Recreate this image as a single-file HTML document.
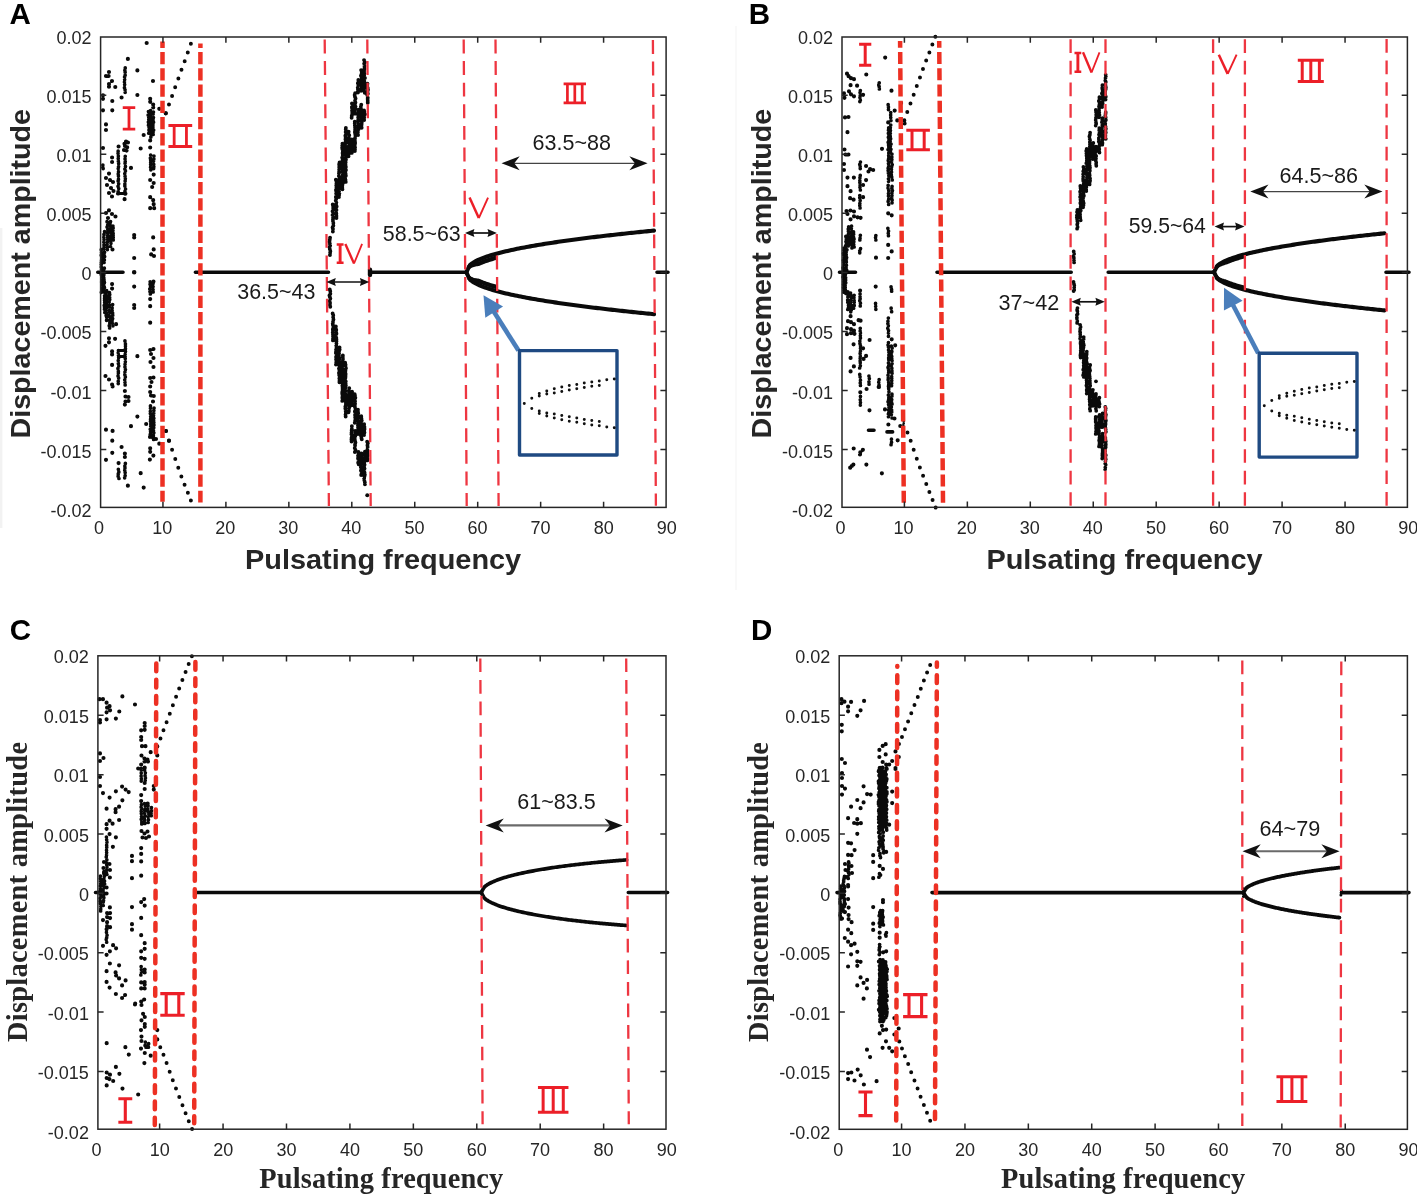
<!DOCTYPE html>
<html><head><meta charset="utf-8"><title>Bifurcation diagrams</title>
<style>html,body{margin:0;padding:0;background:#fff}svg{display:block;will-change:transform;transform:translateZ(0)}</style></head><body>
<svg width="1417" height="1195" viewBox="0 0 1417 1195">
<rect width="1417" height="1195" fill="#fff"/>
<rect x="0" y="228" width="2.4" height="300" fill="#f2f2f2"/><rect x="735.4" y="26" width="1.2" height="564" fill="#f6f6f6"/>
<text x="9.4" y="24" font-family="Liberation Sans, sans-serif" font-weight="bold" font-size="29.5" fill="#000">A</text>
<text x="748.8" y="24" font-family="Liberation Sans, sans-serif" font-weight="bold" font-size="29.5" fill="#000">B</text>
<text x="9.7" y="639.6" font-family="Liberation Sans, sans-serif" font-weight="bold" font-size="29.5" fill="#000">C</text>
<text x="751" y="639.6" font-family="Liberation Sans, sans-serif" font-weight="bold" font-size="29.5" fill="#000">D</text>
<path d="M97.8 272.3H123M195.4 272.3H328.5M371 272.3H466M657 272.3H668" stroke="#0a0a0a" stroke-width="3.6" stroke-linecap="round" fill="none"/>
<path d="M131.9 272.3a2.2800000000000002 2.2800000000000002 0 1 0 4.5600000000000005 0a2.2800000000000002 2.2800000000000002 0 1 0 -4.5600000000000005 0" fill="#0a0a0a"/>
<path d="M370.0 269.8V274.9" fill="none" stroke="#0a0a0a" stroke-width="4.4" stroke-linecap="round"/>
<polyline points="466.40 272.30 468.28 268.22 470.15 264.84 472.03 263.39 473.90 262.18 475.78 261.14 477.66 260.21 479.53 259.36 481.41 258.58 483.28 257.85 485.16 257.16 487.04 256.51 488.91 255.90 490.79 255.31 492.66 254.74 494.54 254.20 496.42 253.68 498.29 253.18 500.17 252.69 502.04 252.22 503.92 251.76 505.80 251.31 507.67 250.88 509.55 250.46 511.42 250.04 513.30 249.64 515.18 249.25 517.05 248.86 518.93 248.48 520.80 248.11 522.68 247.75 524.56 247.39 526.43 247.04 528.31 246.70 530.18 246.36 532.06 246.03 533.94 245.70 535.81 245.38 537.69 245.06 539.56 244.74 541.44 244.44 543.32 244.13 545.19 243.83 547.07 243.54 548.94 243.24 550.82 242.95 552.70 242.67 554.57 242.39 556.45 242.11 558.32 241.83 560.20 241.56 562.08 241.29 563.95 241.03 565.83 240.76 567.70 240.50 569.58 240.25 571.46 239.99 573.33 239.74 575.21 239.49 577.08 239.24 578.96 238.99 580.84 238.75 582.71 238.51 584.59 238.27 586.46 238.03 588.34 237.80 590.22 237.57 592.09 237.34 593.97 237.11 595.84 236.88 597.72 236.66 599.60 236.43 601.47 236.21 603.35 235.99 605.22 235.77 607.10 235.56 608.98 235.34 610.85 235.13 612.73 234.92 614.60 234.71 616.48 234.50 618.36 234.29 620.23 234.09 622.11 233.88 623.98 233.68 625.86 233.48 627.74 233.28 629.61 233.08 631.49 232.88 633.36 232.68 635.24 232.49 637.12 232.30 638.99 232.10 640.87 231.91 642.74 231.72 644.62 231.53 646.50 231.34 648.37 231.16 650.25 230.97 652.12 230.78 654.00 230.60" fill="none" stroke="#0a0a0a" stroke-width="4.1" stroke-linecap="round" stroke-linejoin="round"/>
<polyline points="466.40 272.30 468.28 276.40 470.15 279.79 472.03 281.26 473.90 282.47 475.78 283.51 477.66 284.45 479.53 285.30 481.41 286.09 483.28 286.82 485.16 287.51 487.04 288.16 488.91 288.78 490.79 289.37 492.66 289.94 494.54 290.48 496.42 291.01 498.29 291.51 500.17 292.00 502.04 292.48 503.92 292.94 505.80 293.39 507.67 293.82 509.55 294.25 511.42 294.66 513.30 295.07 515.18 295.46 517.05 295.85 518.93 296.23 520.80 296.60 522.68 296.97 524.56 297.33 526.43 297.68 528.31 298.03 530.18 298.37 532.06 298.70 533.94 299.03 535.81 299.35 537.69 299.67 539.56 299.99 541.44 300.30 543.32 300.60 545.19 300.91 547.07 301.20 548.94 301.50 550.82 301.79 552.70 302.07 554.57 302.36 556.45 302.64 558.32 302.91 560.20 303.19 562.08 303.46 563.95 303.72 565.83 303.99 567.70 304.25 569.58 304.51 571.46 304.77 573.33 305.02 575.21 305.27 577.08 305.52 578.96 305.77 580.84 306.01 582.71 306.25 584.59 306.49 586.46 306.73 588.34 306.97 590.22 307.20 592.09 307.43 593.97 307.66 595.84 307.89 597.72 308.11 599.60 308.34 601.47 308.56 603.35 308.78 605.22 309.00 607.10 309.22 608.98 309.43 610.85 309.65 612.73 309.86 614.60 310.07 616.48 310.28 618.36 310.49 620.23 310.70 622.11 310.90 623.98 311.11 625.86 311.31 627.74 311.51 629.61 311.71 631.49 311.91 633.36 312.11 635.24 312.30 637.12 312.50 638.99 312.69 640.87 312.88 642.74 313.07 644.62 313.26 646.50 313.45 648.37 313.64 650.25 313.83 652.12 314.02 654.00 314.20" fill="none" stroke="#0a0a0a" stroke-width="4.1" stroke-linecap="round" stroke-linejoin="round"/>
<polyline points="468.50 267.22 469.46 266.50 470.42 265.95 471.38 265.51 472.34 265.15 473.30 264.85 474.26 264.59 475.22 264.38 476.18 264.19 477.14 264.03 478.10 263.90 479.06 263.57 480.02 263.15 480.98 262.75 481.94 262.36 482.90 261.99 483.86 261.63 484.82 261.28 485.78 260.94 486.74 260.61 487.70 260.29 488.66 259.98 489.62 259.67 490.58 259.37 491.54 259.08 492.50 258.79 493.46 258.51 494.42 258.24 495.38 257.97 496.34 257.70 497.30 257.44" fill="none" stroke="#0a0a0a" stroke-width="4.4" stroke-linecap="butt" stroke-linejoin="round"/>
<polyline points="468.50 277.40 469.46 278.13 470.42 278.68 471.38 279.13 472.34 279.49 473.30 279.80 474.26 280.05 475.22 280.27 476.18 280.46 477.14 280.62 478.10 280.76 479.06 281.10 480.02 281.51 480.98 281.92 481.94 282.30 482.90 282.68 483.86 283.04 484.82 283.39 485.78 283.73 486.74 284.06 487.70 284.39 488.66 284.70 489.62 285.01 490.58 285.31 491.54 285.60 492.50 285.89 493.46 286.17 494.42 286.45 495.38 286.72 496.34 286.99 497.30 287.25" fill="none" stroke="#0a0a0a" stroke-width="4.4" stroke-linecap="butt" stroke-linejoin="round"/>
<path d="M328.1 237.7a1.95 1.95 0 1 0 3.9 0a1.95 1.95 0 1 0 -3.9 0M327.8 239.8a1.95 1.95 0 1 0 3.9 0a1.95 1.95 0 1 0 -3.9 0M327.5 241.7a1.95 1.95 0 1 0 3.9 0a1.95 1.95 0 1 0 -3.9 0M327.9 243.7a1.95 1.95 0 1 0 3.9 0a1.95 1.95 0 1 0 -3.9 0M328.2 245.4a1.95 1.95 0 1 0 3.9 0a1.95 1.95 0 1 0 -3.9 0M327.6 247.5a1.95 1.95 0 1 0 3.9 0a1.95 1.95 0 1 0 -3.9 0M327.9 249.3a1.95 1.95 0 1 0 3.9 0a1.95 1.95 0 1 0 -3.9 0M328.4 251.2a1.95 1.95 0 1 0 3.9 0a1.95 1.95 0 1 0 -3.9 0M328.2 252.7a1.95 1.95 0 1 0 3.9 0a1.95 1.95 0 1 0 -3.9 0M328.0 255.0a1.95 1.95 0 1 0 3.9 0a1.95 1.95 0 1 0 -3.9 0M327.8 289.5a1.95 1.95 0 1 0 3.9 0a1.95 1.95 0 1 0 -3.9 0M328.3 291.2a1.95 1.95 0 1 0 3.9 0a1.95 1.95 0 1 0 -3.9 0M328.4 293.8a1.95 1.95 0 1 0 3.9 0a1.95 1.95 0 1 0 -3.9 0M327.5 295.4a1.95 1.95 0 1 0 3.9 0a1.95 1.95 0 1 0 -3.9 0M327.9 296.9a1.95 1.95 0 1 0 3.9 0a1.95 1.95 0 1 0 -3.9 0M328.4 298.6a1.95 1.95 0 1 0 3.9 0a1.95 1.95 0 1 0 -3.9 0M327.8 300.9a1.95 1.95 0 1 0 3.9 0a1.95 1.95 0 1 0 -3.9 0M328.1 303.0a1.95 1.95 0 1 0 3.9 0a1.95 1.95 0 1 0 -3.9 0M328.0 304.9a1.95 1.95 0 1 0 3.9 0a1.95 1.95 0 1 0 -3.9 0M328.3 306.8a1.95 1.95 0 1 0 3.9 0a1.95 1.95 0 1 0 -3.9 0M330.8 204.4a1.95 1.95 0 1 0 3.9 0a1.95 1.95 0 1 0 -3.9 0M331.1 205.8a1.95 1.95 0 1 0 3.9 0a1.95 1.95 0 1 0 -3.9 0M331.2 208.0a1.95 1.95 0 1 0 3.9 0a1.95 1.95 0 1 0 -3.9 0M331.5 209.3a1.95 1.95 0 1 0 3.9 0a1.95 1.95 0 1 0 -3.9 0M330.6 211.3a1.95 1.95 0 1 0 3.9 0a1.95 1.95 0 1 0 -3.9 0M331.4 213.6a1.95 1.95 0 1 0 3.9 0a1.95 1.95 0 1 0 -3.9 0M330.6 215.1a1.95 1.95 0 1 0 3.9 0a1.95 1.95 0 1 0 -3.9 0M331.1 217.3a1.95 1.95 0 1 0 3.9 0a1.95 1.95 0 1 0 -3.9 0M331.0 219.2a1.95 1.95 0 1 0 3.9 0a1.95 1.95 0 1 0 -3.9 0M331.0 220.9a1.95 1.95 0 1 0 3.9 0a1.95 1.95 0 1 0 -3.9 0M331.4 223.1a1.95 1.95 0 1 0 3.9 0a1.95 1.95 0 1 0 -3.9 0M331.4 225.5a1.95 1.95 0 1 0 3.9 0a1.95 1.95 0 1 0 -3.9 0M330.6 227.4a1.95 1.95 0 1 0 3.9 0a1.95 1.95 0 1 0 -3.9 0M331.0 229.0a1.95 1.95 0 1 0 3.9 0a1.95 1.95 0 1 0 -3.9 0M330.9 231.5a1.95 1.95 0 1 0 3.9 0a1.95 1.95 0 1 0 -3.9 0M330.7 313.4a1.95 1.95 0 1 0 3.9 0a1.95 1.95 0 1 0 -3.9 0M331.3 315.2a1.95 1.95 0 1 0 3.9 0a1.95 1.95 0 1 0 -3.9 0M331.2 317.3a1.95 1.95 0 1 0 3.9 0a1.95 1.95 0 1 0 -3.9 0M331.5 319.4a1.95 1.95 0 1 0 3.9 0a1.95 1.95 0 1 0 -3.9 0M331.1 321.8a1.95 1.95 0 1 0 3.9 0a1.95 1.95 0 1 0 -3.9 0M330.8 323.6a1.95 1.95 0 1 0 3.9 0a1.95 1.95 0 1 0 -3.9 0M330.9 324.8a1.95 1.95 0 1 0 3.9 0a1.95 1.95 0 1 0 -3.9 0M331.4 327.1a1.95 1.95 0 1 0 3.9 0a1.95 1.95 0 1 0 -3.9 0M330.9 329.3a1.95 1.95 0 1 0 3.9 0a1.95 1.95 0 1 0 -3.9 0M331.0 330.6a1.95 1.95 0 1 0 3.9 0a1.95 1.95 0 1 0 -3.9 0M330.8 332.5a1.95 1.95 0 1 0 3.9 0a1.95 1.95 0 1 0 -3.9 0M331.0 334.7a1.95 1.95 0 1 0 3.9 0a1.95 1.95 0 1 0 -3.9 0M331.1 336.4a1.95 1.95 0 1 0 3.9 0a1.95 1.95 0 1 0 -3.9 0M331.0 338.9a1.95 1.95 0 1 0 3.9 0a1.95 1.95 0 1 0 -3.9 0M331.0 340.4a1.95 1.95 0 1 0 3.9 0a1.95 1.95 0 1 0 -3.9 0M333.9 179.8a1.95 1.95 0 1 0 3.9 0a1.95 1.95 0 1 0 -3.9 0M334.5 181.7a1.95 1.95 0 1 0 3.9 0a1.95 1.95 0 1 0 -3.9 0M334.5 183.4a1.95 1.95 0 1 0 3.9 0a1.95 1.95 0 1 0 -3.9 0M334.3 185.4a1.95 1.95 0 1 0 3.9 0a1.95 1.95 0 1 0 -3.9 0M334.5 187.5a1.95 1.95 0 1 0 3.9 0a1.95 1.95 0 1 0 -3.9 0M334.0 189.9a1.95 1.95 0 1 0 3.9 0a1.95 1.95 0 1 0 -3.9 0M334.3 191.7a1.95 1.95 0 1 0 3.9 0a1.95 1.95 0 1 0 -3.9 0M334.2 193.4a1.95 1.95 0 1 0 3.9 0a1.95 1.95 0 1 0 -3.9 0M334.6 195.6a1.95 1.95 0 1 0 3.9 0a1.95 1.95 0 1 0 -3.9 0M333.9 197.0a1.95 1.95 0 1 0 3.9 0a1.95 1.95 0 1 0 -3.9 0M334.3 198.7a1.95 1.95 0 1 0 3.9 0a1.95 1.95 0 1 0 -3.9 0M333.8 200.6a1.95 1.95 0 1 0 3.9 0a1.95 1.95 0 1 0 -3.9 0M334.4 202.6a1.95 1.95 0 1 0 3.9 0a1.95 1.95 0 1 0 -3.9 0M334.1 204.4a1.95 1.95 0 1 0 3.9 0a1.95 1.95 0 1 0 -3.9 0M334.7 206.4a1.95 1.95 0 1 0 3.9 0a1.95 1.95 0 1 0 -3.9 0M334.0 208.5a1.95 1.95 0 1 0 3.9 0a1.95 1.95 0 1 0 -3.9 0M334.5 209.9a1.95 1.95 0 1 0 3.9 0a1.95 1.95 0 1 0 -3.9 0M334.2 212.8a1.95 1.95 0 1 0 3.9 0a1.95 1.95 0 1 0 -3.9 0M334.4 213.8a1.95 1.95 0 1 0 3.9 0a1.95 1.95 0 1 0 -3.9 0M334.5 215.9a1.95 1.95 0 1 0 3.9 0a1.95 1.95 0 1 0 -3.9 0M334.5 218.0a1.95 1.95 0 1 0 3.9 0a1.95 1.95 0 1 0 -3.9 0M333.9 326.5a1.95 1.95 0 1 0 3.9 0a1.95 1.95 0 1 0 -3.9 0M333.8 328.3a1.95 1.95 0 1 0 3.9 0a1.95 1.95 0 1 0 -3.9 0M334.3 330.0a1.95 1.95 0 1 0 3.9 0a1.95 1.95 0 1 0 -3.9 0M334.3 332.7a1.95 1.95 0 1 0 3.9 0a1.95 1.95 0 1 0 -3.9 0M334.5 333.8a1.95 1.95 0 1 0 3.9 0a1.95 1.95 0 1 0 -3.9 0M333.9 336.1a1.95 1.95 0 1 0 3.9 0a1.95 1.95 0 1 0 -3.9 0M334.4 338.1a1.95 1.95 0 1 0 3.9 0a1.95 1.95 0 1 0 -3.9 0M334.5 339.7a1.95 1.95 0 1 0 3.9 0a1.95 1.95 0 1 0 -3.9 0M334.5 341.5a1.95 1.95 0 1 0 3.9 0a1.95 1.95 0 1 0 -3.9 0M334.5 343.5a1.95 1.95 0 1 0 3.9 0a1.95 1.95 0 1 0 -3.9 0M334.3 345.5a1.95 1.95 0 1 0 3.9 0a1.95 1.95 0 1 0 -3.9 0M334.6 347.4a1.95 1.95 0 1 0 3.9 0a1.95 1.95 0 1 0 -3.9 0M334.1 349.7a1.95 1.95 0 1 0 3.9 0a1.95 1.95 0 1 0 -3.9 0M334.0 351.1a1.95 1.95 0 1 0 3.9 0a1.95 1.95 0 1 0 -3.9 0M333.9 352.9a1.95 1.95 0 1 0 3.9 0a1.95 1.95 0 1 0 -3.9 0M334.7 355.6a1.95 1.95 0 1 0 3.9 0a1.95 1.95 0 1 0 -3.9 0M334.1 356.9a1.95 1.95 0 1 0 3.9 0a1.95 1.95 0 1 0 -3.9 0M334.1 359.3a1.95 1.95 0 1 0 3.9 0a1.95 1.95 0 1 0 -3.9 0M334.4 361.0a1.95 1.95 0 1 0 3.9 0a1.95 1.95 0 1 0 -3.9 0M334.3 362.5a1.95 1.95 0 1 0 3.9 0a1.95 1.95 0 1 0 -3.9 0M334.0 364.6a1.95 1.95 0 1 0 3.9 0a1.95 1.95 0 1 0 -3.9 0M337.6 162.4a1.95 1.95 0 1 0 3.9 0a1.95 1.95 0 1 0 -3.9 0M337.2 164.3a1.95 1.95 0 1 0 3.9 0a1.95 1.95 0 1 0 -3.9 0M337.3 165.9a1.95 1.95 0 1 0 3.9 0a1.95 1.95 0 1 0 -3.9 0M337.3 167.5a1.95 1.95 0 1 0 3.9 0a1.95 1.95 0 1 0 -3.9 0M337.2 169.7a1.95 1.95 0 1 0 3.9 0a1.95 1.95 0 1 0 -3.9 0M337.2 171.4a1.95 1.95 0 1 0 3.9 0a1.95 1.95 0 1 0 -3.9 0M337.0 173.2a1.95 1.95 0 1 0 3.9 0a1.95 1.95 0 1 0 -3.9 0M336.9 176.1a1.95 1.95 0 1 0 3.9 0a1.95 1.95 0 1 0 -3.9 0M337.8 177.6a1.95 1.95 0 1 0 3.9 0a1.95 1.95 0 1 0 -3.9 0M337.0 179.7a1.95 1.95 0 1 0 3.9 0a1.95 1.95 0 1 0 -3.9 0M337.6 181.5a1.95 1.95 0 1 0 3.9 0a1.95 1.95 0 1 0 -3.9 0M337.6 183.2a1.95 1.95 0 1 0 3.9 0a1.95 1.95 0 1 0 -3.9 0M337.7 185.8a1.95 1.95 0 1 0 3.9 0a1.95 1.95 0 1 0 -3.9 0M337.6 187.4a1.95 1.95 0 1 0 3.9 0a1.95 1.95 0 1 0 -3.9 0M337.3 188.9a1.95 1.95 0 1 0 3.9 0a1.95 1.95 0 1 0 -3.9 0M337.1 191.4a1.95 1.95 0 1 0 3.9 0a1.95 1.95 0 1 0 -3.9 0M337.4 193.4a1.95 1.95 0 1 0 3.9 0a1.95 1.95 0 1 0 -3.9 0M337.1 195.3a1.95 1.95 0 1 0 3.9 0a1.95 1.95 0 1 0 -3.9 0M337.0 197.0a1.95 1.95 0 1 0 3.9 0a1.95 1.95 0 1 0 -3.9 0M337.6 347.4a1.95 1.95 0 1 0 3.9 0a1.95 1.95 0 1 0 -3.9 0M337.7 349.5a1.95 1.95 0 1 0 3.9 0a1.95 1.95 0 1 0 -3.9 0M337.2 351.3a1.95 1.95 0 1 0 3.9 0a1.95 1.95 0 1 0 -3.9 0M337.1 353.6a1.95 1.95 0 1 0 3.9 0a1.95 1.95 0 1 0 -3.9 0M336.9 355.6a1.95 1.95 0 1 0 3.9 0a1.95 1.95 0 1 0 -3.9 0M337.3 357.8a1.95 1.95 0 1 0 3.9 0a1.95 1.95 0 1 0 -3.9 0M337.4 358.9a1.95 1.95 0 1 0 3.9 0a1.95 1.95 0 1 0 -3.9 0M337.2 361.2a1.95 1.95 0 1 0 3.9 0a1.95 1.95 0 1 0 -3.9 0M337.6 363.1a1.95 1.95 0 1 0 3.9 0a1.95 1.95 0 1 0 -3.9 0M337.0 364.7a1.95 1.95 0 1 0 3.9 0a1.95 1.95 0 1 0 -3.9 0M337.5 367.1a1.95 1.95 0 1 0 3.9 0a1.95 1.95 0 1 0 -3.9 0M337.0 368.6a1.95 1.95 0 1 0 3.9 0a1.95 1.95 0 1 0 -3.9 0M337.4 370.6a1.95 1.95 0 1 0 3.9 0a1.95 1.95 0 1 0 -3.9 0M337.0 373.0a1.95 1.95 0 1 0 3.9 0a1.95 1.95 0 1 0 -3.9 0M337.2 375.1a1.95 1.95 0 1 0 3.9 0a1.95 1.95 0 1 0 -3.9 0M337.7 377.2a1.95 1.95 0 1 0 3.9 0a1.95 1.95 0 1 0 -3.9 0M337.4 378.4a1.95 1.95 0 1 0 3.9 0a1.95 1.95 0 1 0 -3.9 0M337.5 381.0a1.95 1.95 0 1 0 3.9 0a1.95 1.95 0 1 0 -3.9 0M337.5 382.2a1.95 1.95 0 1 0 3.9 0a1.95 1.95 0 1 0 -3.9 0M340.5 143.6a1.95 1.95 0 1 0 3.9 0a1.95 1.95 0 1 0 -3.9 0M340.3 145.6a1.95 1.95 0 1 0 3.9 0a1.95 1.95 0 1 0 -3.9 0M340.2 147.8a1.95 1.95 0 1 0 3.9 0a1.95 1.95 0 1 0 -3.9 0M340.4 149.1a1.95 1.95 0 1 0 3.9 0a1.95 1.95 0 1 0 -3.9 0M340.9 151.2a1.95 1.95 0 1 0 3.9 0a1.95 1.95 0 1 0 -3.9 0M340.6 153.1a1.95 1.95 0 1 0 3.9 0a1.95 1.95 0 1 0 -3.9 0M340.8 155.0a1.95 1.95 0 1 0 3.9 0a1.95 1.95 0 1 0 -3.9 0M340.2 157.6a1.95 1.95 0 1 0 3.9 0a1.95 1.95 0 1 0 -3.9 0M340.9 158.5a1.95 1.95 0 1 0 3.9 0a1.95 1.95 0 1 0 -3.9 0M340.5 160.4a1.95 1.95 0 1 0 3.9 0a1.95 1.95 0 1 0 -3.9 0M340.3 163.0a1.95 1.95 0 1 0 3.9 0a1.95 1.95 0 1 0 -3.9 0M340.7 164.8a1.95 1.95 0 1 0 3.9 0a1.95 1.95 0 1 0 -3.9 0M340.4 166.1a1.95 1.95 0 1 0 3.9 0a1.95 1.95 0 1 0 -3.9 0M340.1 168.3a1.95 1.95 0 1 0 3.9 0a1.95 1.95 0 1 0 -3.9 0M341.0 170.0a1.95 1.95 0 1 0 3.9 0a1.95 1.95 0 1 0 -3.9 0M340.5 171.9a1.95 1.95 0 1 0 3.9 0a1.95 1.95 0 1 0 -3.9 0M340.8 174.3a1.95 1.95 0 1 0 3.9 0a1.95 1.95 0 1 0 -3.9 0M340.6 176.0a1.95 1.95 0 1 0 3.9 0a1.95 1.95 0 1 0 -3.9 0M340.2 177.5a1.95 1.95 0 1 0 3.9 0a1.95 1.95 0 1 0 -3.9 0M340.1 179.7a1.95 1.95 0 1 0 3.9 0a1.95 1.95 0 1 0 -3.9 0M340.9 181.9a1.95 1.95 0 1 0 3.9 0a1.95 1.95 0 1 0 -3.9 0M340.9 183.3a1.95 1.95 0 1 0 3.9 0a1.95 1.95 0 1 0 -3.9 0M340.4 185.7a1.95 1.95 0 1 0 3.9 0a1.95 1.95 0 1 0 -3.9 0M340.3 187.3a1.95 1.95 0 1 0 3.9 0a1.95 1.95 0 1 0 -3.9 0M340.5 189.3a1.95 1.95 0 1 0 3.9 0a1.95 1.95 0 1 0 -3.9 0M340.9 355.4a1.95 1.95 0 1 0 3.9 0a1.95 1.95 0 1 0 -3.9 0M340.9 357.0a1.95 1.95 0 1 0 3.9 0a1.95 1.95 0 1 0 -3.9 0M341.0 359.1a1.95 1.95 0 1 0 3.9 0a1.95 1.95 0 1 0 -3.9 0M340.8 361.2a1.95 1.95 0 1 0 3.9 0a1.95 1.95 0 1 0 -3.9 0M340.3 363.4a1.95 1.95 0 1 0 3.9 0a1.95 1.95 0 1 0 -3.9 0M340.3 364.8a1.95 1.95 0 1 0 3.9 0a1.95 1.95 0 1 0 -3.9 0M340.2 367.1a1.95 1.95 0 1 0 3.9 0a1.95 1.95 0 1 0 -3.9 0M340.3 368.7a1.95 1.95 0 1 0 3.9 0a1.95 1.95 0 1 0 -3.9 0M340.5 370.1a1.95 1.95 0 1 0 3.9 0a1.95 1.95 0 1 0 -3.9 0M340.5 372.6a1.95 1.95 0 1 0 3.9 0a1.95 1.95 0 1 0 -3.9 0M340.3 374.5a1.95 1.95 0 1 0 3.9 0a1.95 1.95 0 1 0 -3.9 0M340.1 376.6a1.95 1.95 0 1 0 3.9 0a1.95 1.95 0 1 0 -3.9 0M340.7 377.8a1.95 1.95 0 1 0 3.9 0a1.95 1.95 0 1 0 -3.9 0M340.8 380.2a1.95 1.95 0 1 0 3.9 0a1.95 1.95 0 1 0 -3.9 0M340.9 381.4a1.95 1.95 0 1 0 3.9 0a1.95 1.95 0 1 0 -3.9 0M340.5 383.8a1.95 1.95 0 1 0 3.9 0a1.95 1.95 0 1 0 -3.9 0M340.4 385.7a1.95 1.95 0 1 0 3.9 0a1.95 1.95 0 1 0 -3.9 0M340.6 387.9a1.95 1.95 0 1 0 3.9 0a1.95 1.95 0 1 0 -3.9 0M340.7 389.4a1.95 1.95 0 1 0 3.9 0a1.95 1.95 0 1 0 -3.9 0M340.4 391.5a1.95 1.95 0 1 0 3.9 0a1.95 1.95 0 1 0 -3.9 0M340.2 392.9a1.95 1.95 0 1 0 3.9 0a1.95 1.95 0 1 0 -3.9 0M340.4 394.5a1.95 1.95 0 1 0 3.9 0a1.95 1.95 0 1 0 -3.9 0M340.4 397.3a1.95 1.95 0 1 0 3.9 0a1.95 1.95 0 1 0 -3.9 0M340.5 398.3a1.95 1.95 0 1 0 3.9 0a1.95 1.95 0 1 0 -3.9 0M340.3 400.9a1.95 1.95 0 1 0 3.9 0a1.95 1.95 0 1 0 -3.9 0M343.9 127.9a1.95 1.95 0 1 0 3.9 0a1.95 1.95 0 1 0 -3.9 0M343.8 129.6a1.95 1.95 0 1 0 3.9 0a1.95 1.95 0 1 0 -3.9 0M343.7 132.1a1.95 1.95 0 1 0 3.9 0a1.95 1.95 0 1 0 -3.9 0M344.0 134.3a1.95 1.95 0 1 0 3.9 0a1.95 1.95 0 1 0 -3.9 0M343.4 135.8a1.95 1.95 0 1 0 3.9 0a1.95 1.95 0 1 0 -3.9 0M343.7 137.3a1.95 1.95 0 1 0 3.9 0a1.95 1.95 0 1 0 -3.9 0M343.5 139.2a1.95 1.95 0 1 0 3.9 0a1.95 1.95 0 1 0 -3.9 0M343.6 141.6a1.95 1.95 0 1 0 3.9 0a1.95 1.95 0 1 0 -3.9 0M343.4 143.6a1.95 1.95 0 1 0 3.9 0a1.95 1.95 0 1 0 -3.9 0M343.2 145.8a1.95 1.95 0 1 0 3.9 0a1.95 1.95 0 1 0 -3.9 0M343.7 147.0a1.95 1.95 0 1 0 3.9 0a1.95 1.95 0 1 0 -3.9 0M343.7 148.9a1.95 1.95 0 1 0 3.9 0a1.95 1.95 0 1 0 -3.9 0M343.6 151.0a1.95 1.95 0 1 0 3.9 0a1.95 1.95 0 1 0 -3.9 0M343.9 153.4a1.95 1.95 0 1 0 3.9 0a1.95 1.95 0 1 0 -3.9 0M343.4 155.3a1.95 1.95 0 1 0 3.9 0a1.95 1.95 0 1 0 -3.9 0M343.8 157.1a1.95 1.95 0 1 0 3.9 0a1.95 1.95 0 1 0 -3.9 0M344.0 159.2a1.95 1.95 0 1 0 3.9 0a1.95 1.95 0 1 0 -3.9 0M343.8 160.6a1.95 1.95 0 1 0 3.9 0a1.95 1.95 0 1 0 -3.9 0M343.7 162.5a1.95 1.95 0 1 0 3.9 0a1.95 1.95 0 1 0 -3.9 0M343.6 164.9a1.95 1.95 0 1 0 3.9 0a1.95 1.95 0 1 0 -3.9 0M343.9 166.9a1.95 1.95 0 1 0 3.9 0a1.95 1.95 0 1 0 -3.9 0M343.4 168.6a1.95 1.95 0 1 0 3.9 0a1.95 1.95 0 1 0 -3.9 0M344.0 170.1a1.95 1.95 0 1 0 3.9 0a1.95 1.95 0 1 0 -3.9 0M343.4 172.0a1.95 1.95 0 1 0 3.9 0a1.95 1.95 0 1 0 -3.9 0M343.7 173.9a1.95 1.95 0 1 0 3.9 0a1.95 1.95 0 1 0 -3.9 0M343.9 175.8a1.95 1.95 0 1 0 3.9 0a1.95 1.95 0 1 0 -3.9 0M343.2 178.5a1.95 1.95 0 1 0 3.9 0a1.95 1.95 0 1 0 -3.9 0M343.6 180.1a1.95 1.95 0 1 0 3.9 0a1.95 1.95 0 1 0 -3.9 0M343.8 181.9a1.95 1.95 0 1 0 3.9 0a1.95 1.95 0 1 0 -3.9 0M343.2 362.8a1.95 1.95 0 1 0 3.9 0a1.95 1.95 0 1 0 -3.9 0M343.6 364.7a1.95 1.95 0 1 0 3.9 0a1.95 1.95 0 1 0 -3.9 0M343.5 366.0a1.95 1.95 0 1 0 3.9 0a1.95 1.95 0 1 0 -3.9 0M344.0 368.3a1.95 1.95 0 1 0 3.9 0a1.95 1.95 0 1 0 -3.9 0M343.5 370.2a1.95 1.95 0 1 0 3.9 0a1.95 1.95 0 1 0 -3.9 0M343.4 371.7a1.95 1.95 0 1 0 3.9 0a1.95 1.95 0 1 0 -3.9 0M343.7 374.0a1.95 1.95 0 1 0 3.9 0a1.95 1.95 0 1 0 -3.9 0M343.6 376.0a1.95 1.95 0 1 0 3.9 0a1.95 1.95 0 1 0 -3.9 0M343.5 377.7a1.95 1.95 0 1 0 3.9 0a1.95 1.95 0 1 0 -3.9 0M343.3 380.4a1.95 1.95 0 1 0 3.9 0a1.95 1.95 0 1 0 -3.9 0M343.8 381.4a1.95 1.95 0 1 0 3.9 0a1.95 1.95 0 1 0 -3.9 0M343.7 383.7a1.95 1.95 0 1 0 3.9 0a1.95 1.95 0 1 0 -3.9 0M343.9 385.5a1.95 1.95 0 1 0 3.9 0a1.95 1.95 0 1 0 -3.9 0M343.5 387.5a1.95 1.95 0 1 0 3.9 0a1.95 1.95 0 1 0 -3.9 0M343.3 390.0a1.95 1.95 0 1 0 3.9 0a1.95 1.95 0 1 0 -3.9 0M343.2 391.4a1.95 1.95 0 1 0 3.9 0a1.95 1.95 0 1 0 -3.9 0M343.3 393.8a1.95 1.95 0 1 0 3.9 0a1.95 1.95 0 1 0 -3.9 0M343.7 395.2a1.95 1.95 0 1 0 3.9 0a1.95 1.95 0 1 0 -3.9 0M343.8 397.3a1.95 1.95 0 1 0 3.9 0a1.95 1.95 0 1 0 -3.9 0M343.5 399.4a1.95 1.95 0 1 0 3.9 0a1.95 1.95 0 1 0 -3.9 0M343.7 401.6a1.95 1.95 0 1 0 3.9 0a1.95 1.95 0 1 0 -3.9 0M344.0 403.5a1.95 1.95 0 1 0 3.9 0a1.95 1.95 0 1 0 -3.9 0M343.8 405.3a1.95 1.95 0 1 0 3.9 0a1.95 1.95 0 1 0 -3.9 0M343.4 406.7a1.95 1.95 0 1 0 3.9 0a1.95 1.95 0 1 0 -3.9 0M343.4 408.4a1.95 1.95 0 1 0 3.9 0a1.95 1.95 0 1 0 -3.9 0M343.7 411.1a1.95 1.95 0 1 0 3.9 0a1.95 1.95 0 1 0 -3.9 0M343.9 413.0a1.95 1.95 0 1 0 3.9 0a1.95 1.95 0 1 0 -3.9 0M343.6 414.7a1.95 1.95 0 1 0 3.9 0a1.95 1.95 0 1 0 -3.9 0M343.7 416.5a1.95 1.95 0 1 0 3.9 0a1.95 1.95 0 1 0 -3.9 0M346.7 131.8a1.95 1.95 0 1 0 3.9 0a1.95 1.95 0 1 0 -3.9 0M346.4 133.8a1.95 1.95 0 1 0 3.9 0a1.95 1.95 0 1 0 -3.9 0M347.3 135.2a1.95 1.95 0 1 0 3.9 0a1.95 1.95 0 1 0 -3.9 0M346.9 137.9a1.95 1.95 0 1 0 3.9 0a1.95 1.95 0 1 0 -3.9 0M346.5 139.6a1.95 1.95 0 1 0 3.9 0a1.95 1.95 0 1 0 -3.9 0M346.7 141.4a1.95 1.95 0 1 0 3.9 0a1.95 1.95 0 1 0 -3.9 0M346.9 142.8a1.95 1.95 0 1 0 3.9 0a1.95 1.95 0 1 0 -3.9 0M347.0 145.4a1.95 1.95 0 1 0 3.9 0a1.95 1.95 0 1 0 -3.9 0M346.7 146.6a1.95 1.95 0 1 0 3.9 0a1.95 1.95 0 1 0 -3.9 0M347.1 148.5a1.95 1.95 0 1 0 3.9 0a1.95 1.95 0 1 0 -3.9 0M346.9 150.2a1.95 1.95 0 1 0 3.9 0a1.95 1.95 0 1 0 -3.9 0M347.0 152.1a1.95 1.95 0 1 0 3.9 0a1.95 1.95 0 1 0 -3.9 0M346.7 154.1a1.95 1.95 0 1 0 3.9 0a1.95 1.95 0 1 0 -3.9 0M346.6 156.3a1.95 1.95 0 1 0 3.9 0a1.95 1.95 0 1 0 -3.9 0M347.3 388.2a1.95 1.95 0 1 0 3.9 0a1.95 1.95 0 1 0 -3.9 0M346.9 390.7a1.95 1.95 0 1 0 3.9 0a1.95 1.95 0 1 0 -3.9 0M347.0 392.0a1.95 1.95 0 1 0 3.9 0a1.95 1.95 0 1 0 -3.9 0M347.1 393.7a1.95 1.95 0 1 0 3.9 0a1.95 1.95 0 1 0 -3.9 0M347.0 396.4a1.95 1.95 0 1 0 3.9 0a1.95 1.95 0 1 0 -3.9 0M346.8 398.0a1.95 1.95 0 1 0 3.9 0a1.95 1.95 0 1 0 -3.9 0M347.0 400.1a1.95 1.95 0 1 0 3.9 0a1.95 1.95 0 1 0 -3.9 0M346.5 402.0a1.95 1.95 0 1 0 3.9 0a1.95 1.95 0 1 0 -3.9 0M346.6 403.6a1.95 1.95 0 1 0 3.9 0a1.95 1.95 0 1 0 -3.9 0M347.2 405.4a1.95 1.95 0 1 0 3.9 0a1.95 1.95 0 1 0 -3.9 0M347.3 407.2a1.95 1.95 0 1 0 3.9 0a1.95 1.95 0 1 0 -3.9 0M347.0 408.6a1.95 1.95 0 1 0 3.9 0a1.95 1.95 0 1 0 -3.9 0M346.9 411.0a1.95 1.95 0 1 0 3.9 0a1.95 1.95 0 1 0 -3.9 0M346.6 412.3a1.95 1.95 0 1 0 3.9 0a1.95 1.95 0 1 0 -3.9 0M350.0 103.4a1.95 1.95 0 1 0 3.9 0a1.95 1.95 0 1 0 -3.9 0M350.4 104.4a1.95 1.95 0 1 0 3.9 0a1.95 1.95 0 1 0 -3.9 0M349.9 107.1a1.95 1.95 0 1 0 3.9 0a1.95 1.95 0 1 0 -3.9 0M350.1 108.2a1.95 1.95 0 1 0 3.9 0a1.95 1.95 0 1 0 -3.9 0M350.1 110.8a1.95 1.95 0 1 0 3.9 0a1.95 1.95 0 1 0 -3.9 0M350.3 112.8a1.95 1.95 0 1 0 3.9 0a1.95 1.95 0 1 0 -3.9 0M350.2 114.3a1.95 1.95 0 1 0 3.9 0a1.95 1.95 0 1 0 -3.9 0M349.8 116.0a1.95 1.95 0 1 0 3.9 0a1.95 1.95 0 1 0 -3.9 0M349.7 117.8a1.95 1.95 0 1 0 3.9 0a1.95 1.95 0 1 0 -3.9 0M349.9 426.2a1.95 1.95 0 1 0 3.9 0a1.95 1.95 0 1 0 -3.9 0M349.9 428.9a1.95 1.95 0 1 0 3.9 0a1.95 1.95 0 1 0 -3.9 0M349.7 430.2a1.95 1.95 0 1 0 3.9 0a1.95 1.95 0 1 0 -3.9 0M349.6 432.4a1.95 1.95 0 1 0 3.9 0a1.95 1.95 0 1 0 -3.9 0M349.5 434.2a1.95 1.95 0 1 0 3.9 0a1.95 1.95 0 1 0 -3.9 0M350.0 436.0a1.95 1.95 0 1 0 3.9 0a1.95 1.95 0 1 0 -3.9 0M349.6 437.9a1.95 1.95 0 1 0 3.9 0a1.95 1.95 0 1 0 -3.9 0M349.5 439.8a1.95 1.95 0 1 0 3.9 0a1.95 1.95 0 1 0 -3.9 0M349.6 441.6a1.95 1.95 0 1 0 3.9 0a1.95 1.95 0 1 0 -3.9 0M349.8 139.5a1.95 1.95 0 1 0 3.9 0a1.95 1.95 0 1 0 -3.9 0M350.0 141.4a1.95 1.95 0 1 0 3.9 0a1.95 1.95 0 1 0 -3.9 0M349.8 143.1a1.95 1.95 0 1 0 3.9 0a1.95 1.95 0 1 0 -3.9 0M350.0 144.8a1.95 1.95 0 1 0 3.9 0a1.95 1.95 0 1 0 -3.9 0M350.2 147.4a1.95 1.95 0 1 0 3.9 0a1.95 1.95 0 1 0 -3.9 0M350.0 149.0a1.95 1.95 0 1 0 3.9 0a1.95 1.95 0 1 0 -3.9 0M349.6 151.0a1.95 1.95 0 1 0 3.9 0a1.95 1.95 0 1 0 -3.9 0M349.8 152.9a1.95 1.95 0 1 0 3.9 0a1.95 1.95 0 1 0 -3.9 0M350.1 391.7a1.95 1.95 0 1 0 3.9 0a1.95 1.95 0 1 0 -3.9 0M349.7 393.8a1.95 1.95 0 1 0 3.9 0a1.95 1.95 0 1 0 -3.9 0M350.3 395.8a1.95 1.95 0 1 0 3.9 0a1.95 1.95 0 1 0 -3.9 0M349.5 397.4a1.95 1.95 0 1 0 3.9 0a1.95 1.95 0 1 0 -3.9 0M349.6 400.0a1.95 1.95 0 1 0 3.9 0a1.95 1.95 0 1 0 -3.9 0M349.6 401.2a1.95 1.95 0 1 0 3.9 0a1.95 1.95 0 1 0 -3.9 0M350.1 403.6a1.95 1.95 0 1 0 3.9 0a1.95 1.95 0 1 0 -3.9 0M349.7 405.2a1.95 1.95 0 1 0 3.9 0a1.95 1.95 0 1 0 -3.9 0M353.2 93.3a1.95 1.95 0 1 0 3.9 0a1.95 1.95 0 1 0 -3.9 0M352.7 95.0a1.95 1.95 0 1 0 3.9 0a1.95 1.95 0 1 0 -3.9 0M353.0 96.7a1.95 1.95 0 1 0 3.9 0a1.95 1.95 0 1 0 -3.9 0M353.6 98.4a1.95 1.95 0 1 0 3.9 0a1.95 1.95 0 1 0 -3.9 0M353.1 100.7a1.95 1.95 0 1 0 3.9 0a1.95 1.95 0 1 0 -3.9 0M353.5 102.5a1.95 1.95 0 1 0 3.9 0a1.95 1.95 0 1 0 -3.9 0M353.0 104.8a1.95 1.95 0 1 0 3.9 0a1.95 1.95 0 1 0 -3.9 0M353.6 106.6a1.95 1.95 0 1 0 3.9 0a1.95 1.95 0 1 0 -3.9 0M353.3 107.9a1.95 1.95 0 1 0 3.9 0a1.95 1.95 0 1 0 -3.9 0M353.1 109.8a1.95 1.95 0 1 0 3.9 0a1.95 1.95 0 1 0 -3.9 0M353.0 112.0a1.95 1.95 0 1 0 3.9 0a1.95 1.95 0 1 0 -3.9 0M352.9 113.5a1.95 1.95 0 1 0 3.9 0a1.95 1.95 0 1 0 -3.9 0M353.2 430.9a1.95 1.95 0 1 0 3.9 0a1.95 1.95 0 1 0 -3.9 0M353.5 433.0a1.95 1.95 0 1 0 3.9 0a1.95 1.95 0 1 0 -3.9 0M353.1 434.6a1.95 1.95 0 1 0 3.9 0a1.95 1.95 0 1 0 -3.9 0M353.3 436.1a1.95 1.95 0 1 0 3.9 0a1.95 1.95 0 1 0 -3.9 0M352.8 438.1a1.95 1.95 0 1 0 3.9 0a1.95 1.95 0 1 0 -3.9 0M353.0 440.3a1.95 1.95 0 1 0 3.9 0a1.95 1.95 0 1 0 -3.9 0M353.5 442.5a1.95 1.95 0 1 0 3.9 0a1.95 1.95 0 1 0 -3.9 0M353.1 444.4a1.95 1.95 0 1 0 3.9 0a1.95 1.95 0 1 0 -3.9 0M353.1 445.6a1.95 1.95 0 1 0 3.9 0a1.95 1.95 0 1 0 -3.9 0M352.8 448.1a1.95 1.95 0 1 0 3.9 0a1.95 1.95 0 1 0 -3.9 0M353.5 450.0a1.95 1.95 0 1 0 3.9 0a1.95 1.95 0 1 0 -3.9 0M352.9 452.1a1.95 1.95 0 1 0 3.9 0a1.95 1.95 0 1 0 -3.9 0M352.8 121.7a1.95 1.95 0 1 0 3.9 0a1.95 1.95 0 1 0 -3.9 0M352.8 123.6a1.95 1.95 0 1 0 3.9 0a1.95 1.95 0 1 0 -3.9 0M352.9 125.4a1.95 1.95 0 1 0 3.9 0a1.95 1.95 0 1 0 -3.9 0M353.1 127.7a1.95 1.95 0 1 0 3.9 0a1.95 1.95 0 1 0 -3.9 0M353.1 129.9a1.95 1.95 0 1 0 3.9 0a1.95 1.95 0 1 0 -3.9 0M352.9 132.1a1.95 1.95 0 1 0 3.9 0a1.95 1.95 0 1 0 -3.9 0M353.2 133.7a1.95 1.95 0 1 0 3.9 0a1.95 1.95 0 1 0 -3.9 0M353.5 135.5a1.95 1.95 0 1 0 3.9 0a1.95 1.95 0 1 0 -3.9 0M353.1 137.9a1.95 1.95 0 1 0 3.9 0a1.95 1.95 0 1 0 -3.9 0M352.9 139.9a1.95 1.95 0 1 0 3.9 0a1.95 1.95 0 1 0 -3.9 0M353.0 141.3a1.95 1.95 0 1 0 3.9 0a1.95 1.95 0 1 0 -3.9 0M353.2 142.9a1.95 1.95 0 1 0 3.9 0a1.95 1.95 0 1 0 -3.9 0M352.9 144.7a1.95 1.95 0 1 0 3.9 0a1.95 1.95 0 1 0 -3.9 0M353.1 147.4a1.95 1.95 0 1 0 3.9 0a1.95 1.95 0 1 0 -3.9 0M353.0 149.4a1.95 1.95 0 1 0 3.9 0a1.95 1.95 0 1 0 -3.9 0M352.9 151.0a1.95 1.95 0 1 0 3.9 0a1.95 1.95 0 1 0 -3.9 0M352.7 394.1a1.95 1.95 0 1 0 3.9 0a1.95 1.95 0 1 0 -3.9 0M353.0 395.3a1.95 1.95 0 1 0 3.9 0a1.95 1.95 0 1 0 -3.9 0M353.4 397.7a1.95 1.95 0 1 0 3.9 0a1.95 1.95 0 1 0 -3.9 0M352.8 399.2a1.95 1.95 0 1 0 3.9 0a1.95 1.95 0 1 0 -3.9 0M353.1 401.2a1.95 1.95 0 1 0 3.9 0a1.95 1.95 0 1 0 -3.9 0M353.1 403.7a1.95 1.95 0 1 0 3.9 0a1.95 1.95 0 1 0 -3.9 0M352.9 405.0a1.95 1.95 0 1 0 3.9 0a1.95 1.95 0 1 0 -3.9 0M353.0 407.1a1.95 1.95 0 1 0 3.9 0a1.95 1.95 0 1 0 -3.9 0M353.5 409.1a1.95 1.95 0 1 0 3.9 0a1.95 1.95 0 1 0 -3.9 0M352.9 411.4a1.95 1.95 0 1 0 3.9 0a1.95 1.95 0 1 0 -3.9 0M353.5 413.4a1.95 1.95 0 1 0 3.9 0a1.95 1.95 0 1 0 -3.9 0M353.1 414.9a1.95 1.95 0 1 0 3.9 0a1.95 1.95 0 1 0 -3.9 0M353.2 417.3a1.95 1.95 0 1 0 3.9 0a1.95 1.95 0 1 0 -3.9 0M353.5 418.4a1.95 1.95 0 1 0 3.9 0a1.95 1.95 0 1 0 -3.9 0M353.2 420.5a1.95 1.95 0 1 0 3.9 0a1.95 1.95 0 1 0 -3.9 0M352.8 422.8a1.95 1.95 0 1 0 3.9 0a1.95 1.95 0 1 0 -3.9 0M356.4 79.9a1.95 1.95 0 1 0 3.9 0a1.95 1.95 0 1 0 -3.9 0M356.6 81.8a1.95 1.95 0 1 0 3.9 0a1.95 1.95 0 1 0 -3.9 0M355.9 83.3a1.95 1.95 0 1 0 3.9 0a1.95 1.95 0 1 0 -3.9 0M356.4 85.2a1.95 1.95 0 1 0 3.9 0a1.95 1.95 0 1 0 -3.9 0M355.8 87.7a1.95 1.95 0 1 0 3.9 0a1.95 1.95 0 1 0 -3.9 0M356.0 89.5a1.95 1.95 0 1 0 3.9 0a1.95 1.95 0 1 0 -3.9 0M356.0 91.3a1.95 1.95 0 1 0 3.9 0a1.95 1.95 0 1 0 -3.9 0M356.0 92.6a1.95 1.95 0 1 0 3.9 0a1.95 1.95 0 1 0 -3.9 0M356.5 451.9a1.95 1.95 0 1 0 3.9 0a1.95 1.95 0 1 0 -3.9 0M356.6 453.3a1.95 1.95 0 1 0 3.9 0a1.95 1.95 0 1 0 -3.9 0M356.1 455.7a1.95 1.95 0 1 0 3.9 0a1.95 1.95 0 1 0 -3.9 0M356.2 457.5a1.95 1.95 0 1 0 3.9 0a1.95 1.95 0 1 0 -3.9 0M356.1 458.6a1.95 1.95 0 1 0 3.9 0a1.95 1.95 0 1 0 -3.9 0M356.6 461.0a1.95 1.95 0 1 0 3.9 0a1.95 1.95 0 1 0 -3.9 0M356.2 462.8a1.95 1.95 0 1 0 3.9 0a1.95 1.95 0 1 0 -3.9 0M356.7 464.2a1.95 1.95 0 1 0 3.9 0a1.95 1.95 0 1 0 -3.9 0M356.6 109.8a1.95 1.95 0 1 0 3.9 0a1.95 1.95 0 1 0 -3.9 0M356.7 112.1a1.95 1.95 0 1 0 3.9 0a1.95 1.95 0 1 0 -3.9 0M355.9 114.1a1.95 1.95 0 1 0 3.9 0a1.95 1.95 0 1 0 -3.9 0M356.4 115.4a1.95 1.95 0 1 0 3.9 0a1.95 1.95 0 1 0 -3.9 0M356.2 117.4a1.95 1.95 0 1 0 3.9 0a1.95 1.95 0 1 0 -3.9 0M356.3 119.7a1.95 1.95 0 1 0 3.9 0a1.95 1.95 0 1 0 -3.9 0M356.0 121.3a1.95 1.95 0 1 0 3.9 0a1.95 1.95 0 1 0 -3.9 0M356.6 123.9a1.95 1.95 0 1 0 3.9 0a1.95 1.95 0 1 0 -3.9 0M356.6 125.1a1.95 1.95 0 1 0 3.9 0a1.95 1.95 0 1 0 -3.9 0M356.3 127.2a1.95 1.95 0 1 0 3.9 0a1.95 1.95 0 1 0 -3.9 0M356.7 129.0a1.95 1.95 0 1 0 3.9 0a1.95 1.95 0 1 0 -3.9 0M355.9 131.1a1.95 1.95 0 1 0 3.9 0a1.95 1.95 0 1 0 -3.9 0M355.9 132.6a1.95 1.95 0 1 0 3.9 0a1.95 1.95 0 1 0 -3.9 0M356.1 135.1a1.95 1.95 0 1 0 3.9 0a1.95 1.95 0 1 0 -3.9 0M356.0 409.6a1.95 1.95 0 1 0 3.9 0a1.95 1.95 0 1 0 -3.9 0M356.0 411.1a1.95 1.95 0 1 0 3.9 0a1.95 1.95 0 1 0 -3.9 0M356.3 413.2a1.95 1.95 0 1 0 3.9 0a1.95 1.95 0 1 0 -3.9 0M356.0 415.4a1.95 1.95 0 1 0 3.9 0a1.95 1.95 0 1 0 -3.9 0M356.7 417.3a1.95 1.95 0 1 0 3.9 0a1.95 1.95 0 1 0 -3.9 0M355.8 419.4a1.95 1.95 0 1 0 3.9 0a1.95 1.95 0 1 0 -3.9 0M356.3 421.0a1.95 1.95 0 1 0 3.9 0a1.95 1.95 0 1 0 -3.9 0M356.3 423.3a1.95 1.95 0 1 0 3.9 0a1.95 1.95 0 1 0 -3.9 0M356.0 425.3a1.95 1.95 0 1 0 3.9 0a1.95 1.95 0 1 0 -3.9 0M356.1 427.3a1.95 1.95 0 1 0 3.9 0a1.95 1.95 0 1 0 -3.9 0M356.2 429.1a1.95 1.95 0 1 0 3.9 0a1.95 1.95 0 1 0 -3.9 0M356.7 430.7a1.95 1.95 0 1 0 3.9 0a1.95 1.95 0 1 0 -3.9 0M355.9 433.0a1.95 1.95 0 1 0 3.9 0a1.95 1.95 0 1 0 -3.9 0M356.0 434.1a1.95 1.95 0 1 0 3.9 0a1.95 1.95 0 1 0 -3.9 0M359.2 70.1a1.95 1.95 0 1 0 3.9 0a1.95 1.95 0 1 0 -3.9 0M359.8 72.0a1.95 1.95 0 1 0 3.9 0a1.95 1.95 0 1 0 -3.9 0M359.6 74.1a1.95 1.95 0 1 0 3.9 0a1.95 1.95 0 1 0 -3.9 0M359.0 75.7a1.95 1.95 0 1 0 3.9 0a1.95 1.95 0 1 0 -3.9 0M359.6 77.3a1.95 1.95 0 1 0 3.9 0a1.95 1.95 0 1 0 -3.9 0M359.5 79.7a1.95 1.95 0 1 0 3.9 0a1.95 1.95 0 1 0 -3.9 0M359.5 81.9a1.95 1.95 0 1 0 3.9 0a1.95 1.95 0 1 0 -3.9 0M358.9 83.5a1.95 1.95 0 1 0 3.9 0a1.95 1.95 0 1 0 -3.9 0M359.4 85.0a1.95 1.95 0 1 0 3.9 0a1.95 1.95 0 1 0 -3.9 0M359.8 86.8a1.95 1.95 0 1 0 3.9 0a1.95 1.95 0 1 0 -3.9 0M359.0 89.2a1.95 1.95 0 1 0 3.9 0a1.95 1.95 0 1 0 -3.9 0M359.1 90.8a1.95 1.95 0 1 0 3.9 0a1.95 1.95 0 1 0 -3.9 0M359.6 453.4a1.95 1.95 0 1 0 3.9 0a1.95 1.95 0 1 0 -3.9 0M359.5 455.6a1.95 1.95 0 1 0 3.9 0a1.95 1.95 0 1 0 -3.9 0M359.6 456.9a1.95 1.95 0 1 0 3.9 0a1.95 1.95 0 1 0 -3.9 0M359.1 459.7a1.95 1.95 0 1 0 3.9 0a1.95 1.95 0 1 0 -3.9 0M359.8 460.9a1.95 1.95 0 1 0 3.9 0a1.95 1.95 0 1 0 -3.9 0M359.6 463.1a1.95 1.95 0 1 0 3.9 0a1.95 1.95 0 1 0 -3.9 0M359.1 465.0a1.95 1.95 0 1 0 3.9 0a1.95 1.95 0 1 0 -3.9 0M358.9 467.2a1.95 1.95 0 1 0 3.9 0a1.95 1.95 0 1 0 -3.9 0M359.7 469.0a1.95 1.95 0 1 0 3.9 0a1.95 1.95 0 1 0 -3.9 0M359.0 470.4a1.95 1.95 0 1 0 3.9 0a1.95 1.95 0 1 0 -3.9 0M359.7 473.0a1.95 1.95 0 1 0 3.9 0a1.95 1.95 0 1 0 -3.9 0M359.2 475.0a1.95 1.95 0 1 0 3.9 0a1.95 1.95 0 1 0 -3.9 0M359.3 104.7a1.95 1.95 0 1 0 3.9 0a1.95 1.95 0 1 0 -3.9 0M358.9 106.7a1.95 1.95 0 1 0 3.9 0a1.95 1.95 0 1 0 -3.9 0M359.0 108.7a1.95 1.95 0 1 0 3.9 0a1.95 1.95 0 1 0 -3.9 0M359.6 110.4a1.95 1.95 0 1 0 3.9 0a1.95 1.95 0 1 0 -3.9 0M359.3 112.9a1.95 1.95 0 1 0 3.9 0a1.95 1.95 0 1 0 -3.9 0M359.8 114.5a1.95 1.95 0 1 0 3.9 0a1.95 1.95 0 1 0 -3.9 0M359.4 116.2a1.95 1.95 0 1 0 3.9 0a1.95 1.95 0 1 0 -3.9 0M359.7 118.0a1.95 1.95 0 1 0 3.9 0a1.95 1.95 0 1 0 -3.9 0M359.3 120.5a1.95 1.95 0 1 0 3.9 0a1.95 1.95 0 1 0 -3.9 0M359.8 122.6a1.95 1.95 0 1 0 3.9 0a1.95 1.95 0 1 0 -3.9 0M359.7 123.9a1.95 1.95 0 1 0 3.9 0a1.95 1.95 0 1 0 -3.9 0M359.5 125.7a1.95 1.95 0 1 0 3.9 0a1.95 1.95 0 1 0 -3.9 0M359.7 127.8a1.95 1.95 0 1 0 3.9 0a1.95 1.95 0 1 0 -3.9 0M359.3 416.2a1.95 1.95 0 1 0 3.9 0a1.95 1.95 0 1 0 -3.9 0M359.5 418.4a1.95 1.95 0 1 0 3.9 0a1.95 1.95 0 1 0 -3.9 0M359.8 420.5a1.95 1.95 0 1 0 3.9 0a1.95 1.95 0 1 0 -3.9 0M359.0 422.8a1.95 1.95 0 1 0 3.9 0a1.95 1.95 0 1 0 -3.9 0M359.3 424.6a1.95 1.95 0 1 0 3.9 0a1.95 1.95 0 1 0 -3.9 0M359.5 426.6a1.95 1.95 0 1 0 3.9 0a1.95 1.95 0 1 0 -3.9 0M359.5 427.7a1.95 1.95 0 1 0 3.9 0a1.95 1.95 0 1 0 -3.9 0M359.2 430.0a1.95 1.95 0 1 0 3.9 0a1.95 1.95 0 1 0 -3.9 0M359.2 431.9a1.95 1.95 0 1 0 3.9 0a1.95 1.95 0 1 0 -3.9 0M359.6 433.8a1.95 1.95 0 1 0 3.9 0a1.95 1.95 0 1 0 -3.9 0M359.1 436.0a1.95 1.95 0 1 0 3.9 0a1.95 1.95 0 1 0 -3.9 0M359.5 438.1a1.95 1.95 0 1 0 3.9 0a1.95 1.95 0 1 0 -3.9 0M359.8 439.2a1.95 1.95 0 1 0 3.9 0a1.95 1.95 0 1 0 -3.9 0M362.1 60.1a1.95 1.95 0 1 0 3.9 0a1.95 1.95 0 1 0 -3.9 0M362.9 62.3a1.95 1.95 0 1 0 3.9 0a1.95 1.95 0 1 0 -3.9 0M362.2 63.6a1.95 1.95 0 1 0 3.9 0a1.95 1.95 0 1 0 -3.9 0M362.5 65.9a1.95 1.95 0 1 0 3.9 0a1.95 1.95 0 1 0 -3.9 0M362.5 68.1a1.95 1.95 0 1 0 3.9 0a1.95 1.95 0 1 0 -3.9 0M362.4 69.6a1.95 1.95 0 1 0 3.9 0a1.95 1.95 0 1 0 -3.9 0M362.1 71.4a1.95 1.95 0 1 0 3.9 0a1.95 1.95 0 1 0 -3.9 0M362.4 73.5a1.95 1.95 0 1 0 3.9 0a1.95 1.95 0 1 0 -3.9 0M362.2 75.5a1.95 1.95 0 1 0 3.9 0a1.95 1.95 0 1 0 -3.9 0M363.0 77.9a1.95 1.95 0 1 0 3.9 0a1.95 1.95 0 1 0 -3.9 0M362.1 79.7a1.95 1.95 0 1 0 3.9 0a1.95 1.95 0 1 0 -3.9 0M362.4 81.2a1.95 1.95 0 1 0 3.9 0a1.95 1.95 0 1 0 -3.9 0M362.2 83.3a1.95 1.95 0 1 0 3.9 0a1.95 1.95 0 1 0 -3.9 0M362.4 85.2a1.95 1.95 0 1 0 3.9 0a1.95 1.95 0 1 0 -3.9 0M362.5 87.0a1.95 1.95 0 1 0 3.9 0a1.95 1.95 0 1 0 -3.9 0M362.2 88.7a1.95 1.95 0 1 0 3.9 0a1.95 1.95 0 1 0 -3.9 0M362.2 91.1a1.95 1.95 0 1 0 3.9 0a1.95 1.95 0 1 0 -3.9 0M362.8 92.8a1.95 1.95 0 1 0 3.9 0a1.95 1.95 0 1 0 -3.9 0M363.0 451.7a1.95 1.95 0 1 0 3.9 0a1.95 1.95 0 1 0 -3.9 0M362.3 454.0a1.95 1.95 0 1 0 3.9 0a1.95 1.95 0 1 0 -3.9 0M363.0 455.1a1.95 1.95 0 1 0 3.9 0a1.95 1.95 0 1 0 -3.9 0M362.9 457.7a1.95 1.95 0 1 0 3.9 0a1.95 1.95 0 1 0 -3.9 0M362.2 459.3a1.95 1.95 0 1 0 3.9 0a1.95 1.95 0 1 0 -3.9 0M362.3 460.9a1.95 1.95 0 1 0 3.9 0a1.95 1.95 0 1 0 -3.9 0M362.2 462.8a1.95 1.95 0 1 0 3.9 0a1.95 1.95 0 1 0 -3.9 0M362.6 464.8a1.95 1.95 0 1 0 3.9 0a1.95 1.95 0 1 0 -3.9 0M362.3 467.3a1.95 1.95 0 1 0 3.9 0a1.95 1.95 0 1 0 -3.9 0M362.6 468.6a1.95 1.95 0 1 0 3.9 0a1.95 1.95 0 1 0 -3.9 0M362.3 471.0a1.95 1.95 0 1 0 3.9 0a1.95 1.95 0 1 0 -3.9 0M362.6 472.8a1.95 1.95 0 1 0 3.9 0a1.95 1.95 0 1 0 -3.9 0M362.9 474.8a1.95 1.95 0 1 0 3.9 0a1.95 1.95 0 1 0 -3.9 0M362.5 476.5a1.95 1.95 0 1 0 3.9 0a1.95 1.95 0 1 0 -3.9 0M362.2 478.4a1.95 1.95 0 1 0 3.9 0a1.95 1.95 0 1 0 -3.9 0M362.4 480.3a1.95 1.95 0 1 0 3.9 0a1.95 1.95 0 1 0 -3.9 0M362.9 482.5a1.95 1.95 0 1 0 3.9 0a1.95 1.95 0 1 0 -3.9 0M363.0 484.2a1.95 1.95 0 1 0 3.9 0a1.95 1.95 0 1 0 -3.9 0M362.1 110.4a1.95 1.95 0 1 0 3.9 0a1.95 1.95 0 1 0 -3.9 0M362.4 111.7a1.95 1.95 0 1 0 3.9 0a1.95 1.95 0 1 0 -3.9 0M363.0 114.3a1.95 1.95 0 1 0 3.9 0a1.95 1.95 0 1 0 -3.9 0M362.2 115.8a1.95 1.95 0 1 0 3.9 0a1.95 1.95 0 1 0 -3.9 0M362.2 117.8a1.95 1.95 0 1 0 3.9 0a1.95 1.95 0 1 0 -3.9 0M362.2 120.0a1.95 1.95 0 1 0 3.9 0a1.95 1.95 0 1 0 -3.9 0M362.2 424.3a1.95 1.95 0 1 0 3.9 0a1.95 1.95 0 1 0 -3.9 0M362.5 426.9a1.95 1.95 0 1 0 3.9 0a1.95 1.95 0 1 0 -3.9 0M362.6 429.1a1.95 1.95 0 1 0 3.9 0a1.95 1.95 0 1 0 -3.9 0M362.2 430.5a1.95 1.95 0 1 0 3.9 0a1.95 1.95 0 1 0 -3.9 0M362.5 432.5a1.95 1.95 0 1 0 3.9 0a1.95 1.95 0 1 0 -3.9 0M362.1 435.0a1.95 1.95 0 1 0 3.9 0a1.95 1.95 0 1 0 -3.9 0M365.5 83.7a1.95 1.95 0 1 0 3.9 0a1.95 1.95 0 1 0 -3.9 0M365.3 85.9a1.95 1.95 0 1 0 3.9 0a1.95 1.95 0 1 0 -3.9 0M365.8 88.1a1.95 1.95 0 1 0 3.9 0a1.95 1.95 0 1 0 -3.9 0M366.0 89.8a1.95 1.95 0 1 0 3.9 0a1.95 1.95 0 1 0 -3.9 0M365.6 91.7a1.95 1.95 0 1 0 3.9 0a1.95 1.95 0 1 0 -3.9 0M365.9 93.7a1.95 1.95 0 1 0 3.9 0a1.95 1.95 0 1 0 -3.9 0M365.3 94.9a1.95 1.95 0 1 0 3.9 0a1.95 1.95 0 1 0 -3.9 0M365.8 97.7a1.95 1.95 0 1 0 3.9 0a1.95 1.95 0 1 0 -3.9 0M365.7 98.9a1.95 1.95 0 1 0 3.9 0a1.95 1.95 0 1 0 -3.9 0M365.8 100.9a1.95 1.95 0 1 0 3.9 0a1.95 1.95 0 1 0 -3.9 0M365.8 102.7a1.95 1.95 0 1 0 3.9 0a1.95 1.95 0 1 0 -3.9 0M365.2 441.7a1.95 1.95 0 1 0 3.9 0a1.95 1.95 0 1 0 -3.9 0M365.9 443.3a1.95 1.95 0 1 0 3.9 0a1.95 1.95 0 1 0 -3.9 0M365.5 445.3a1.95 1.95 0 1 0 3.9 0a1.95 1.95 0 1 0 -3.9 0M365.7 447.1a1.95 1.95 0 1 0 3.9 0a1.95 1.95 0 1 0 -3.9 0M365.4 449.7a1.95 1.95 0 1 0 3.9 0a1.95 1.95 0 1 0 -3.9 0M365.3 451.0a1.95 1.95 0 1 0 3.9 0a1.95 1.95 0 1 0 -3.9 0M365.4 453.2a1.95 1.95 0 1 0 3.9 0a1.95 1.95 0 1 0 -3.9 0M365.6 455.3a1.95 1.95 0 1 0 3.9 0a1.95 1.95 0 1 0 -3.9 0M365.4 456.4a1.95 1.95 0 1 0 3.9 0a1.95 1.95 0 1 0 -3.9 0M365.5 459.1a1.95 1.95 0 1 0 3.9 0a1.95 1.95 0 1 0 -3.9 0M365.3 460.4a1.95 1.95 0 1 0 3.9 0a1.95 1.95 0 1 0 -3.9 0" fill="#0a0a0a"/>
<path d="M365.3 495.3a1.98 1.98 0 1 0 3.96 0a1.98 1.98 0 1 0 -3.96 0" fill="#0a0a0a"/>
<path d="M144.6 43.0a2.08 2.08 0 1 0 4.16 0a2.08 2.08 0 1 0 -4.16 0M125.8 58.9a2.08 2.08 0 1 0 4.16 0a2.08 2.08 0 1 0 -4.16 0M135.3 70.4a2.08 2.08 0 1 0 4.16 0a2.08 2.08 0 1 0 -4.16 0M106.9 72.0a2.08 2.08 0 1 0 4.16 0a2.08 2.08 0 1 0 -4.16 0M103.9 76.0a2.08 2.08 0 1 0 4.16 0a2.08 2.08 0 1 0 -4.16 0M106.5 76.0a2.08 2.08 0 1 0 4.16 0a2.08 2.08 0 1 0 -4.16 0M109.9 81.0a2.08 2.08 0 1 0 4.16 0a2.08 2.08 0 1 0 -4.16 0M106.9 84.0a2.08 2.08 0 1 0 4.16 0a2.08 2.08 0 1 0 -4.16 0M106.9 86.7a2.08 2.08 0 1 0 4.16 0a2.08 2.08 0 1 0 -4.16 0M113.2 87.0a2.08 2.08 0 1 0 4.16 0a2.08 2.08 0 1 0 -4.16 0M150.9 81.0a2.08 2.08 0 1 0 4.16 0a2.08 2.08 0 1 0 -4.16 0M135.3 95.0a2.08 2.08 0 1 0 4.16 0a2.08 2.08 0 1 0 -4.16 0M119.5 97.5a2.08 2.08 0 1 0 4.16 0a2.08 2.08 0 1 0 -4.16 0M100.9 95.3a2.08 2.08 0 1 0 4.16 0a2.08 2.08 0 1 0 -4.16 0M100.9 98.8a2.08 2.08 0 1 0 4.16 0a2.08 2.08 0 1 0 -4.16 0M110.2 101.0a2.08 2.08 0 1 0 4.16 0a2.08 2.08 0 1 0 -4.16 0M100.9 110.3a2.08 2.08 0 1 0 4.16 0a2.08 2.08 0 1 0 -4.16 0M110.2 110.3a2.08 2.08 0 1 0 4.16 0a2.08 2.08 0 1 0 -4.16 0M103.9 124.4a2.08 2.08 0 1 0 4.16 0a2.08 2.08 0 1 0 -4.16 0M103.9 130.0a2.08 2.08 0 1 0 4.16 0a2.08 2.08 0 1 0 -4.16 0M148.1 98.8a2.08 2.08 0 1 0 4.16 0a2.08 2.08 0 1 0 -4.16 0M148.1 101.8a2.08 2.08 0 1 0 4.16 0a2.08 2.08 0 1 0 -4.16 0M151.1 104.5a2.08 2.08 0 1 0 4.16 0a2.08 2.08 0 1 0 -4.16 0M151.1 107.5a2.08 2.08 0 1 0 4.16 0a2.08 2.08 0 1 0 -4.16 0M157.2 108.8a2.08 2.08 0 1 0 4.16 0a2.08 2.08 0 1 0 -4.16 0M163.7 113.3a2.08 2.08 0 1 0 4.16 0a2.08 2.08 0 1 0 -4.16 0M141.6 135.0a2.08 2.08 0 1 0 4.16 0a2.08 2.08 0 1 0 -4.16 0M148.1 140.4a2.08 2.08 0 1 0 4.16 0a2.08 2.08 0 1 0 -4.16 0M123.9 141.5a2.08 2.08 0 1 0 4.16 0a2.08 2.08 0 1 0 -4.16 0M125.9 142.5a2.08 2.08 0 1 0 4.16 0a2.08 2.08 0 1 0 -4.16 0M116.5 146.5a2.08 2.08 0 1 0 4.16 0a2.08 2.08 0 1 0 -4.16 0M138.6 148.5a2.08 2.08 0 1 0 4.16 0a2.08 2.08 0 1 0 -4.16 0M148.1 147.5a2.08 2.08 0 1 0 4.16 0a2.08 2.08 0 1 0 -4.16 0M122.9 146.0a2.08 2.08 0 1 0 4.16 0a2.08 2.08 0 1 0 -4.16 0M100.9 148.0a2.08 2.08 0 1 0 4.16 0a2.08 2.08 0 1 0 -4.16 0M122.4 143.8a2.08 2.08 0 1 0 4.16 0a2.08 2.08 0 1 0 -4.16 0M125.1 147.3a2.08 2.08 0 1 0 4.16 0a2.08 2.08 0 1 0 -4.16 0M121.9 150.0a2.08 2.08 0 1 0 4.16 0a2.08 2.08 0 1 0 -4.16 0M124.5 150.6a2.08 2.08 0 1 0 4.16 0a2.08 2.08 0 1 0 -4.16 0M128.9 167.9a2.08 2.08 0 1 0 4.16 0a2.08 2.08 0 1 0 -4.16 0M110.0 157.5a2.08 2.08 0 1 0 4.16 0a2.08 2.08 0 1 0 -4.16 0M110.0 162.0a2.08 2.08 0 1 0 4.16 0a2.08 2.08 0 1 0 -4.16 0M106.9 173.6a2.08 2.08 0 1 0 4.16 0a2.08 2.08 0 1 0 -4.16 0M103.9 178.0a2.08 2.08 0 1 0 4.16 0a2.08 2.08 0 1 0 -4.16 0M107.9 180.0a2.08 2.08 0 1 0 4.16 0a2.08 2.08 0 1 0 -4.16 0M110.9 182.0a2.08 2.08 0 1 0 4.16 0a2.08 2.08 0 1 0 -4.16 0M104.9 185.0a2.08 2.08 0 1 0 4.16 0a2.08 2.08 0 1 0 -4.16 0M108.9 188.0a2.08 2.08 0 1 0 4.16 0a2.08 2.08 0 1 0 -4.16 0M111.4 191.0a2.08 2.08 0 1 0 4.16 0a2.08 2.08 0 1 0 -4.16 0M106.9 193.0a2.08 2.08 0 1 0 4.16 0a2.08 2.08 0 1 0 -4.16 0M109.9 196.5a2.08 2.08 0 1 0 4.16 0a2.08 2.08 0 1 0 -4.16 0M151.6 174.6a2.08 2.08 0 1 0 4.16 0a2.08 2.08 0 1 0 -4.16 0M148.1 180.0a2.08 2.08 0 1 0 4.16 0a2.08 2.08 0 1 0 -4.16 0M151.6 183.0a2.08 2.08 0 1 0 4.16 0a2.08 2.08 0 1 0 -4.16 0M150.1 187.0a2.08 2.08 0 1 0 4.16 0a2.08 2.08 0 1 0 -4.16 0M148.1 197.2a2.08 2.08 0 1 0 4.16 0a2.08 2.08 0 1 0 -4.16 0M151.1 200.2a2.08 2.08 0 1 0 4.16 0a2.08 2.08 0 1 0 -4.16 0M151.6 204.2a2.08 2.08 0 1 0 4.16 0a2.08 2.08 0 1 0 -4.16 0M148.1 208.2a2.08 2.08 0 1 0 4.16 0a2.08 2.08 0 1 0 -4.16 0M152.1 208.2a2.08 2.08 0 1 0 4.16 0a2.08 2.08 0 1 0 -4.16 0M122.5 199.2a2.08 2.08 0 1 0 4.16 0a2.08 2.08 0 1 0 -4.16 0M106.9 210.3a2.08 2.08 0 1 0 4.16 0a2.08 2.08 0 1 0 -4.16 0M103.9 213.0a2.08 2.08 0 1 0 4.16 0a2.08 2.08 0 1 0 -4.16 0M109.9 214.0a2.08 2.08 0 1 0 4.16 0a2.08 2.08 0 1 0 -4.16 0M113.4 216.5a2.08 2.08 0 1 0 4.16 0a2.08 2.08 0 1 0 -4.16 0M105.9 218.0a2.08 2.08 0 1 0 4.16 0a2.08 2.08 0 1 0 -4.16 0M132.1 237.4a2.08 2.08 0 1 0 4.16 0a2.08 2.08 0 1 0 -4.16 0M132.1 235.0a2.08 2.08 0 1 0 4.16 0a2.08 2.08 0 1 0 -4.16 0M151.1 237.4a2.08 2.08 0 1 0 4.16 0a2.08 2.08 0 1 0 -4.16 0M132.1 258.0a2.08 2.08 0 1 0 4.16 0a2.08 2.08 0 1 0 -4.16 0M151.6 249.4a2.08 2.08 0 1 0 4.16 0a2.08 2.08 0 1 0 -4.16 0M149.1 254.4a2.08 2.08 0 1 0 4.16 0a2.08 2.08 0 1 0 -4.16 0M151.9 256.0a2.08 2.08 0 1 0 4.16 0a2.08 2.08 0 1 0 -4.16 0M110.4 249.5a2.08 2.08 0 1 0 4.16 0a2.08 2.08 0 1 0 -4.16 0M132.1 286.6a2.08 2.08 0 1 0 4.16 0a2.08 2.08 0 1 0 -4.16 0M132.1 305.0a2.08 2.08 0 1 0 4.16 0a2.08 2.08 0 1 0 -4.16 0M132.1 308.0a2.08 2.08 0 1 0 4.16 0a2.08 2.08 0 1 0 -4.16 0M110.0 284.1a2.08 2.08 0 1 0 4.16 0a2.08 2.08 0 1 0 -4.16 0M110.0 288.6a2.08 2.08 0 1 0 4.16 0a2.08 2.08 0 1 0 -4.16 0M114.0 324.2a2.08 2.08 0 1 0 4.16 0a2.08 2.08 0 1 0 -4.16 0M148.1 299.1a2.08 2.08 0 1 0 4.16 0a2.08 2.08 0 1 0 -4.16 0M148.1 306.2a2.08 2.08 0 1 0 4.16 0a2.08 2.08 0 1 0 -4.16 0M148.1 322.7a2.08 2.08 0 1 0 4.16 0a2.08 2.08 0 1 0 -4.16 0M151.4 281.5a2.08 2.08 0 1 0 4.16 0a2.08 2.08 0 1 0 -4.16 0M106.9 338.3a2.08 2.08 0 1 0 4.16 0a2.08 2.08 0 1 0 -4.16 0M113.0 338.8a2.08 2.08 0 1 0 4.16 0a2.08 2.08 0 1 0 -4.16 0M103.4 345.8a2.08 2.08 0 1 0 4.16 0a2.08 2.08 0 1 0 -4.16 0M106.9 342.3a2.08 2.08 0 1 0 4.16 0a2.08 2.08 0 1 0 -4.16 0M110.0 351.4a2.08 2.08 0 1 0 4.16 0a2.08 2.08 0 1 0 -4.16 0M110.0 354.4a2.08 2.08 0 1 0 4.16 0a2.08 2.08 0 1 0 -4.16 0M110.0 364.9a2.08 2.08 0 1 0 4.16 0a2.08 2.08 0 1 0 -4.16 0M135.3 356.2a2.08 2.08 0 1 0 4.16 0a2.08 2.08 0 1 0 -4.16 0M103.4 376.0a2.08 2.08 0 1 0 4.16 0a2.08 2.08 0 1 0 -4.16 0M106.9 379.5a2.08 2.08 0 1 0 4.16 0a2.08 2.08 0 1 0 -4.16 0M110.0 384.5a2.08 2.08 0 1 0 4.16 0a2.08 2.08 0 1 0 -4.16 0M148.1 350.0a2.08 2.08 0 1 0 4.16 0a2.08 2.08 0 1 0 -4.16 0M151.4 349.0a2.08 2.08 0 1 0 4.16 0a2.08 2.08 0 1 0 -4.16 0M148.9 354.0a2.08 2.08 0 1 0 4.16 0a2.08 2.08 0 1 0 -4.16 0M151.4 358.0a2.08 2.08 0 1 0 4.16 0a2.08 2.08 0 1 0 -4.16 0M148.4 362.0a2.08 2.08 0 1 0 4.16 0a2.08 2.08 0 1 0 -4.16 0M151.4 367.0a2.08 2.08 0 1 0 4.16 0a2.08 2.08 0 1 0 -4.16 0M148.1 378.0a2.08 2.08 0 1 0 4.16 0a2.08 2.08 0 1 0 -4.16 0M151.4 377.5a2.08 2.08 0 1 0 4.16 0a2.08 2.08 0 1 0 -4.16 0M149.4 382.0a2.08 2.08 0 1 0 4.16 0a2.08 2.08 0 1 0 -4.16 0M148.1 386.5a2.08 2.08 0 1 0 4.16 0a2.08 2.08 0 1 0 -4.16 0M110.5 386.5a2.08 2.08 0 1 0 4.16 0a2.08 2.08 0 1 0 -4.16 0M122.8 391.0a2.08 2.08 0 1 0 4.16 0a2.08 2.08 0 1 0 -4.16 0M123.4 396.5a2.08 2.08 0 1 0 4.16 0a2.08 2.08 0 1 0 -4.16 0M126.4 397.0a2.08 2.08 0 1 0 4.16 0a2.08 2.08 0 1 0 -4.16 0M123.4 401.5a2.08 2.08 0 1 0 4.16 0a2.08 2.08 0 1 0 -4.16 0M126.4 401.0a2.08 2.08 0 1 0 4.16 0a2.08 2.08 0 1 0 -4.16 0M122.8 404.6a2.08 2.08 0 1 0 4.16 0a2.08 2.08 0 1 0 -4.16 0M148.1 392.0a2.08 2.08 0 1 0 4.16 0a2.08 2.08 0 1 0 -4.16 0M148.9 395.5a2.08 2.08 0 1 0 4.16 0a2.08 2.08 0 1 0 -4.16 0M151.7 396.0a2.08 2.08 0 1 0 4.16 0a2.08 2.08 0 1 0 -4.16 0M150.9 401.5a2.08 2.08 0 1 0 4.16 0a2.08 2.08 0 1 0 -4.16 0M135.3 416.6a2.08 2.08 0 1 0 4.16 0a2.08 2.08 0 1 0 -4.16 0M128.9 426.2a2.08 2.08 0 1 0 4.16 0a2.08 2.08 0 1 0 -4.16 0M144.1 424.0a2.08 2.08 0 1 0 4.16 0a2.08 2.08 0 1 0 -4.16 0M103.9 429.7a2.08 2.08 0 1 0 4.16 0a2.08 2.08 0 1 0 -4.16 0M110.5 430.9a2.08 2.08 0 1 0 4.16 0a2.08 2.08 0 1 0 -4.16 0M110.2 440.7a2.08 2.08 0 1 0 4.16 0a2.08 2.08 0 1 0 -4.16 0M119.5 447.0a2.08 2.08 0 1 0 4.16 0a2.08 2.08 0 1 0 -4.16 0M163.9 431.0a2.08 2.08 0 1 0 4.16 0a2.08 2.08 0 1 0 -4.16 0M157.2 443.7a2.08 2.08 0 1 0 4.16 0a2.08 2.08 0 1 0 -4.16 0M166.9 440.7a2.08 2.08 0 1 0 4.16 0a2.08 2.08 0 1 0 -4.16 0M110.2 452.8a2.08 2.08 0 1 0 4.16 0a2.08 2.08 0 1 0 -4.16 0M103.9 459.8a2.08 2.08 0 1 0 4.16 0a2.08 2.08 0 1 0 -4.16 0M122.8 453.5a2.08 2.08 0 1 0 4.16 0a2.08 2.08 0 1 0 -4.16 0M122.8 457.0a2.08 2.08 0 1 0 4.16 0a2.08 2.08 0 1 0 -4.16 0M116.5 463.1a2.08 2.08 0 1 0 4.16 0a2.08 2.08 0 1 0 -4.16 0M148.1 448.3a2.08 2.08 0 1 0 4.16 0a2.08 2.08 0 1 0 -4.16 0M148.1 451.8a2.08 2.08 0 1 0 4.16 0a2.08 2.08 0 1 0 -4.16 0M151.3 455.6a2.08 2.08 0 1 0 4.16 0a2.08 2.08 0 1 0 -4.16 0M147.8 459.6a2.08 2.08 0 1 0 4.16 0a2.08 2.08 0 1 0 -4.16 0M138.6 473.2a2.08 2.08 0 1 0 4.16 0a2.08 2.08 0 1 0 -4.16 0M125.8 485.7a2.08 2.08 0 1 0 4.16 0a2.08 2.08 0 1 0 -4.16 0M141.6 487.6a2.08 2.08 0 1 0 4.16 0a2.08 2.08 0 1 0 -4.16 0M153.9 439.0a2.08 2.08 0 1 0 4.16 0a2.08 2.08 0 1 0 -4.16 0M150.9 437.5a2.08 2.08 0 1 0 4.16 0a2.08 2.08 0 1 0 -4.16 0M147.9 437.0a2.08 2.08 0 1 0 4.16 0a2.08 2.08 0 1 0 -4.16 0" fill="#0a0a0a"/>
<path d="M163.8 113.3a1.98 1.98 0 1 0 3.96 0a1.98 1.98 0 1 0 -3.96 0M167.0 104.6a1.98 1.98 0 1 0 3.96 0a1.98 1.98 0 1 0 -3.96 0M170.1 95.9a1.98 1.98 0 1 0 3.96 0a1.98 1.98 0 1 0 -3.96 0M173.2 87.2a1.98 1.98 0 1 0 3.96 0a1.98 1.98 0 1 0 -3.96 0M176.4 78.5a1.98 1.98 0 1 0 3.96 0a1.98 1.98 0 1 0 -3.96 0M179.5 69.8a1.98 1.98 0 1 0 3.96 0a1.98 1.98 0 1 0 -3.96 0M182.7 61.2a1.98 1.98 0 1 0 3.96 0a1.98 1.98 0 1 0 -3.96 0M185.8 52.5a1.98 1.98 0 1 0 3.96 0a1.98 1.98 0 1 0 -3.96 0M188.9 43.8a1.98 1.98 0 1 0 3.96 0a1.98 1.98 0 1 0 -3.96 0M164.0 431.0a1.98 1.98 0 1 0 3.96 0a1.98 1.98 0 1 0 -3.96 0M167.0 440.7a1.98 1.98 0 1 0 3.96 0a1.98 1.98 0 1 0 -3.96 0M170.1 449.8a1.98 1.98 0 1 0 3.96 0a1.98 1.98 0 1 0 -3.96 0M173.3 459.0a1.98 1.98 0 1 0 3.96 0a1.98 1.98 0 1 0 -3.96 0M176.3 467.8a1.98 1.98 0 1 0 3.96 0a1.98 1.98 0 1 0 -3.96 0M179.4 476.4a1.98 1.98 0 1 0 3.96 0a1.98 1.98 0 1 0 -3.96 0M182.6 484.7a1.98 1.98 0 1 0 3.96 0a1.98 1.98 0 1 0 -3.96 0M185.9 492.7a1.98 1.98 0 1 0 3.96 0a1.98 1.98 0 1 0 -3.96 0M188.9 500.5a1.98 1.98 0 1 0 3.96 0a1.98 1.98 0 1 0 -3.96 0" fill="#0a0a0a"/>
<path d="M123.4 67.9a1.85 1.85 0 1 0 3.7 0a1.85 1.85 0 1 0 -3.7 0M123.0 70.3a1.85 1.85 0 1 0 3.7 0a1.85 1.85 0 1 0 -3.7 0M123.3 72.2a1.85 1.85 0 1 0 3.7 0a1.85 1.85 0 1 0 -3.7 0M123.3 75.2a1.85 1.85 0 1 0 3.7 0a1.85 1.85 0 1 0 -3.7 0M122.7 77.1a1.85 1.85 0 1 0 3.7 0a1.85 1.85 0 1 0 -3.7 0M122.8 79.5a1.85 1.85 0 1 0 3.7 0a1.85 1.85 0 1 0 -3.7 0M122.6 82.0a1.85 1.85 0 1 0 3.7 0a1.85 1.85 0 1 0 -3.7 0M122.8 84.6a1.85 1.85 0 1 0 3.7 0a1.85 1.85 0 1 0 -3.7 0M122.6 87.7a1.85 1.85 0 1 0 3.7 0a1.85 1.85 0 1 0 -3.7 0M123.2 89.8a1.85 1.85 0 1 0 3.7 0a1.85 1.85 0 1 0 -3.7 0M123.3 92.3a1.85 1.85 0 1 0 3.7 0a1.85 1.85 0 1 0 -3.7 0M148.7 110.7a1.85 1.85 0 1 0 3.7 0a1.85 1.85 0 1 0 -3.7 0M148.4 112.9a1.85 1.85 0 1 0 3.7 0a1.85 1.85 0 1 0 -3.7 0M148.9 114.9a1.85 1.85 0 1 0 3.7 0a1.85 1.85 0 1 0 -3.7 0M149.1 118.0a1.85 1.85 0 1 0 3.7 0a1.85 1.85 0 1 0 -3.7 0M149.0 120.3a1.85 1.85 0 1 0 3.7 0a1.85 1.85 0 1 0 -3.7 0M148.7 122.9a1.85 1.85 0 1 0 3.7 0a1.85 1.85 0 1 0 -3.7 0M148.9 125.0a1.85 1.85 0 1 0 3.7 0a1.85 1.85 0 1 0 -3.7 0M148.8 127.7a1.85 1.85 0 1 0 3.7 0a1.85 1.85 0 1 0 -3.7 0M148.6 130.2a1.85 1.85 0 1 0 3.7 0a1.85 1.85 0 1 0 -3.7 0M148.4 132.1a1.85 1.85 0 1 0 3.7 0a1.85 1.85 0 1 0 -3.7 0M149.0 134.3a1.85 1.85 0 1 0 3.7 0a1.85 1.85 0 1 0 -3.7 0M149.0 137.1a1.85 1.85 0 1 0 3.7 0a1.85 1.85 0 1 0 -3.7 0M151.6 112.1a1.85 1.85 0 1 0 3.7 0a1.85 1.85 0 1 0 -3.7 0M151.3 114.1a1.85 1.85 0 1 0 3.7 0a1.85 1.85 0 1 0 -3.7 0M151.6 117.6a1.85 1.85 0 1 0 3.7 0a1.85 1.85 0 1 0 -3.7 0M151.2 119.7a1.85 1.85 0 1 0 3.7 0a1.85 1.85 0 1 0 -3.7 0M151.7 122.2a1.85 1.85 0 1 0 3.7 0a1.85 1.85 0 1 0 -3.7 0M151.1 124.9a1.85 1.85 0 1 0 3.7 0a1.85 1.85 0 1 0 -3.7 0M151.1 127.0a1.85 1.85 0 1 0 3.7 0a1.85 1.85 0 1 0 -3.7 0M151.8 130.1a1.85 1.85 0 1 0 3.7 0a1.85 1.85 0 1 0 -3.7 0M151.2 132.5a1.85 1.85 0 1 0 3.7 0a1.85 1.85 0 1 0 -3.7 0M151.3 134.5a1.85 1.85 0 1 0 3.7 0a1.85 1.85 0 1 0 -3.7 0M149.3 117.9a1.85 1.85 0 1 0 3.7 0a1.85 1.85 0 1 0 -3.7 0M150.0 121.0a1.85 1.85 0 1 0 3.7 0a1.85 1.85 0 1 0 -3.7 0M149.6 123.0a1.85 1.85 0 1 0 3.7 0a1.85 1.85 0 1 0 -3.7 0M149.3 125.8a1.85 1.85 0 1 0 3.7 0a1.85 1.85 0 1 0 -3.7 0M149.8 128.2a1.85 1.85 0 1 0 3.7 0a1.85 1.85 0 1 0 -3.7 0M149.3 131.6a1.85 1.85 0 1 0 3.7 0a1.85 1.85 0 1 0 -3.7 0M150.1 133.8a1.85 1.85 0 1 0 3.7 0a1.85 1.85 0 1 0 -3.7 0M146.6 111.6a1.85 1.85 0 1 0 3.7 0a1.85 1.85 0 1 0 -3.7 0M146.3 115.0a1.85 1.85 0 1 0 3.7 0a1.85 1.85 0 1 0 -3.7 0M146.9 117.3a1.85 1.85 0 1 0 3.7 0a1.85 1.85 0 1 0 -3.7 0M146.9 119.6a1.85 1.85 0 1 0 3.7 0a1.85 1.85 0 1 0 -3.7 0M146.5 122.1a1.85 1.85 0 1 0 3.7 0a1.85 1.85 0 1 0 -3.7 0M146.6 125.2a1.85 1.85 0 1 0 3.7 0a1.85 1.85 0 1 0 -3.7 0M147.2 127.3a1.85 1.85 0 1 0 3.7 0a1.85 1.85 0 1 0 -3.7 0M147.1 130.1a1.85 1.85 0 1 0 3.7 0a1.85 1.85 0 1 0 -3.7 0M146.9 133.2a1.85 1.85 0 1 0 3.7 0a1.85 1.85 0 1 0 -3.7 0M116.3 151.2a1.85 1.85 0 1 0 3.7 0a1.85 1.85 0 1 0 -3.7 0M116.2 153.3a1.85 1.85 0 1 0 3.7 0a1.85 1.85 0 1 0 -3.7 0M116.5 156.0a1.85 1.85 0 1 0 3.7 0a1.85 1.85 0 1 0 -3.7 0M116.4 158.4a1.85 1.85 0 1 0 3.7 0a1.85 1.85 0 1 0 -3.7 0M116.5 161.2a1.85 1.85 0 1 0 3.7 0a1.85 1.85 0 1 0 -3.7 0M116.8 163.4a1.85 1.85 0 1 0 3.7 0a1.85 1.85 0 1 0 -3.7 0M116.7 166.6a1.85 1.85 0 1 0 3.7 0a1.85 1.85 0 1 0 -3.7 0M116.4 168.6a1.85 1.85 0 1 0 3.7 0a1.85 1.85 0 1 0 -3.7 0M116.7 171.7a1.85 1.85 0 1 0 3.7 0a1.85 1.85 0 1 0 -3.7 0M116.4 173.9a1.85 1.85 0 1 0 3.7 0a1.85 1.85 0 1 0 -3.7 0M116.6 175.9a1.85 1.85 0 1 0 3.7 0a1.85 1.85 0 1 0 -3.7 0M116.6 179.2a1.85 1.85 0 1 0 3.7 0a1.85 1.85 0 1 0 -3.7 0M116.3 180.9a1.85 1.85 0 1 0 3.7 0a1.85 1.85 0 1 0 -3.7 0M116.8 183.8a1.85 1.85 0 1 0 3.7 0a1.85 1.85 0 1 0 -3.7 0M116.2 186.3a1.85 1.85 0 1 0 3.7 0a1.85 1.85 0 1 0 -3.7 0M116.9 188.6a1.85 1.85 0 1 0 3.7 0a1.85 1.85 0 1 0 -3.7 0M116.3 191.5a1.85 1.85 0 1 0 3.7 0a1.85 1.85 0 1 0 -3.7 0M116.3 193.7a1.85 1.85 0 1 0 3.7 0a1.85 1.85 0 1 0 -3.7 0M123.4 156.3a1.85 1.85 0 1 0 3.7 0a1.85 1.85 0 1 0 -3.7 0M123.2 158.9a1.85 1.85 0 1 0 3.7 0a1.85 1.85 0 1 0 -3.7 0M123.4 161.5a1.85 1.85 0 1 0 3.7 0a1.85 1.85 0 1 0 -3.7 0M123.2 163.2a1.85 1.85 0 1 0 3.7 0a1.85 1.85 0 1 0 -3.7 0M123.6 166.4a1.85 1.85 0 1 0 3.7 0a1.85 1.85 0 1 0 -3.7 0M123.0 169.0a1.85 1.85 0 1 0 3.7 0a1.85 1.85 0 1 0 -3.7 0M123.6 170.9a1.85 1.85 0 1 0 3.7 0a1.85 1.85 0 1 0 -3.7 0M122.9 173.5a1.85 1.85 0 1 0 3.7 0a1.85 1.85 0 1 0 -3.7 0M123.2 176.2a1.85 1.85 0 1 0 3.7 0a1.85 1.85 0 1 0 -3.7 0M123.5 178.8a1.85 1.85 0 1 0 3.7 0a1.85 1.85 0 1 0 -3.7 0M123.3 180.9a1.85 1.85 0 1 0 3.7 0a1.85 1.85 0 1 0 -3.7 0M123.0 184.0a1.85 1.85 0 1 0 3.7 0a1.85 1.85 0 1 0 -3.7 0M123.0 185.9a1.85 1.85 0 1 0 3.7 0a1.85 1.85 0 1 0 -3.7 0M123.7 189.1a1.85 1.85 0 1 0 3.7 0a1.85 1.85 0 1 0 -3.7 0M123.1 191.3a1.85 1.85 0 1 0 3.7 0a1.85 1.85 0 1 0 -3.7 0M123.4 193.9a1.85 1.85 0 1 0 3.7 0a1.85 1.85 0 1 0 -3.7 0M148.8 155.0a1.85 1.85 0 1 0 3.7 0a1.85 1.85 0 1 0 -3.7 0M148.5 158.0a1.85 1.85 0 1 0 3.7 0a1.85 1.85 0 1 0 -3.7 0M148.8 159.9a1.85 1.85 0 1 0 3.7 0a1.85 1.85 0 1 0 -3.7 0M148.8 162.3a1.85 1.85 0 1 0 3.7 0a1.85 1.85 0 1 0 -3.7 0M148.8 164.6a1.85 1.85 0 1 0 3.7 0a1.85 1.85 0 1 0 -3.7 0M148.7 167.3a1.85 1.85 0 1 0 3.7 0a1.85 1.85 0 1 0 -3.7 0M149.0 169.8a1.85 1.85 0 1 0 3.7 0a1.85 1.85 0 1 0 -3.7 0M152.1 156.0a1.85 1.85 0 1 0 3.7 0a1.85 1.85 0 1 0 -3.7 0M152.0 158.9a1.85 1.85 0 1 0 3.7 0a1.85 1.85 0 1 0 -3.7 0M151.7 161.0a1.85 1.85 0 1 0 3.7 0a1.85 1.85 0 1 0 -3.7 0M151.9 164.3a1.85 1.85 0 1 0 3.7 0a1.85 1.85 0 1 0 -3.7 0M152.0 166.7a1.85 1.85 0 1 0 3.7 0a1.85 1.85 0 1 0 -3.7 0M151.8 168.6a1.85 1.85 0 1 0 3.7 0a1.85 1.85 0 1 0 -3.7 0M101.0 165.0a1.85 1.85 0 1 0 3.7 0a1.85 1.85 0 1 0 -3.7 0M101.0 167.4a1.85 1.85 0 1 0 3.7 0a1.85 1.85 0 1 0 -3.7 0M101.3 168.6a1.85 1.85 0 1 0 3.7 0a1.85 1.85 0 1 0 -3.7 0M105.2 221.7a1.85 1.85 0 1 0 3.7 0a1.85 1.85 0 1 0 -3.7 0M105.8 225.0a1.85 1.85 0 1 0 3.7 0a1.85 1.85 0 1 0 -3.7 0M105.2 227.1a1.85 1.85 0 1 0 3.7 0a1.85 1.85 0 1 0 -3.7 0M105.9 229.8a1.85 1.85 0 1 0 3.7 0a1.85 1.85 0 1 0 -3.7 0M105.5 232.7a1.85 1.85 0 1 0 3.7 0a1.85 1.85 0 1 0 -3.7 0M105.7 235.2a1.85 1.85 0 1 0 3.7 0a1.85 1.85 0 1 0 -3.7 0M105.8 237.5a1.85 1.85 0 1 0 3.7 0a1.85 1.85 0 1 0 -3.7 0M105.9 239.7a1.85 1.85 0 1 0 3.7 0a1.85 1.85 0 1 0 -3.7 0M105.5 242.3a1.85 1.85 0 1 0 3.7 0a1.85 1.85 0 1 0 -3.7 0M105.3 244.8a1.85 1.85 0 1 0 3.7 0a1.85 1.85 0 1 0 -3.7 0M105.5 247.3a1.85 1.85 0 1 0 3.7 0a1.85 1.85 0 1 0 -3.7 0M105.5 249.6a1.85 1.85 0 1 0 3.7 0a1.85 1.85 0 1 0 -3.7 0M108.7 221.5a1.85 1.85 0 1 0 3.7 0a1.85 1.85 0 1 0 -3.7 0M108.3 223.4a1.85 1.85 0 1 0 3.7 0a1.85 1.85 0 1 0 -3.7 0M108.8 226.3a1.85 1.85 0 1 0 3.7 0a1.85 1.85 0 1 0 -3.7 0M108.3 228.8a1.85 1.85 0 1 0 3.7 0a1.85 1.85 0 1 0 -3.7 0M108.6 231.4a1.85 1.85 0 1 0 3.7 0a1.85 1.85 0 1 0 -3.7 0M108.9 233.0a1.85 1.85 0 1 0 3.7 0a1.85 1.85 0 1 0 -3.7 0M108.5 236.1a1.85 1.85 0 1 0 3.7 0a1.85 1.85 0 1 0 -3.7 0M108.4 238.9a1.85 1.85 0 1 0 3.7 0a1.85 1.85 0 1 0 -3.7 0M108.7 241.0a1.85 1.85 0 1 0 3.7 0a1.85 1.85 0 1 0 -3.7 0M109.1 243.3a1.85 1.85 0 1 0 3.7 0a1.85 1.85 0 1 0 -3.7 0M108.7 246.5a1.85 1.85 0 1 0 3.7 0a1.85 1.85 0 1 0 -3.7 0M102.7 231.7a1.85 1.85 0 1 0 3.7 0a1.85 1.85 0 1 0 -3.7 0M102.1 234.4a1.85 1.85 0 1 0 3.7 0a1.85 1.85 0 1 0 -3.7 0M102.0 237.2a1.85 1.85 0 1 0 3.7 0a1.85 1.85 0 1 0 -3.7 0M102.2 239.4a1.85 1.85 0 1 0 3.7 0a1.85 1.85 0 1 0 -3.7 0M102.0 242.2a1.85 1.85 0 1 0 3.7 0a1.85 1.85 0 1 0 -3.7 0M102.1 244.9a1.85 1.85 0 1 0 3.7 0a1.85 1.85 0 1 0 -3.7 0M102.1 247.2a1.85 1.85 0 1 0 3.7 0a1.85 1.85 0 1 0 -3.7 0M102.0 249.1a1.85 1.85 0 1 0 3.7 0a1.85 1.85 0 1 0 -3.7 0M102.7 252.3a1.85 1.85 0 1 0 3.7 0a1.85 1.85 0 1 0 -3.7 0M102.2 255.0a1.85 1.85 0 1 0 3.7 0a1.85 1.85 0 1 0 -3.7 0M102.8 256.5a1.85 1.85 0 1 0 3.7 0a1.85 1.85 0 1 0 -3.7 0M102.5 259.9a1.85 1.85 0 1 0 3.7 0a1.85 1.85 0 1 0 -3.7 0M102.2 262.5a1.85 1.85 0 1 0 3.7 0a1.85 1.85 0 1 0 -3.7 0M111.1 226.1a1.85 1.85 0 1 0 3.7 0a1.85 1.85 0 1 0 -3.7 0M111.3 228.0a1.85 1.85 0 1 0 3.7 0a1.85 1.85 0 1 0 -3.7 0M111.1 230.6a1.85 1.85 0 1 0 3.7 0a1.85 1.85 0 1 0 -3.7 0M111.3 233.4a1.85 1.85 0 1 0 3.7 0a1.85 1.85 0 1 0 -3.7 0M111.3 235.2a1.85 1.85 0 1 0 3.7 0a1.85 1.85 0 1 0 -3.7 0M111.4 237.4a1.85 1.85 0 1 0 3.7 0a1.85 1.85 0 1 0 -3.7 0M111.4 239.9a1.85 1.85 0 1 0 3.7 0a1.85 1.85 0 1 0 -3.7 0M99.4 249.7a1.85 1.85 0 1 0 3.7 0a1.85 1.85 0 1 0 -3.7 0M99.7 252.5a1.85 1.85 0 1 0 3.7 0a1.85 1.85 0 1 0 -3.7 0M99.4 255.2a1.85 1.85 0 1 0 3.7 0a1.85 1.85 0 1 0 -3.7 0M100.0 257.0a1.85 1.85 0 1 0 3.7 0a1.85 1.85 0 1 0 -3.7 0M99.7 260.2a1.85 1.85 0 1 0 3.7 0a1.85 1.85 0 1 0 -3.7 0M99.5 262.4a1.85 1.85 0 1 0 3.7 0a1.85 1.85 0 1 0 -3.7 0M99.4 264.6a1.85 1.85 0 1 0 3.7 0a1.85 1.85 0 1 0 -3.7 0M99.4 266.9a1.85 1.85 0 1 0 3.7 0a1.85 1.85 0 1 0 -3.7 0M99.7 269.5a1.85 1.85 0 1 0 3.7 0a1.85 1.85 0 1 0 -3.7 0M99.6 272.1a1.85 1.85 0 1 0 3.7 0a1.85 1.85 0 1 0 -3.7 0M99.4 274.4a1.85 1.85 0 1 0 3.7 0a1.85 1.85 0 1 0 -3.7 0M100.1 276.7a1.85 1.85 0 1 0 3.7 0a1.85 1.85 0 1 0 -3.7 0M100.0 280.0a1.85 1.85 0 1 0 3.7 0a1.85 1.85 0 1 0 -3.7 0M99.8 282.0a1.85 1.85 0 1 0 3.7 0a1.85 1.85 0 1 0 -3.7 0M100.2 284.7a1.85 1.85 0 1 0 3.7 0a1.85 1.85 0 1 0 -3.7 0M100.2 287.6a1.85 1.85 0 1 0 3.7 0a1.85 1.85 0 1 0 -3.7 0M100.0 289.6a1.85 1.85 0 1 0 3.7 0a1.85 1.85 0 1 0 -3.7 0M99.5 292.3a1.85 1.85 0 1 0 3.7 0a1.85 1.85 0 1 0 -3.7 0M102.5 268.2a1.85 1.85 0 1 0 3.7 0a1.85 1.85 0 1 0 -3.7 0M101.7 270.7a1.85 1.85 0 1 0 3.7 0a1.85 1.85 0 1 0 -3.7 0M102.4 273.2a1.85 1.85 0 1 0 3.7 0a1.85 1.85 0 1 0 -3.7 0M101.9 275.2a1.85 1.85 0 1 0 3.7 0a1.85 1.85 0 1 0 -3.7 0M102.0 277.9a1.85 1.85 0 1 0 3.7 0a1.85 1.85 0 1 0 -3.7 0M102.2 279.9a1.85 1.85 0 1 0 3.7 0a1.85 1.85 0 1 0 -3.7 0M102.6 282.4a1.85 1.85 0 1 0 3.7 0a1.85 1.85 0 1 0 -3.7 0M102.0 285.1a1.85 1.85 0 1 0 3.7 0a1.85 1.85 0 1 0 -3.7 0M102.6 287.4a1.85 1.85 0 1 0 3.7 0a1.85 1.85 0 1 0 -3.7 0M102.2 290.1a1.85 1.85 0 1 0 3.7 0a1.85 1.85 0 1 0 -3.7 0M104.8 290.6a1.85 1.85 0 1 0 3.7 0a1.85 1.85 0 1 0 -3.7 0M104.3 293.0a1.85 1.85 0 1 0 3.7 0a1.85 1.85 0 1 0 -3.7 0M105.0 295.5a1.85 1.85 0 1 0 3.7 0a1.85 1.85 0 1 0 -3.7 0M104.7 298.7a1.85 1.85 0 1 0 3.7 0a1.85 1.85 0 1 0 -3.7 0M104.5 300.8a1.85 1.85 0 1 0 3.7 0a1.85 1.85 0 1 0 -3.7 0M104.5 303.5a1.85 1.85 0 1 0 3.7 0a1.85 1.85 0 1 0 -3.7 0M104.8 305.2a1.85 1.85 0 1 0 3.7 0a1.85 1.85 0 1 0 -3.7 0M104.7 307.5a1.85 1.85 0 1 0 3.7 0a1.85 1.85 0 1 0 -3.7 0M104.3 310.1a1.85 1.85 0 1 0 3.7 0a1.85 1.85 0 1 0 -3.7 0M104.8 313.0a1.85 1.85 0 1 0 3.7 0a1.85 1.85 0 1 0 -3.7 0M104.3 315.6a1.85 1.85 0 1 0 3.7 0a1.85 1.85 0 1 0 -3.7 0M104.8 317.3a1.85 1.85 0 1 0 3.7 0a1.85 1.85 0 1 0 -3.7 0M104.7 320.3a1.85 1.85 0 1 0 3.7 0a1.85 1.85 0 1 0 -3.7 0M107.6 292.5a1.85 1.85 0 1 0 3.7 0a1.85 1.85 0 1 0 -3.7 0M107.9 294.4a1.85 1.85 0 1 0 3.7 0a1.85 1.85 0 1 0 -3.7 0M107.8 297.4a1.85 1.85 0 1 0 3.7 0a1.85 1.85 0 1 0 -3.7 0M107.9 299.5a1.85 1.85 0 1 0 3.7 0a1.85 1.85 0 1 0 -3.7 0M107.4 301.8a1.85 1.85 0 1 0 3.7 0a1.85 1.85 0 1 0 -3.7 0M107.6 305.0a1.85 1.85 0 1 0 3.7 0a1.85 1.85 0 1 0 -3.7 0M107.3 307.1a1.85 1.85 0 1 0 3.7 0a1.85 1.85 0 1 0 -3.7 0M107.4 310.5a1.85 1.85 0 1 0 3.7 0a1.85 1.85 0 1 0 -3.7 0M108.1 312.6a1.85 1.85 0 1 0 3.7 0a1.85 1.85 0 1 0 -3.7 0M107.3 315.5a1.85 1.85 0 1 0 3.7 0a1.85 1.85 0 1 0 -3.7 0M108.1 317.3a1.85 1.85 0 1 0 3.7 0a1.85 1.85 0 1 0 -3.7 0M107.6 320.3a1.85 1.85 0 1 0 3.7 0a1.85 1.85 0 1 0 -3.7 0M107.9 323.0a1.85 1.85 0 1 0 3.7 0a1.85 1.85 0 1 0 -3.7 0M107.4 325.7a1.85 1.85 0 1 0 3.7 0a1.85 1.85 0 1 0 -3.7 0M107.8 327.9a1.85 1.85 0 1 0 3.7 0a1.85 1.85 0 1 0 -3.7 0M110.8 304.6a1.85 1.85 0 1 0 3.7 0a1.85 1.85 0 1 0 -3.7 0M110.3 307.9a1.85 1.85 0 1 0 3.7 0a1.85 1.85 0 1 0 -3.7 0M110.3 310.5a1.85 1.85 0 1 0 3.7 0a1.85 1.85 0 1 0 -3.7 0M110.8 313.0a1.85 1.85 0 1 0 3.7 0a1.85 1.85 0 1 0 -3.7 0M110.9 315.2a1.85 1.85 0 1 0 3.7 0a1.85 1.85 0 1 0 -3.7 0M110.8 318.5a1.85 1.85 0 1 0 3.7 0a1.85 1.85 0 1 0 -3.7 0M110.4 320.5a1.85 1.85 0 1 0 3.7 0a1.85 1.85 0 1 0 -3.7 0M110.4 323.2a1.85 1.85 0 1 0 3.7 0a1.85 1.85 0 1 0 -3.7 0M111.1 325.8a1.85 1.85 0 1 0 3.7 0a1.85 1.85 0 1 0 -3.7 0M102.9 292.5a1.85 1.85 0 1 0 3.7 0a1.85 1.85 0 1 0 -3.7 0M102.7 295.8a1.85 1.85 0 1 0 3.7 0a1.85 1.85 0 1 0 -3.7 0M102.7 298.2a1.85 1.85 0 1 0 3.7 0a1.85 1.85 0 1 0 -3.7 0M102.7 300.2a1.85 1.85 0 1 0 3.7 0a1.85 1.85 0 1 0 -3.7 0M102.8 302.5a1.85 1.85 0 1 0 3.7 0a1.85 1.85 0 1 0 -3.7 0M102.4 305.4a1.85 1.85 0 1 0 3.7 0a1.85 1.85 0 1 0 -3.7 0M102.7 307.2a1.85 1.85 0 1 0 3.7 0a1.85 1.85 0 1 0 -3.7 0M102.6 309.2a1.85 1.85 0 1 0 3.7 0a1.85 1.85 0 1 0 -3.7 0M103.0 312.4a1.85 1.85 0 1 0 3.7 0a1.85 1.85 0 1 0 -3.7 0M148.3 281.8a1.85 1.85 0 1 0 3.7 0a1.85 1.85 0 1 0 -3.7 0M148.2 284.3a1.85 1.85 0 1 0 3.7 0a1.85 1.85 0 1 0 -3.7 0M148.7 286.6a1.85 1.85 0 1 0 3.7 0a1.85 1.85 0 1 0 -3.7 0M147.9 288.9a1.85 1.85 0 1 0 3.7 0a1.85 1.85 0 1 0 -3.7 0M148.1 291.5a1.85 1.85 0 1 0 3.7 0a1.85 1.85 0 1 0 -3.7 0M148.5 293.9a1.85 1.85 0 1 0 3.7 0a1.85 1.85 0 1 0 -3.7 0M151.2 283.6a1.85 1.85 0 1 0 3.7 0a1.85 1.85 0 1 0 -3.7 0M151.2 286.6a1.85 1.85 0 1 0 3.7 0a1.85 1.85 0 1 0 -3.7 0M151.2 289.5a1.85 1.85 0 1 0 3.7 0a1.85 1.85 0 1 0 -3.7 0M151.3 291.9a1.85 1.85 0 1 0 3.7 0a1.85 1.85 0 1 0 -3.7 0M116.6 350.6a1.85 1.85 0 1 0 3.7 0a1.85 1.85 0 1 0 -3.7 0M116.4 352.8a1.85 1.85 0 1 0 3.7 0a1.85 1.85 0 1 0 -3.7 0M116.6 355.2a1.85 1.85 0 1 0 3.7 0a1.85 1.85 0 1 0 -3.7 0M116.8 357.7a1.85 1.85 0 1 0 3.7 0a1.85 1.85 0 1 0 -3.7 0M116.4 360.6a1.85 1.85 0 1 0 3.7 0a1.85 1.85 0 1 0 -3.7 0M116.5 363.4a1.85 1.85 0 1 0 3.7 0a1.85 1.85 0 1 0 -3.7 0M116.9 366.0a1.85 1.85 0 1 0 3.7 0a1.85 1.85 0 1 0 -3.7 0M116.1 368.4a1.85 1.85 0 1 0 3.7 0a1.85 1.85 0 1 0 -3.7 0M116.5 371.2a1.85 1.85 0 1 0 3.7 0a1.85 1.85 0 1 0 -3.7 0M116.5 373.0a1.85 1.85 0 1 0 3.7 0a1.85 1.85 0 1 0 -3.7 0M116.2 375.9a1.85 1.85 0 1 0 3.7 0a1.85 1.85 0 1 0 -3.7 0M116.8 378.0a1.85 1.85 0 1 0 3.7 0a1.85 1.85 0 1 0 -3.7 0M116.4 381.2a1.85 1.85 0 1 0 3.7 0a1.85 1.85 0 1 0 -3.7 0M116.4 383.6a1.85 1.85 0 1 0 3.7 0a1.85 1.85 0 1 0 -3.7 0M123.1 340.9a1.85 1.85 0 1 0 3.7 0a1.85 1.85 0 1 0 -3.7 0M123.6 343.9a1.85 1.85 0 1 0 3.7 0a1.85 1.85 0 1 0 -3.7 0M123.6 346.0a1.85 1.85 0 1 0 3.7 0a1.85 1.85 0 1 0 -3.7 0M123.6 348.7a1.85 1.85 0 1 0 3.7 0a1.85 1.85 0 1 0 -3.7 0M123.6 351.4a1.85 1.85 0 1 0 3.7 0a1.85 1.85 0 1 0 -3.7 0M123.3 354.3a1.85 1.85 0 1 0 3.7 0a1.85 1.85 0 1 0 -3.7 0M123.2 356.8a1.85 1.85 0 1 0 3.7 0a1.85 1.85 0 1 0 -3.7 0M123.4 358.6a1.85 1.85 0 1 0 3.7 0a1.85 1.85 0 1 0 -3.7 0M123.5 361.8a1.85 1.85 0 1 0 3.7 0a1.85 1.85 0 1 0 -3.7 0M123.2 364.3a1.85 1.85 0 1 0 3.7 0a1.85 1.85 0 1 0 -3.7 0M123.1 366.9a1.85 1.85 0 1 0 3.7 0a1.85 1.85 0 1 0 -3.7 0M123.6 369.6a1.85 1.85 0 1 0 3.7 0a1.85 1.85 0 1 0 -3.7 0M123.1 372.1a1.85 1.85 0 1 0 3.7 0a1.85 1.85 0 1 0 -3.7 0M123.0 374.7a1.85 1.85 0 1 0 3.7 0a1.85 1.85 0 1 0 -3.7 0M123.5 376.9a1.85 1.85 0 1 0 3.7 0a1.85 1.85 0 1 0 -3.7 0M122.9 379.8a1.85 1.85 0 1 0 3.7 0a1.85 1.85 0 1 0 -3.7 0M123.1 382.3a1.85 1.85 0 1 0 3.7 0a1.85 1.85 0 1 0 -3.7 0M123.3 384.9a1.85 1.85 0 1 0 3.7 0a1.85 1.85 0 1 0 -3.7 0M148.6 405.9a1.85 1.85 0 1 0 3.7 0a1.85 1.85 0 1 0 -3.7 0M148.6 408.2a1.85 1.85 0 1 0 3.7 0a1.85 1.85 0 1 0 -3.7 0M148.5 411.3a1.85 1.85 0 1 0 3.7 0a1.85 1.85 0 1 0 -3.7 0M148.5 413.4a1.85 1.85 0 1 0 3.7 0a1.85 1.85 0 1 0 -3.7 0M148.8 416.5a1.85 1.85 0 1 0 3.7 0a1.85 1.85 0 1 0 -3.7 0M148.7 419.2a1.85 1.85 0 1 0 3.7 0a1.85 1.85 0 1 0 -3.7 0M148.6 421.3a1.85 1.85 0 1 0 3.7 0a1.85 1.85 0 1 0 -3.7 0M148.9 424.1a1.85 1.85 0 1 0 3.7 0a1.85 1.85 0 1 0 -3.7 0M148.9 426.2a1.85 1.85 0 1 0 3.7 0a1.85 1.85 0 1 0 -3.7 0M148.4 429.3a1.85 1.85 0 1 0 3.7 0a1.85 1.85 0 1 0 -3.7 0M148.7 431.8a1.85 1.85 0 1 0 3.7 0a1.85 1.85 0 1 0 -3.7 0M148.4 434.4a1.85 1.85 0 1 0 3.7 0a1.85 1.85 0 1 0 -3.7 0M152.2 408.1a1.85 1.85 0 1 0 3.7 0a1.85 1.85 0 1 0 -3.7 0M152.0 410.4a1.85 1.85 0 1 0 3.7 0a1.85 1.85 0 1 0 -3.7 0M151.9 413.2a1.85 1.85 0 1 0 3.7 0a1.85 1.85 0 1 0 -3.7 0M151.7 415.6a1.85 1.85 0 1 0 3.7 0a1.85 1.85 0 1 0 -3.7 0M152.0 418.3a1.85 1.85 0 1 0 3.7 0a1.85 1.85 0 1 0 -3.7 0M151.8 420.8a1.85 1.85 0 1 0 3.7 0a1.85 1.85 0 1 0 -3.7 0M152.0 422.6a1.85 1.85 0 1 0 3.7 0a1.85 1.85 0 1 0 -3.7 0M152.1 425.1a1.85 1.85 0 1 0 3.7 0a1.85 1.85 0 1 0 -3.7 0M151.9 427.7a1.85 1.85 0 1 0 3.7 0a1.85 1.85 0 1 0 -3.7 0M151.6 430.6a1.85 1.85 0 1 0 3.7 0a1.85 1.85 0 1 0 -3.7 0M152.0 432.8a1.85 1.85 0 1 0 3.7 0a1.85 1.85 0 1 0 -3.7 0M151.5 435.4a1.85 1.85 0 1 0 3.7 0a1.85 1.85 0 1 0 -3.7 0M152.1 438.0a1.85 1.85 0 1 0 3.7 0a1.85 1.85 0 1 0 -3.7 0M151.8 439.5a1.85 1.85 0 1 0 3.7 0a1.85 1.85 0 1 0 -3.7 0M150.4 415.2a1.85 1.85 0 1 0 3.7 0a1.85 1.85 0 1 0 -3.7 0M150.4 417.8a1.85 1.85 0 1 0 3.7 0a1.85 1.85 0 1 0 -3.7 0M149.9 419.9a1.85 1.85 0 1 0 3.7 0a1.85 1.85 0 1 0 -3.7 0M149.8 421.8a1.85 1.85 0 1 0 3.7 0a1.85 1.85 0 1 0 -3.7 0M150.3 424.9a1.85 1.85 0 1 0 3.7 0a1.85 1.85 0 1 0 -3.7 0M149.9 427.1a1.85 1.85 0 1 0 3.7 0a1.85 1.85 0 1 0 -3.7 0M150.3 429.4a1.85 1.85 0 1 0 3.7 0a1.85 1.85 0 1 0 -3.7 0M150.1 432.0a1.85 1.85 0 1 0 3.7 0a1.85 1.85 0 1 0 -3.7 0M123.5 463.4a1.85 1.85 0 1 0 3.7 0a1.85 1.85 0 1 0 -3.7 0M123.0 466.0a1.85 1.85 0 1 0 3.7 0a1.85 1.85 0 1 0 -3.7 0M123.1 467.9a1.85 1.85 0 1 0 3.7 0a1.85 1.85 0 1 0 -3.7 0M122.9 470.3a1.85 1.85 0 1 0 3.7 0a1.85 1.85 0 1 0 -3.7 0M123.3 472.6a1.85 1.85 0 1 0 3.7 0a1.85 1.85 0 1 0 -3.7 0M123.3 475.5a1.85 1.85 0 1 0 3.7 0a1.85 1.85 0 1 0 -3.7 0M122.8 477.8a1.85 1.85 0 1 0 3.7 0a1.85 1.85 0 1 0 -3.7 0M116.5 469.3a1.85 1.85 0 1 0 3.7 0a1.85 1.85 0 1 0 -3.7 0M117.0 471.9a1.85 1.85 0 1 0 3.7 0a1.85 1.85 0 1 0 -3.7 0M116.4 473.9a1.85 1.85 0 1 0 3.7 0a1.85 1.85 0 1 0 -3.7 0M116.3 476.2a1.85 1.85 0 1 0 3.7 0a1.85 1.85 0 1 0 -3.7 0M117.1 478.5a1.85 1.85 0 1 0 3.7 0a1.85 1.85 0 1 0 -3.7 0" fill="#0a0a0a"/>
<path d="M117.5 193.5H126.0M118.5 350.5H125.0M118.5 356.5H125.0" fill="none" stroke="#0a0a0a" stroke-width="3.0" stroke-linecap="round"/>
<line x1="162.50" y1="41.50" x2="162.50" y2="501.80" stroke="#ed3023" stroke-width="4.5" stroke-dasharray="12.05 4.2" stroke-dashoffset="5.65"/>
<line x1="200.40" y1="43.50" x2="200.40" y2="502.60" stroke="#ed3023" stroke-width="4.5" stroke-dasharray="12.05 4.2" stroke-dashoffset="7.65"/>
<line x1="324.70" y1="39.50" x2="328.90" y2="506.00" stroke="#ee3641" stroke-width="2.3" stroke-dasharray="13.9 7.7" stroke-dashoffset="0"/>
<line x1="367.30" y1="39.50" x2="370.70" y2="506.00" stroke="#ee3641" stroke-width="2.3" stroke-dasharray="13.9 7.7" stroke-dashoffset="0"/>
<line x1="463.70" y1="39.50" x2="466.70" y2="506.00" stroke="#ee3641" stroke-width="2.3" stroke-dasharray="13.9 7.7" stroke-dashoffset="0"/>
<line x1="495.50" y1="39.50" x2="498.60" y2="506.00" stroke="#ee3641" stroke-width="2.3" stroke-dasharray="13.9 7.7" stroke-dashoffset="0"/>
<line x1="652.90" y1="40.00" x2="655.90" y2="505.80" stroke="#ee3641" stroke-width="2.3" stroke-dasharray="13.9 7.7" stroke-dashoffset="0"/>
<path d="M122.75 107.65h12.50M122.75 129.15h12.50M129.00 107.65V129.15" fill="none" stroke="#ec1f28" stroke-width="2.8"/>
<path d="M168.40 125.50h23.80M168.40 146.50h23.80M174.16 125.50V146.50M186.44 125.50V146.50" fill="none" stroke="#ec1f28" stroke-width="2.8"/>
<path d="M563.60 83.80h22.40M563.60 102.80h22.40M567.41 83.80V102.80M574.80 83.80V102.80M582.19 83.80V102.80" fill="none" stroke="#ec1f28" stroke-width="2.7"/>
<path d="M336.70 244.50h6.86M336.70 262.70h6.86" fill="none" stroke="#ec1f28" stroke-width="2.5"/>
<path d="M340.13 244.50V262.70" fill="none" stroke="#ec1f28" stroke-width="2.9000000000000004"/>
<path d="M345.34 243.90L354.02 263.50" fill="none" stroke="#ec1f28" stroke-width="2.4000000000000004" stroke-linecap="butt"/>
<path d="M362.10 243.90L354.02 263.50" fill="none" stroke="#ec1f28" stroke-width="1.8000000000000003" stroke-linecap="butt"/>
<path d="M469.55 197.55L478.80 218.05" fill="none" stroke="#ec1f28" stroke-width="2.5"/>
<path d="M488.05 197.55L478.80 218.05" fill="none" stroke="#ec1f28" stroke-width="1.9"/>
<text x="571.70" y="149.60" text-anchor="middle" font-family="Liberation Sans, sans-serif" font-size="21.6" fill="#1a1a1a" textLength="78.3" lengthAdjust="spacingAndGlyphs">63.5~88</text>
<text x="421.80" y="241.20" text-anchor="middle" font-family="Liberation Sans, sans-serif" font-size="21.6" fill="#1a1a1a" textLength="77.9" lengthAdjust="spacingAndGlyphs">58.5~63</text>
<text x="276.30" y="298.70" text-anchor="middle" font-family="Liberation Sans, sans-serif" font-size="21.6" fill="#1a1a1a" textLength="78.1" lengthAdjust="spacingAndGlyphs">36.5~43</text>
<line x1="512.42" y1="163.30" x2="636.68" y2="163.30" stroke="#444" stroke-width="1.3"/>
<path d="M501.50 163.30L519.70 156.30L514.24 163.30L519.70 170.30ZM647.60 163.30L629.40 156.30L634.86 163.30L629.40 170.30Z" fill="#111"/>
<line x1="469.70" y1="233.00" x2="492.20" y2="233.00" stroke="#111" stroke-width="1.7"/>
<path d="M465.00 233.00L474.40 229.00L473.27 233.00L474.40 237.00ZM496.90 233.00L487.50 229.00L488.63 233.00L487.50 237.00Z" fill="#111"/>
<line x1="331.10" y1="282.00" x2="364.60" y2="282.00" stroke="#111" stroke-width="1.7"/>
<path d="M326.40 282.00L335.80 278.00L334.67 282.00L335.80 286.00ZM369.30 282.00L359.90 278.00L361.03 282.00L359.90 286.00Z" fill="#111"/>
<line x1="518.50" y1="350.60" x2="493.11" y2="310.42" stroke="#4a7ebb" stroke-width="4.6"/>
<path d="M483.50 295.20L503.06 306.50L485.31 317.72Z" fill="#4a7ebb"/>
<rect x="519.50" y="350.60" width="97.50" height="104.40" fill="#fff" stroke="#1f4a82" stroke-width="3.4" stroke-linejoin="round"/>
<path d="M522.8 403.4a1.48 1.48 0 1 0 2.96 0a1.48 1.48 0 1 0 -2.96 0M530.3 398.2a1.48 1.48 0 1 0 2.96 0a1.48 1.48 0 1 0 -2.96 0M530.3 408.6a1.48 1.48 0 1 0 2.96 0a1.48 1.48 0 1 0 -2.96 0M537.8 395.9a1.48 1.48 0 1 0 2.96 0a1.48 1.48 0 1 0 -2.96 0M537.8 410.9a1.48 1.48 0 1 0 2.96 0a1.48 1.48 0 1 0 -2.96 0M537.8 393.4a1.48 1.48 0 1 0 2.96 0a1.48 1.48 0 1 0 -2.96 0M537.8 413.4a1.48 1.48 0 1 0 2.96 0a1.48 1.48 0 1 0 -2.96 0M545.3 393.9a1.48 1.48 0 1 0 2.96 0a1.48 1.48 0 1 0 -2.96 0M545.3 412.9a1.48 1.48 0 1 0 2.96 0a1.48 1.48 0 1 0 -2.96 0M545.3 390.9a1.48 1.48 0 1 0 2.96 0a1.48 1.48 0 1 0 -2.96 0M545.3 415.9a1.48 1.48 0 1 0 2.96 0a1.48 1.48 0 1 0 -2.96 0M552.8 392.9a1.48 1.48 0 1 0 2.96 0a1.48 1.48 0 1 0 -2.96 0M552.8 413.9a1.48 1.48 0 1 0 2.96 0a1.48 1.48 0 1 0 -2.96 0M552.8 388.8a1.48 1.48 0 1 0 2.96 0a1.48 1.48 0 1 0 -2.96 0M552.8 418.0a1.48 1.48 0 1 0 2.96 0a1.48 1.48 0 1 0 -2.96 0M560.3 391.4a1.48 1.48 0 1 0 2.96 0a1.48 1.48 0 1 0 -2.96 0M560.3 415.4a1.48 1.48 0 1 0 2.96 0a1.48 1.48 0 1 0 -2.96 0M560.3 387.1a1.48 1.48 0 1 0 2.96 0a1.48 1.48 0 1 0 -2.96 0M560.3 419.7a1.48 1.48 0 1 0 2.96 0a1.48 1.48 0 1 0 -2.96 0M567.8 390.0a1.48 1.48 0 1 0 2.96 0a1.48 1.48 0 1 0 -2.96 0M567.8 416.8a1.48 1.48 0 1 0 2.96 0a1.48 1.48 0 1 0 -2.96 0M567.8 385.6a1.48 1.48 0 1 0 2.96 0a1.48 1.48 0 1 0 -2.96 0M567.8 421.2a1.48 1.48 0 1 0 2.96 0a1.48 1.48 0 1 0 -2.96 0M575.3 388.7a1.48 1.48 0 1 0 2.96 0a1.48 1.48 0 1 0 -2.96 0M575.3 418.1a1.48 1.48 0 1 0 2.96 0a1.48 1.48 0 1 0 -2.96 0M575.3 384.5a1.48 1.48 0 1 0 2.96 0a1.48 1.48 0 1 0 -2.96 0M575.3 422.3a1.48 1.48 0 1 0 2.96 0a1.48 1.48 0 1 0 -2.96 0M582.8 387.4a1.48 1.48 0 1 0 2.96 0a1.48 1.48 0 1 0 -2.96 0M582.8 419.4a1.48 1.48 0 1 0 2.96 0a1.48 1.48 0 1 0 -2.96 0M582.8 383.1a1.48 1.48 0 1 0 2.96 0a1.48 1.48 0 1 0 -2.96 0M582.8 423.7a1.48 1.48 0 1 0 2.96 0a1.48 1.48 0 1 0 -2.96 0M590.3 386.2a1.48 1.48 0 1 0 2.96 0a1.48 1.48 0 1 0 -2.96 0M590.3 420.6a1.48 1.48 0 1 0 2.96 0a1.48 1.48 0 1 0 -2.96 0M590.3 381.9a1.48 1.48 0 1 0 2.96 0a1.48 1.48 0 1 0 -2.96 0M590.3 424.9a1.48 1.48 0 1 0 2.96 0a1.48 1.48 0 1 0 -2.96 0M597.8 385.4a1.48 1.48 0 1 0 2.96 0a1.48 1.48 0 1 0 -2.96 0M597.8 421.4a1.48 1.48 0 1 0 2.96 0a1.48 1.48 0 1 0 -2.96 0M597.8 381.0a1.48 1.48 0 1 0 2.96 0a1.48 1.48 0 1 0 -2.96 0M597.8 425.8a1.48 1.48 0 1 0 2.96 0a1.48 1.48 0 1 0 -2.96 0M605.3 379.8a1.48 1.48 0 1 0 2.96 0a1.48 1.48 0 1 0 -2.96 0M605.3 427.0a1.48 1.48 0 1 0 2.96 0a1.48 1.48 0 1 0 -2.96 0M612.8 379.0a1.48 1.48 0 1 0 2.96 0a1.48 1.48 0 1 0 -2.96 0M612.8 427.8a1.48 1.48 0 1 0 2.96 0a1.48 1.48 0 1 0 -2.96 0" fill="#111"/>
<path d="M839.5 272.2H855.5M937 272.2H1071.2M1108.2 272.2H1213.6M1386 272.2H1409" stroke="#0a0a0a" stroke-width="3.6" stroke-linecap="round" fill="none"/>
<polyline points="1214.00 272.20 1215.70 268.81 1217.41 265.64 1219.11 264.31 1220.82 263.21 1222.52 262.25 1224.22 261.39 1225.93 260.60 1227.63 259.87 1229.34 259.19 1231.04 258.56 1232.74 257.95 1234.45 257.38 1236.15 256.83 1237.86 256.30 1239.56 255.79 1241.26 255.30 1242.97 254.83 1244.67 254.37 1246.38 253.93 1248.08 253.50 1249.78 253.08 1251.49 252.67 1253.19 252.27 1254.90 251.88 1256.60 251.50 1258.30 251.13 1260.01 250.76 1261.71 250.40 1263.42 250.05 1265.12 249.71 1266.82 249.37 1268.53 249.04 1270.23 248.71 1271.94 248.39 1273.64 248.07 1275.34 247.76 1277.05 247.46 1278.75 247.15 1280.46 246.86 1282.16 246.56 1283.86 246.27 1285.57 245.99 1287.27 245.70 1288.98 245.43 1290.68 245.15 1292.38 244.88 1294.09 244.61 1295.79 244.34 1297.50 244.08 1299.20 243.82 1300.90 243.57 1302.61 243.31 1304.31 243.06 1306.02 242.81 1307.72 242.56 1309.42 242.32 1311.13 242.08 1312.83 241.84 1314.54 241.60 1316.24 241.37 1317.94 241.13 1319.65 240.90 1321.35 240.68 1323.06 240.45 1324.76 240.22 1326.46 240.00 1328.17 239.78 1329.87 239.56 1331.58 239.34 1333.28 239.13 1334.98 238.91 1336.69 238.70 1338.39 238.49 1340.10 238.28 1341.80 238.07 1343.50 237.87 1345.21 237.66 1346.91 237.46 1348.62 237.26 1350.32 237.06 1352.02 236.86 1353.73 236.66 1355.43 236.46 1357.14 236.27 1358.84 236.07 1360.54 235.88 1362.25 235.69 1363.95 235.50 1365.66 235.31 1367.36 235.12 1369.06 234.93 1370.77 234.75 1372.47 234.56 1374.18 234.38 1375.88 234.20 1377.58 234.02 1379.29 233.84 1380.99 233.66 1382.70 233.48 1384.40 233.30" fill="none" stroke="#0a0a0a" stroke-width="4.1" stroke-linecap="round" stroke-linejoin="round"/>
<polyline points="1214.00 272.20 1215.70 275.53 1217.41 278.64 1219.11 279.95 1220.82 281.03 1222.52 281.97 1224.22 282.82 1225.93 283.59 1227.63 284.31 1229.34 284.97 1231.04 285.60 1232.74 286.19 1234.45 286.76 1236.15 287.30 1237.86 287.82 1239.56 288.31 1241.26 288.79 1242.97 289.26 1244.67 289.71 1246.38 290.14 1248.08 290.57 1249.78 290.98 1251.49 291.38 1253.19 291.77 1254.90 292.16 1256.60 292.53 1258.30 292.90 1260.01 293.25 1261.71 293.61 1263.42 293.95 1265.12 294.29 1266.82 294.62 1268.53 294.95 1270.23 295.27 1271.94 295.58 1273.64 295.89 1275.34 296.20 1277.05 296.50 1278.75 296.80 1280.46 297.09 1282.16 297.38 1283.86 297.66 1285.57 297.94 1287.27 298.22 1288.98 298.49 1290.68 298.76 1292.38 299.03 1294.09 299.29 1295.79 299.55 1297.50 299.81 1299.20 300.07 1300.90 300.32 1302.61 300.57 1304.31 300.82 1306.02 301.06 1307.72 301.30 1309.42 301.54 1311.13 301.78 1312.83 302.01 1314.54 302.25 1316.24 302.48 1317.94 302.71 1319.65 302.93 1321.35 303.16 1323.06 303.38 1324.76 303.60 1326.46 303.82 1328.17 304.04 1329.87 304.25 1331.58 304.47 1333.28 304.68 1334.98 304.89 1336.69 305.10 1338.39 305.30 1340.10 305.51 1341.80 305.71 1343.50 305.92 1345.21 306.12 1346.91 306.32 1348.62 306.51 1350.32 306.71 1352.02 306.91 1353.73 307.10 1355.43 307.29 1357.14 307.49 1358.84 307.68 1360.54 307.87 1362.25 308.05 1363.95 308.24 1365.66 308.43 1367.36 308.61 1369.06 308.80 1370.77 308.98 1372.47 309.16 1374.18 309.34 1375.88 309.52 1377.58 309.70 1379.29 309.87 1380.99 310.05 1382.70 310.23 1384.40 310.40" fill="none" stroke="#0a0a0a" stroke-width="4.1" stroke-linecap="round" stroke-linejoin="round"/>
<polyline points="1216.00 267.39 1216.96 266.54 1217.92 265.86 1218.88 265.29 1219.84 264.79 1220.80 264.35 1221.76 263.95 1222.72 263.59 1223.68 263.26 1224.64 262.96 1225.60 262.68 1226.56 262.32 1227.52 261.92 1228.48 261.53 1229.44 261.15 1230.40 260.79 1231.36 260.44 1232.32 260.10 1233.28 259.77 1234.24 259.44 1235.20 259.13 1236.16 258.82 1237.12 258.52 1238.08 258.23 1239.04 257.94 1240.00 257.66 1240.96 257.39 1241.92 257.12 1242.88 256.85 1243.84 256.59 1244.80 256.34" fill="none" stroke="#0a0a0a" stroke-width="4.0" stroke-linecap="butt" stroke-linejoin="round"/>
<polyline points="1216.00 276.92 1216.96 277.75 1217.92 278.41 1218.88 278.97 1219.84 279.46 1220.80 279.89 1221.76 280.27 1222.72 280.62 1223.68 280.95 1224.64 281.24 1225.60 281.51 1226.56 281.86 1227.52 282.26 1228.48 282.64 1229.44 283.01 1230.40 283.37 1231.36 283.71 1232.32 284.05 1233.28 284.37 1234.24 284.69 1235.20 285.00 1236.16 285.30 1237.12 285.59 1238.08 285.88 1239.04 286.16 1240.00 286.44 1240.96 286.71 1241.92 286.97 1242.88 287.23 1243.84 287.49 1244.80 287.74" fill="none" stroke="#0a0a0a" stroke-width="4.0" stroke-linecap="butt" stroke-linejoin="round"/>
<path d="M1071.8 251.5a1.9 1.9 0 1 0 3.8 0a1.9 1.9 0 1 0 -3.8 0M1072.2 253.9a1.9 1.9 0 1 0 3.8 0a1.9 1.9 0 1 0 -3.8 0M1071.7 256.3a1.9 1.9 0 1 0 3.8 0a1.9 1.9 0 1 0 -3.8 0M1072.0 258.1a1.9 1.9 0 1 0 3.8 0a1.9 1.9 0 1 0 -3.8 0M1072.1 260.5a1.9 1.9 0 1 0 3.8 0a1.9 1.9 0 1 0 -3.8 0M1072.2 262.4a1.9 1.9 0 1 0 3.8 0a1.9 1.9 0 1 0 -3.8 0M1075.5 210.0a1.9 1.9 0 1 0 3.8 0a1.9 1.9 0 1 0 -3.8 0M1075.1 212.1a1.9 1.9 0 1 0 3.8 0a1.9 1.9 0 1 0 -3.8 0M1075.7 213.6a1.9 1.9 0 1 0 3.8 0a1.9 1.9 0 1 0 -3.8 0M1075.0 215.5a1.9 1.9 0 1 0 3.8 0a1.9 1.9 0 1 0 -3.8 0M1074.9 217.3a1.9 1.9 0 1 0 3.8 0a1.9 1.9 0 1 0 -3.8 0M1075.2 219.1a1.9 1.9 0 1 0 3.8 0a1.9 1.9 0 1 0 -3.8 0M1075.4 221.0a1.9 1.9 0 1 0 3.8 0a1.9 1.9 0 1 0 -3.8 0M1075.7 223.1a1.9 1.9 0 1 0 3.8 0a1.9 1.9 0 1 0 -3.8 0M1075.3 224.4a1.9 1.9 0 1 0 3.8 0a1.9 1.9 0 1 0 -3.8 0M1075.7 227.0a1.9 1.9 0 1 0 3.8 0a1.9 1.9 0 1 0 -3.8 0M1075.2 228.7a1.9 1.9 0 1 0 3.8 0a1.9 1.9 0 1 0 -3.8 0M1078.4 186.0a1.9 1.9 0 1 0 3.8 0a1.9 1.9 0 1 0 -3.8 0M1078.6 188.0a1.9 1.9 0 1 0 3.8 0a1.9 1.9 0 1 0 -3.8 0M1078.9 189.9a1.9 1.9 0 1 0 3.8 0a1.9 1.9 0 1 0 -3.8 0M1078.2 191.7a1.9 1.9 0 1 0 3.8 0a1.9 1.9 0 1 0 -3.8 0M1078.5 193.9a1.9 1.9 0 1 0 3.8 0a1.9 1.9 0 1 0 -3.8 0M1078.9 195.7a1.9 1.9 0 1 0 3.8 0a1.9 1.9 0 1 0 -3.8 0M1078.2 196.9a1.9 1.9 0 1 0 3.8 0a1.9 1.9 0 1 0 -3.8 0M1078.6 199.4a1.9 1.9 0 1 0 3.8 0a1.9 1.9 0 1 0 -3.8 0M1078.7 200.7a1.9 1.9 0 1 0 3.8 0a1.9 1.9 0 1 0 -3.8 0M1078.4 203.1a1.9 1.9 0 1 0 3.8 0a1.9 1.9 0 1 0 -3.8 0M1078.8 204.4a1.9 1.9 0 1 0 3.8 0a1.9 1.9 0 1 0 -3.8 0M1078.8 206.7a1.9 1.9 0 1 0 3.8 0a1.9 1.9 0 1 0 -3.8 0M1078.3 208.8a1.9 1.9 0 1 0 3.8 0a1.9 1.9 0 1 0 -3.8 0M1078.9 210.4a1.9 1.9 0 1 0 3.8 0a1.9 1.9 0 1 0 -3.8 0M1078.1 212.7a1.9 1.9 0 1 0 3.8 0a1.9 1.9 0 1 0 -3.8 0M1078.2 214.6a1.9 1.9 0 1 0 3.8 0a1.9 1.9 0 1 0 -3.8 0M1078.2 216.3a1.9 1.9 0 1 0 3.8 0a1.9 1.9 0 1 0 -3.8 0M1078.4 218.1a1.9 1.9 0 1 0 3.8 0a1.9 1.9 0 1 0 -3.8 0M1078.8 220.3a1.9 1.9 0 1 0 3.8 0a1.9 1.9 0 1 0 -3.8 0M1081.5 167.0a1.9 1.9 0 1 0 3.8 0a1.9 1.9 0 1 0 -3.8 0M1081.9 169.3a1.9 1.9 0 1 0 3.8 0a1.9 1.9 0 1 0 -3.8 0M1081.3 171.3a1.9 1.9 0 1 0 3.8 0a1.9 1.9 0 1 0 -3.8 0M1082.0 173.2a1.9 1.9 0 1 0 3.8 0a1.9 1.9 0 1 0 -3.8 0M1081.2 174.3a1.9 1.9 0 1 0 3.8 0a1.9 1.9 0 1 0 -3.8 0M1081.3 176.8a1.9 1.9 0 1 0 3.8 0a1.9 1.9 0 1 0 -3.8 0M1081.2 178.9a1.9 1.9 0 1 0 3.8 0a1.9 1.9 0 1 0 -3.8 0M1081.3 180.7a1.9 1.9 0 1 0 3.8 0a1.9 1.9 0 1 0 -3.8 0M1081.9 182.9a1.9 1.9 0 1 0 3.8 0a1.9 1.9 0 1 0 -3.8 0M1081.8 184.1a1.9 1.9 0 1 0 3.8 0a1.9 1.9 0 1 0 -3.8 0M1081.4 186.0a1.9 1.9 0 1 0 3.8 0a1.9 1.9 0 1 0 -3.8 0M1082.0 188.6a1.9 1.9 0 1 0 3.8 0a1.9 1.9 0 1 0 -3.8 0M1081.7 190.6a1.9 1.9 0 1 0 3.8 0a1.9 1.9 0 1 0 -3.8 0M1081.7 191.7a1.9 1.9 0 1 0 3.8 0a1.9 1.9 0 1 0 -3.8 0M1081.7 194.2a1.9 1.9 0 1 0 3.8 0a1.9 1.9 0 1 0 -3.8 0M1082.0 195.7a1.9 1.9 0 1 0 3.8 0a1.9 1.9 0 1 0 -3.8 0M1081.4 197.4a1.9 1.9 0 1 0 3.8 0a1.9 1.9 0 1 0 -3.8 0M1081.2 200.2a1.9 1.9 0 1 0 3.8 0a1.9 1.9 0 1 0 -3.8 0M1081.3 201.6a1.9 1.9 0 1 0 3.8 0a1.9 1.9 0 1 0 -3.8 0M1081.8 203.2a1.9 1.9 0 1 0 3.8 0a1.9 1.9 0 1 0 -3.8 0M1081.6 205.3a1.9 1.9 0 1 0 3.8 0a1.9 1.9 0 1 0 -3.8 0M1081.2 207.3a1.9 1.9 0 1 0 3.8 0a1.9 1.9 0 1 0 -3.8 0M1084.8 149.0a1.9 1.9 0 1 0 3.8 0a1.9 1.9 0 1 0 -3.8 0M1084.3 151.0a1.9 1.9 0 1 0 3.8 0a1.9 1.9 0 1 0 -3.8 0M1084.5 153.5a1.9 1.9 0 1 0 3.8 0a1.9 1.9 0 1 0 -3.8 0M1084.6 155.6a1.9 1.9 0 1 0 3.8 0a1.9 1.9 0 1 0 -3.8 0M1084.8 156.8a1.9 1.9 0 1 0 3.8 0a1.9 1.9 0 1 0 -3.8 0M1084.9 158.7a1.9 1.9 0 1 0 3.8 0a1.9 1.9 0 1 0 -3.8 0M1084.9 160.7a1.9 1.9 0 1 0 3.8 0a1.9 1.9 0 1 0 -3.8 0M1084.4 163.2a1.9 1.9 0 1 0 3.8 0a1.9 1.9 0 1 0 -3.8 0M1085.1 164.9a1.9 1.9 0 1 0 3.8 0a1.9 1.9 0 1 0 -3.8 0M1085.1 166.5a1.9 1.9 0 1 0 3.8 0a1.9 1.9 0 1 0 -3.8 0M1085.1 168.3a1.9 1.9 0 1 0 3.8 0a1.9 1.9 0 1 0 -3.8 0M1084.5 170.1a1.9 1.9 0 1 0 3.8 0a1.9 1.9 0 1 0 -3.8 0M1084.3 171.9a1.9 1.9 0 1 0 3.8 0a1.9 1.9 0 1 0 -3.8 0M1085.0 173.8a1.9 1.9 0 1 0 3.8 0a1.9 1.9 0 1 0 -3.8 0M1085.1 175.5a1.9 1.9 0 1 0 3.8 0a1.9 1.9 0 1 0 -3.8 0M1085.0 177.3a1.9 1.9 0 1 0 3.8 0a1.9 1.9 0 1 0 -3.8 0M1084.7 179.8a1.9 1.9 0 1 0 3.8 0a1.9 1.9 0 1 0 -3.8 0M1084.9 181.6a1.9 1.9 0 1 0 3.8 0a1.9 1.9 0 1 0 -3.8 0M1084.5 183.1a1.9 1.9 0 1 0 3.8 0a1.9 1.9 0 1 0 -3.8 0M1084.5 185.4a1.9 1.9 0 1 0 3.8 0a1.9 1.9 0 1 0 -3.8 0M1084.5 187.1a1.9 1.9 0 1 0 3.8 0a1.9 1.9 0 1 0 -3.8 0M1084.3 189.4a1.9 1.9 0 1 0 3.8 0a1.9 1.9 0 1 0 -3.8 0M1084.4 191.1a1.9 1.9 0 1 0 3.8 0a1.9 1.9 0 1 0 -3.8 0M1088.2 132.7a1.9 1.9 0 1 0 3.8 0a1.9 1.9 0 1 0 -3.8 0M1088.0 134.8a1.9 1.9 0 1 0 3.8 0a1.9 1.9 0 1 0 -3.8 0M1087.5 136.4a1.9 1.9 0 1 0 3.8 0a1.9 1.9 0 1 0 -3.8 0M1087.8 138.9a1.9 1.9 0 1 0 3.8 0a1.9 1.9 0 1 0 -3.8 0M1088.2 140.2a1.9 1.9 0 1 0 3.8 0a1.9 1.9 0 1 0 -3.8 0M1087.9 142.1a1.9 1.9 0 1 0 3.8 0a1.9 1.9 0 1 0 -3.8 0M1088.0 144.2a1.9 1.9 0 1 0 3.8 0a1.9 1.9 0 1 0 -3.8 0M1087.9 146.6a1.9 1.9 0 1 0 3.8 0a1.9 1.9 0 1 0 -3.8 0M1088.0 148.6a1.9 1.9 0 1 0 3.8 0a1.9 1.9 0 1 0 -3.8 0M1087.8 150.1a1.9 1.9 0 1 0 3.8 0a1.9 1.9 0 1 0 -3.8 0M1087.5 151.9a1.9 1.9 0 1 0 3.8 0a1.9 1.9 0 1 0 -3.8 0M1087.5 154.3a1.9 1.9 0 1 0 3.8 0a1.9 1.9 0 1 0 -3.8 0M1088.0 156.0a1.9 1.9 0 1 0 3.8 0a1.9 1.9 0 1 0 -3.8 0M1087.5 157.3a1.9 1.9 0 1 0 3.8 0a1.9 1.9 0 1 0 -3.8 0M1087.6 160.1a1.9 1.9 0 1 0 3.8 0a1.9 1.9 0 1 0 -3.8 0M1087.7 161.8a1.9 1.9 0 1 0 3.8 0a1.9 1.9 0 1 0 -3.8 0M1087.6 163.3a1.9 1.9 0 1 0 3.8 0a1.9 1.9 0 1 0 -3.8 0M1087.9 165.8a1.9 1.9 0 1 0 3.8 0a1.9 1.9 0 1 0 -3.8 0M1088.1 167.7a1.9 1.9 0 1 0 3.8 0a1.9 1.9 0 1 0 -3.8 0M1087.8 169.5a1.9 1.9 0 1 0 3.8 0a1.9 1.9 0 1 0 -3.8 0M1088.0 170.8a1.9 1.9 0 1 0 3.8 0a1.9 1.9 0 1 0 -3.8 0M1087.5 173.4a1.9 1.9 0 1 0 3.8 0a1.9 1.9 0 1 0 -3.8 0M1087.8 175.2a1.9 1.9 0 1 0 3.8 0a1.9 1.9 0 1 0 -3.8 0M1087.8 177.3a1.9 1.9 0 1 0 3.8 0a1.9 1.9 0 1 0 -3.8 0M1088.2 178.7a1.9 1.9 0 1 0 3.8 0a1.9 1.9 0 1 0 -3.8 0M1088.2 180.8a1.9 1.9 0 1 0 3.8 0a1.9 1.9 0 1 0 -3.8 0M1087.8 182.4a1.9 1.9 0 1 0 3.8 0a1.9 1.9 0 1 0 -3.8 0M1087.7 184.4a1.9 1.9 0 1 0 3.8 0a1.9 1.9 0 1 0 -3.8 0M1091.4 143.0a1.9 1.9 0 1 0 3.8 0a1.9 1.9 0 1 0 -3.8 0M1090.7 145.2a1.9 1.9 0 1 0 3.8 0a1.9 1.9 0 1 0 -3.8 0M1091.3 147.1a1.9 1.9 0 1 0 3.8 0a1.9 1.9 0 1 0 -3.8 0M1090.8 148.6a1.9 1.9 0 1 0 3.8 0a1.9 1.9 0 1 0 -3.8 0M1091.2 150.3a1.9 1.9 0 1 0 3.8 0a1.9 1.9 0 1 0 -3.8 0M1090.6 152.4a1.9 1.9 0 1 0 3.8 0a1.9 1.9 0 1 0 -3.8 0M1090.9 153.9a1.9 1.9 0 1 0 3.8 0a1.9 1.9 0 1 0 -3.8 0M1091.4 155.9a1.9 1.9 0 1 0 3.8 0a1.9 1.9 0 1 0 -3.8 0M1090.9 157.4a1.9 1.9 0 1 0 3.8 0a1.9 1.9 0 1 0 -3.8 0M1090.9 159.1a1.9 1.9 0 1 0 3.8 0a1.9 1.9 0 1 0 -3.8 0M1093.9 109.9a1.9 1.9 0 1 0 3.8 0a1.9 1.9 0 1 0 -3.8 0M1094.1 112.1a1.9 1.9 0 1 0 3.8 0a1.9 1.9 0 1 0 -3.8 0M1094.3 114.4a1.9 1.9 0 1 0 3.8 0a1.9 1.9 0 1 0 -3.8 0M1094.4 115.6a1.9 1.9 0 1 0 3.8 0a1.9 1.9 0 1 0 -3.8 0M1094.0 117.9a1.9 1.9 0 1 0 3.8 0a1.9 1.9 0 1 0 -3.8 0M1093.8 120.1a1.9 1.9 0 1 0 3.8 0a1.9 1.9 0 1 0 -3.8 0M1094.1 122.4a1.9 1.9 0 1 0 3.8 0a1.9 1.9 0 1 0 -3.8 0M1094.3 123.8a1.9 1.9 0 1 0 3.8 0a1.9 1.9 0 1 0 -3.8 0M1093.8 125.6a1.9 1.9 0 1 0 3.8 0a1.9 1.9 0 1 0 -3.8 0M1094.0 146.6a1.9 1.9 0 1 0 3.8 0a1.9 1.9 0 1 0 -3.8 0M1094.1 148.5a1.9 1.9 0 1 0 3.8 0a1.9 1.9 0 1 0 -3.8 0M1094.3 150.4a1.9 1.9 0 1 0 3.8 0a1.9 1.9 0 1 0 -3.8 0M1093.8 152.2a1.9 1.9 0 1 0 3.8 0a1.9 1.9 0 1 0 -3.8 0M1093.7 154.9a1.9 1.9 0 1 0 3.8 0a1.9 1.9 0 1 0 -3.8 0M1094.3 156.1a1.9 1.9 0 1 0 3.8 0a1.9 1.9 0 1 0 -3.8 0M1094.1 158.4a1.9 1.9 0 1 0 3.8 0a1.9 1.9 0 1 0 -3.8 0M1093.8 160.4a1.9 1.9 0 1 0 3.8 0a1.9 1.9 0 1 0 -3.8 0M1094.3 162.4a1.9 1.9 0 1 0 3.8 0a1.9 1.9 0 1 0 -3.8 0M1094.2 163.9a1.9 1.9 0 1 0 3.8 0a1.9 1.9 0 1 0 -3.8 0M1094.4 165.8a1.9 1.9 0 1 0 3.8 0a1.9 1.9 0 1 0 -3.8 0M1097.5 97.2a1.9 1.9 0 1 0 3.8 0a1.9 1.9 0 1 0 -3.8 0M1097.6 98.4a1.9 1.9 0 1 0 3.8 0a1.9 1.9 0 1 0 -3.8 0M1096.9 101.0a1.9 1.9 0 1 0 3.8 0a1.9 1.9 0 1 0 -3.8 0M1097.6 102.4a1.9 1.9 0 1 0 3.8 0a1.9 1.9 0 1 0 -3.8 0M1097.5 104.5a1.9 1.9 0 1 0 3.8 0a1.9 1.9 0 1 0 -3.8 0M1097.1 106.5a1.9 1.9 0 1 0 3.8 0a1.9 1.9 0 1 0 -3.8 0M1097.3 108.1a1.9 1.9 0 1 0 3.8 0a1.9 1.9 0 1 0 -3.8 0M1097.2 110.3a1.9 1.9 0 1 0 3.8 0a1.9 1.9 0 1 0 -3.8 0M1097.4 112.3a1.9 1.9 0 1 0 3.8 0a1.9 1.9 0 1 0 -3.8 0M1097.0 114.0a1.9 1.9 0 1 0 3.8 0a1.9 1.9 0 1 0 -3.8 0M1097.6 115.1a1.9 1.9 0 1 0 3.8 0a1.9 1.9 0 1 0 -3.8 0M1097.1 117.3a1.9 1.9 0 1 0 3.8 0a1.9 1.9 0 1 0 -3.8 0M1097.4 128.1a1.9 1.9 0 1 0 3.8 0a1.9 1.9 0 1 0 -3.8 0M1097.3 130.2a1.9 1.9 0 1 0 3.8 0a1.9 1.9 0 1 0 -3.8 0M1097.6 132.5a1.9 1.9 0 1 0 3.8 0a1.9 1.9 0 1 0 -3.8 0M1097.1 134.6a1.9 1.9 0 1 0 3.8 0a1.9 1.9 0 1 0 -3.8 0M1097.5 135.5a1.9 1.9 0 1 0 3.8 0a1.9 1.9 0 1 0 -3.8 0M1096.9 138.1a1.9 1.9 0 1 0 3.8 0a1.9 1.9 0 1 0 -3.8 0M1097.0 139.6a1.9 1.9 0 1 0 3.8 0a1.9 1.9 0 1 0 -3.8 0M1096.9 141.5a1.9 1.9 0 1 0 3.8 0a1.9 1.9 0 1 0 -3.8 0M1097.7 143.5a1.9 1.9 0 1 0 3.8 0a1.9 1.9 0 1 0 -3.8 0M1097.3 146.0a1.9 1.9 0 1 0 3.8 0a1.9 1.9 0 1 0 -3.8 0M1097.1 147.1a1.9 1.9 0 1 0 3.8 0a1.9 1.9 0 1 0 -3.8 0M1097.4 149.1a1.9 1.9 0 1 0 3.8 0a1.9 1.9 0 1 0 -3.8 0M1097.3 151.5a1.9 1.9 0 1 0 3.8 0a1.9 1.9 0 1 0 -3.8 0M1097.6 152.6a1.9 1.9 0 1 0 3.8 0a1.9 1.9 0 1 0 -3.8 0M1100.5 85.2a1.9 1.9 0 1 0 3.8 0a1.9 1.9 0 1 0 -3.8 0M1100.3 87.9a1.9 1.9 0 1 0 3.8 0a1.9 1.9 0 1 0 -3.8 0M1100.5 89.6a1.9 1.9 0 1 0 3.8 0a1.9 1.9 0 1 0 -3.8 0M1100.7 91.5a1.9 1.9 0 1 0 3.8 0a1.9 1.9 0 1 0 -3.8 0M1100.0 93.4a1.9 1.9 0 1 0 3.8 0a1.9 1.9 0 1 0 -3.8 0M1100.7 95.3a1.9 1.9 0 1 0 3.8 0a1.9 1.9 0 1 0 -3.8 0M1100.7 97.0a1.9 1.9 0 1 0 3.8 0a1.9 1.9 0 1 0 -3.8 0M1100.4 98.9a1.9 1.9 0 1 0 3.8 0a1.9 1.9 0 1 0 -3.8 0M1100.8 101.3a1.9 1.9 0 1 0 3.8 0a1.9 1.9 0 1 0 -3.8 0M1100.8 103.3a1.9 1.9 0 1 0 3.8 0a1.9 1.9 0 1 0 -3.8 0M1100.2 104.9a1.9 1.9 0 1 0 3.8 0a1.9 1.9 0 1 0 -3.8 0M1100.2 107.0a1.9 1.9 0 1 0 3.8 0a1.9 1.9 0 1 0 -3.8 0M1100.5 118.1a1.9 1.9 0 1 0 3.8 0a1.9 1.9 0 1 0 -3.8 0M1100.3 119.8a1.9 1.9 0 1 0 3.8 0a1.9 1.9 0 1 0 -3.8 0M1100.0 122.2a1.9 1.9 0 1 0 3.8 0a1.9 1.9 0 1 0 -3.8 0M1100.5 124.2a1.9 1.9 0 1 0 3.8 0a1.9 1.9 0 1 0 -3.8 0M1100.4 125.3a1.9 1.9 0 1 0 3.8 0a1.9 1.9 0 1 0 -3.8 0M1100.1 128.0a1.9 1.9 0 1 0 3.8 0a1.9 1.9 0 1 0 -3.8 0M1100.0 129.7a1.9 1.9 0 1 0 3.8 0a1.9 1.9 0 1 0 -3.8 0M1100.8 131.5a1.9 1.9 0 1 0 3.8 0a1.9 1.9 0 1 0 -3.8 0M1100.2 133.0a1.9 1.9 0 1 0 3.8 0a1.9 1.9 0 1 0 -3.8 0M1100.6 135.2a1.9 1.9 0 1 0 3.8 0a1.9 1.9 0 1 0 -3.8 0M1100.5 137.1a1.9 1.9 0 1 0 3.8 0a1.9 1.9 0 1 0 -3.8 0M1100.8 139.6a1.9 1.9 0 1 0 3.8 0a1.9 1.9 0 1 0 -3.8 0M1100.3 141.5a1.9 1.9 0 1 0 3.8 0a1.9 1.9 0 1 0 -3.8 0M1100.6 143.0a1.9 1.9 0 1 0 3.8 0a1.9 1.9 0 1 0 -3.8 0M1100.4 144.7a1.9 1.9 0 1 0 3.8 0a1.9 1.9 0 1 0 -3.8 0M1103.8 74.8a1.9 1.9 0 1 0 3.8 0a1.9 1.9 0 1 0 -3.8 0M1104.0 75.9a1.9 1.9 0 1 0 3.8 0a1.9 1.9 0 1 0 -3.8 0M1103.6 78.1a1.9 1.9 0 1 0 3.8 0a1.9 1.9 0 1 0 -3.8 0M1103.4 80.6a1.9 1.9 0 1 0 3.8 0a1.9 1.9 0 1 0 -3.8 0M1103.9 81.9a1.9 1.9 0 1 0 3.8 0a1.9 1.9 0 1 0 -3.8 0M1103.5 84.2a1.9 1.9 0 1 0 3.8 0a1.9 1.9 0 1 0 -3.8 0M1103.8 86.3a1.9 1.9 0 1 0 3.8 0a1.9 1.9 0 1 0 -3.8 0M1104.0 87.7a1.9 1.9 0 1 0 3.8 0a1.9 1.9 0 1 0 -3.8 0M1103.8 89.3a1.9 1.9 0 1 0 3.8 0a1.9 1.9 0 1 0 -3.8 0M1103.3 91.1a1.9 1.9 0 1 0 3.8 0a1.9 1.9 0 1 0 -3.8 0M1103.2 92.9a1.9 1.9 0 1 0 3.8 0a1.9 1.9 0 1 0 -3.8 0M1103.5 95.5a1.9 1.9 0 1 0 3.8 0a1.9 1.9 0 1 0 -3.8 0M1103.9 96.7a1.9 1.9 0 1 0 3.8 0a1.9 1.9 0 1 0 -3.8 0M1103.7 99.5a1.9 1.9 0 1 0 3.8 0a1.9 1.9 0 1 0 -3.8 0M1103.8 112.2a1.9 1.9 0 1 0 3.8 0a1.9 1.9 0 1 0 -3.8 0M1103.7 113.7a1.9 1.9 0 1 0 3.8 0a1.9 1.9 0 1 0 -3.8 0M1103.4 115.4a1.9 1.9 0 1 0 3.8 0a1.9 1.9 0 1 0 -3.8 0M1103.8 117.3a1.9 1.9 0 1 0 3.8 0a1.9 1.9 0 1 0 -3.8 0M1104.0 120.0a1.9 1.9 0 1 0 3.8 0a1.9 1.9 0 1 0 -3.8 0M1103.3 121.0a1.9 1.9 0 1 0 3.8 0a1.9 1.9 0 1 0 -3.8 0M1103.4 123.8a1.9 1.9 0 1 0 3.8 0a1.9 1.9 0 1 0 -3.8 0M1103.2 125.0a1.9 1.9 0 1 0 3.8 0a1.9 1.9 0 1 0 -3.8 0M1103.7 126.7a1.9 1.9 0 1 0 3.8 0a1.9 1.9 0 1 0 -3.8 0M1104.0 128.8a1.9 1.9 0 1 0 3.8 0a1.9 1.9 0 1 0 -3.8 0M1103.6 130.4a1.9 1.9 0 1 0 3.8 0a1.9 1.9 0 1 0 -3.8 0M1103.9 132.4a1.9 1.9 0 1 0 3.8 0a1.9 1.9 0 1 0 -3.8 0M1103.5 134.9a1.9 1.9 0 1 0 3.8 0a1.9 1.9 0 1 0 -3.8 0M1103.5 136.1a1.9 1.9 0 1 0 3.8 0a1.9 1.9 0 1 0 -3.8 0M1103.9 138.8a1.9 1.9 0 1 0 3.8 0a1.9 1.9 0 1 0 -3.8 0M1071.6 281.8a1.9 1.9 0 1 0 3.8 0a1.9 1.9 0 1 0 -3.8 0M1072.0 283.8a1.9 1.9 0 1 0 3.8 0a1.9 1.9 0 1 0 -3.8 0M1072.4 285.4a1.9 1.9 0 1 0 3.8 0a1.9 1.9 0 1 0 -3.8 0M1072.3 287.4a1.9 1.9 0 1 0 3.8 0a1.9 1.9 0 1 0 -3.8 0M1072.3 289.9a1.9 1.9 0 1 0 3.8 0a1.9 1.9 0 1 0 -3.8 0M1071.7 291.1a1.9 1.9 0 1 0 3.8 0a1.9 1.9 0 1 0 -3.8 0M1075.6 308.1a1.9 1.9 0 1 0 3.8 0a1.9 1.9 0 1 0 -3.8 0M1075.2 310.0a1.9 1.9 0 1 0 3.8 0a1.9 1.9 0 1 0 -3.8 0M1075.5 311.2a1.9 1.9 0 1 0 3.8 0a1.9 1.9 0 1 0 -3.8 0M1075.7 313.9a1.9 1.9 0 1 0 3.8 0a1.9 1.9 0 1 0 -3.8 0M1075.0 314.9a1.9 1.9 0 1 0 3.8 0a1.9 1.9 0 1 0 -3.8 0M1075.0 317.6a1.9 1.9 0 1 0 3.8 0a1.9 1.9 0 1 0 -3.8 0M1075.0 318.6a1.9 1.9 0 1 0 3.8 0a1.9 1.9 0 1 0 -3.8 0M1075.4 321.1a1.9 1.9 0 1 0 3.8 0a1.9 1.9 0 1 0 -3.8 0M1075.2 322.9a1.9 1.9 0 1 0 3.8 0a1.9 1.9 0 1 0 -3.8 0M1078.2 324.8a1.9 1.9 0 1 0 3.8 0a1.9 1.9 0 1 0 -3.8 0M1078.7 326.9a1.9 1.9 0 1 0 3.8 0a1.9 1.9 0 1 0 -3.8 0M1078.3 329.0a1.9 1.9 0 1 0 3.8 0a1.9 1.9 0 1 0 -3.8 0M1078.1 331.3a1.9 1.9 0 1 0 3.8 0a1.9 1.9 0 1 0 -3.8 0M1078.3 332.3a1.9 1.9 0 1 0 3.8 0a1.9 1.9 0 1 0 -3.8 0M1078.3 334.2a1.9 1.9 0 1 0 3.8 0a1.9 1.9 0 1 0 -3.8 0M1078.5 336.5a1.9 1.9 0 1 0 3.8 0a1.9 1.9 0 1 0 -3.8 0M1078.2 338.6a1.9 1.9 0 1 0 3.8 0a1.9 1.9 0 1 0 -3.8 0M1078.7 340.9a1.9 1.9 0 1 0 3.8 0a1.9 1.9 0 1 0 -3.8 0M1078.6 342.9a1.9 1.9 0 1 0 3.8 0a1.9 1.9 0 1 0 -3.8 0M1078.7 344.0a1.9 1.9 0 1 0 3.8 0a1.9 1.9 0 1 0 -3.8 0M1078.9 346.1a1.9 1.9 0 1 0 3.8 0a1.9 1.9 0 1 0 -3.8 0M1078.9 347.9a1.9 1.9 0 1 0 3.8 0a1.9 1.9 0 1 0 -3.8 0M1078.8 350.7a1.9 1.9 0 1 0 3.8 0a1.9 1.9 0 1 0 -3.8 0M1078.9 352.6a1.9 1.9 0 1 0 3.8 0a1.9 1.9 0 1 0 -3.8 0M1078.6 354.3a1.9 1.9 0 1 0 3.8 0a1.9 1.9 0 1 0 -3.8 0M1078.5 355.8a1.9 1.9 0 1 0 3.8 0a1.9 1.9 0 1 0 -3.8 0M1078.7 357.6a1.9 1.9 0 1 0 3.8 0a1.9 1.9 0 1 0 -3.8 0M1081.8 337.1a1.9 1.9 0 1 0 3.8 0a1.9 1.9 0 1 0 -3.8 0M1081.8 339.1a1.9 1.9 0 1 0 3.8 0a1.9 1.9 0 1 0 -3.8 0M1081.3 341.2a1.9 1.9 0 1 0 3.8 0a1.9 1.9 0 1 0 -3.8 0M1081.6 343.6a1.9 1.9 0 1 0 3.8 0a1.9 1.9 0 1 0 -3.8 0M1082.0 345.3a1.9 1.9 0 1 0 3.8 0a1.9 1.9 0 1 0 -3.8 0M1081.6 347.3a1.9 1.9 0 1 0 3.8 0a1.9 1.9 0 1 0 -3.8 0M1081.4 348.5a1.9 1.9 0 1 0 3.8 0a1.9 1.9 0 1 0 -3.8 0M1081.2 350.5a1.9 1.9 0 1 0 3.8 0a1.9 1.9 0 1 0 -3.8 0M1081.2 353.0a1.9 1.9 0 1 0 3.8 0a1.9 1.9 0 1 0 -3.8 0M1081.6 354.5a1.9 1.9 0 1 0 3.8 0a1.9 1.9 0 1 0 -3.8 0M1081.6 356.7a1.9 1.9 0 1 0 3.8 0a1.9 1.9 0 1 0 -3.8 0M1081.8 357.9a1.9 1.9 0 1 0 3.8 0a1.9 1.9 0 1 0 -3.8 0M1081.9 360.3a1.9 1.9 0 1 0 3.8 0a1.9 1.9 0 1 0 -3.8 0M1081.7 362.3a1.9 1.9 0 1 0 3.8 0a1.9 1.9 0 1 0 -3.8 0M1081.9 363.4a1.9 1.9 0 1 0 3.8 0a1.9 1.9 0 1 0 -3.8 0M1081.8 365.8a1.9 1.9 0 1 0 3.8 0a1.9 1.9 0 1 0 -3.8 0M1081.9 367.9a1.9 1.9 0 1 0 3.8 0a1.9 1.9 0 1 0 -3.8 0M1081.3 369.7a1.9 1.9 0 1 0 3.8 0a1.9 1.9 0 1 0 -3.8 0M1082.0 371.2a1.9 1.9 0 1 0 3.8 0a1.9 1.9 0 1 0 -3.8 0M1081.7 373.0a1.9 1.9 0 1 0 3.8 0a1.9 1.9 0 1 0 -3.8 0M1081.2 375.2a1.9 1.9 0 1 0 3.8 0a1.9 1.9 0 1 0 -3.8 0M1081.9 376.9a1.9 1.9 0 1 0 3.8 0a1.9 1.9 0 1 0 -3.8 0M1084.9 351.7a1.9 1.9 0 1 0 3.8 0a1.9 1.9 0 1 0 -3.8 0M1084.8 353.9a1.9 1.9 0 1 0 3.8 0a1.9 1.9 0 1 0 -3.8 0M1084.5 355.6a1.9 1.9 0 1 0 3.8 0a1.9 1.9 0 1 0 -3.8 0M1084.8 358.1a1.9 1.9 0 1 0 3.8 0a1.9 1.9 0 1 0 -3.8 0M1084.5 359.3a1.9 1.9 0 1 0 3.8 0a1.9 1.9 0 1 0 -3.8 0M1084.6 361.4a1.9 1.9 0 1 0 3.8 0a1.9 1.9 0 1 0 -3.8 0M1085.1 363.3a1.9 1.9 0 1 0 3.8 0a1.9 1.9 0 1 0 -3.8 0M1084.3 365.3a1.9 1.9 0 1 0 3.8 0a1.9 1.9 0 1 0 -3.8 0M1084.7 367.3a1.9 1.9 0 1 0 3.8 0a1.9 1.9 0 1 0 -3.8 0M1084.8 369.3a1.9 1.9 0 1 0 3.8 0a1.9 1.9 0 1 0 -3.8 0M1084.8 370.9a1.9 1.9 0 1 0 3.8 0a1.9 1.9 0 1 0 -3.8 0M1084.6 372.3a1.9 1.9 0 1 0 3.8 0a1.9 1.9 0 1 0 -3.8 0M1084.4 375.1a1.9 1.9 0 1 0 3.8 0a1.9 1.9 0 1 0 -3.8 0M1085.1 376.5a1.9 1.9 0 1 0 3.8 0a1.9 1.9 0 1 0 -3.8 0M1084.6 378.4a1.9 1.9 0 1 0 3.8 0a1.9 1.9 0 1 0 -3.8 0M1084.6 380.3a1.9 1.9 0 1 0 3.8 0a1.9 1.9 0 1 0 -3.8 0M1084.8 382.4a1.9 1.9 0 1 0 3.8 0a1.9 1.9 0 1 0 -3.8 0M1084.8 384.5a1.9 1.9 0 1 0 3.8 0a1.9 1.9 0 1 0 -3.8 0M1084.5 385.5a1.9 1.9 0 1 0 3.8 0a1.9 1.9 0 1 0 -3.8 0M1085.1 387.5a1.9 1.9 0 1 0 3.8 0a1.9 1.9 0 1 0 -3.8 0M1084.8 389.9a1.9 1.9 0 1 0 3.8 0a1.9 1.9 0 1 0 -3.8 0M1085.0 391.4a1.9 1.9 0 1 0 3.8 0a1.9 1.9 0 1 0 -3.8 0M1084.8 393.6a1.9 1.9 0 1 0 3.8 0a1.9 1.9 0 1 0 -3.8 0M1088.3 365.0a1.9 1.9 0 1 0 3.8 0a1.9 1.9 0 1 0 -3.8 0M1087.7 366.8a1.9 1.9 0 1 0 3.8 0a1.9 1.9 0 1 0 -3.8 0M1087.8 369.1a1.9 1.9 0 1 0 3.8 0a1.9 1.9 0 1 0 -3.8 0M1088.2 370.5a1.9 1.9 0 1 0 3.8 0a1.9 1.9 0 1 0 -3.8 0M1087.5 372.7a1.9 1.9 0 1 0 3.8 0a1.9 1.9 0 1 0 -3.8 0M1087.5 374.6a1.9 1.9 0 1 0 3.8 0a1.9 1.9 0 1 0 -3.8 0M1087.8 376.3a1.9 1.9 0 1 0 3.8 0a1.9 1.9 0 1 0 -3.8 0M1088.0 378.5a1.9 1.9 0 1 0 3.8 0a1.9 1.9 0 1 0 -3.8 0M1088.0 380.7a1.9 1.9 0 1 0 3.8 0a1.9 1.9 0 1 0 -3.8 0M1088.0 382.2a1.9 1.9 0 1 0 3.8 0a1.9 1.9 0 1 0 -3.8 0M1088.1 383.8a1.9 1.9 0 1 0 3.8 0a1.9 1.9 0 1 0 -3.8 0M1088.3 385.7a1.9 1.9 0 1 0 3.8 0a1.9 1.9 0 1 0 -3.8 0M1087.5 387.6a1.9 1.9 0 1 0 3.8 0a1.9 1.9 0 1 0 -3.8 0M1088.2 389.7a1.9 1.9 0 1 0 3.8 0a1.9 1.9 0 1 0 -3.8 0M1087.6 391.7a1.9 1.9 0 1 0 3.8 0a1.9 1.9 0 1 0 -3.8 0M1088.2 393.6a1.9 1.9 0 1 0 3.8 0a1.9 1.9 0 1 0 -3.8 0M1087.9 395.7a1.9 1.9 0 1 0 3.8 0a1.9 1.9 0 1 0 -3.8 0M1087.7 396.9a1.9 1.9 0 1 0 3.8 0a1.9 1.9 0 1 0 -3.8 0M1087.6 399.2a1.9 1.9 0 1 0 3.8 0a1.9 1.9 0 1 0 -3.8 0M1087.8 401.4a1.9 1.9 0 1 0 3.8 0a1.9 1.9 0 1 0 -3.8 0M1088.1 402.8a1.9 1.9 0 1 0 3.8 0a1.9 1.9 0 1 0 -3.8 0M1087.9 404.7a1.9 1.9 0 1 0 3.8 0a1.9 1.9 0 1 0 -3.8 0M1088.2 406.8a1.9 1.9 0 1 0 3.8 0a1.9 1.9 0 1 0 -3.8 0M1087.9 408.9a1.9 1.9 0 1 0 3.8 0a1.9 1.9 0 1 0 -3.8 0M1088.3 410.7a1.9 1.9 0 1 0 3.8 0a1.9 1.9 0 1 0 -3.8 0M1091.0 389.8a1.9 1.9 0 1 0 3.8 0a1.9 1.9 0 1 0 -3.8 0M1090.6 392.1a1.9 1.9 0 1 0 3.8 0a1.9 1.9 0 1 0 -3.8 0M1091.3 394.3a1.9 1.9 0 1 0 3.8 0a1.9 1.9 0 1 0 -3.8 0M1091.1 395.6a1.9 1.9 0 1 0 3.8 0a1.9 1.9 0 1 0 -3.8 0M1091.0 397.6a1.9 1.9 0 1 0 3.8 0a1.9 1.9 0 1 0 -3.8 0M1090.8 400.2a1.9 1.9 0 1 0 3.8 0a1.9 1.9 0 1 0 -3.8 0M1091.2 401.8a1.9 1.9 0 1 0 3.8 0a1.9 1.9 0 1 0 -3.8 0M1091.0 404.3a1.9 1.9 0 1 0 3.8 0a1.9 1.9 0 1 0 -3.8 0M1091.0 405.8a1.9 1.9 0 1 0 3.8 0a1.9 1.9 0 1 0 -3.8 0M1094.1 393.9a1.9 1.9 0 1 0 3.8 0a1.9 1.9 0 1 0 -3.8 0M1093.9 395.4a1.9 1.9 0 1 0 3.8 0a1.9 1.9 0 1 0 -3.8 0M1093.9 398.1a1.9 1.9 0 1 0 3.8 0a1.9 1.9 0 1 0 -3.8 0M1094.3 399.5a1.9 1.9 0 1 0 3.8 0a1.9 1.9 0 1 0 -3.8 0M1094.4 401.5a1.9 1.9 0 1 0 3.8 0a1.9 1.9 0 1 0 -3.8 0M1094.0 403.2a1.9 1.9 0 1 0 3.8 0a1.9 1.9 0 1 0 -3.8 0M1094.4 405.1a1.9 1.9 0 1 0 3.8 0a1.9 1.9 0 1 0 -3.8 0M1094.1 406.5a1.9 1.9 0 1 0 3.8 0a1.9 1.9 0 1 0 -3.8 0M1094.0 408.8a1.9 1.9 0 1 0 3.8 0a1.9 1.9 0 1 0 -3.8 0M1094.3 410.8a1.9 1.9 0 1 0 3.8 0a1.9 1.9 0 1 0 -3.8 0M1093.8 416.9a1.9 1.9 0 1 0 3.8 0a1.9 1.9 0 1 0 -3.8 0M1093.7 419.0a1.9 1.9 0 1 0 3.8 0a1.9 1.9 0 1 0 -3.8 0M1093.8 420.9a1.9 1.9 0 1 0 3.8 0a1.9 1.9 0 1 0 -3.8 0M1093.8 422.0a1.9 1.9 0 1 0 3.8 0a1.9 1.9 0 1 0 -3.8 0M1094.4 424.4a1.9 1.9 0 1 0 3.8 0a1.9 1.9 0 1 0 -3.8 0M1094.1 425.7a1.9 1.9 0 1 0 3.8 0a1.9 1.9 0 1 0 -3.8 0M1094.1 428.0a1.9 1.9 0 1 0 3.8 0a1.9 1.9 0 1 0 -3.8 0M1094.4 429.4a1.9 1.9 0 1 0 3.8 0a1.9 1.9 0 1 0 -3.8 0M1094.1 431.4a1.9 1.9 0 1 0 3.8 0a1.9 1.9 0 1 0 -3.8 0M1093.8 433.9a1.9 1.9 0 1 0 3.8 0a1.9 1.9 0 1 0 -3.8 0M1097.5 397.7a1.9 1.9 0 1 0 3.8 0a1.9 1.9 0 1 0 -3.8 0M1096.9 400.1a1.9 1.9 0 1 0 3.8 0a1.9 1.9 0 1 0 -3.8 0M1097.2 402.0a1.9 1.9 0 1 0 3.8 0a1.9 1.9 0 1 0 -3.8 0M1097.7 403.9a1.9 1.9 0 1 0 3.8 0a1.9 1.9 0 1 0 -3.8 0M1097.4 406.5a1.9 1.9 0 1 0 3.8 0a1.9 1.9 0 1 0 -3.8 0M1097.7 414.9a1.9 1.9 0 1 0 3.8 0a1.9 1.9 0 1 0 -3.8 0M1097.1 416.4a1.9 1.9 0 1 0 3.8 0a1.9 1.9 0 1 0 -3.8 0M1097.4 418.6a1.9 1.9 0 1 0 3.8 0a1.9 1.9 0 1 0 -3.8 0M1097.7 420.7a1.9 1.9 0 1 0 3.8 0a1.9 1.9 0 1 0 -3.8 0M1097.2 422.8a1.9 1.9 0 1 0 3.8 0a1.9 1.9 0 1 0 -3.8 0M1097.6 424.5a1.9 1.9 0 1 0 3.8 0a1.9 1.9 0 1 0 -3.8 0M1097.0 426.4a1.9 1.9 0 1 0 3.8 0a1.9 1.9 0 1 0 -3.8 0M1096.9 428.1a1.9 1.9 0 1 0 3.8 0a1.9 1.9 0 1 0 -3.8 0M1097.1 430.9a1.9 1.9 0 1 0 3.8 0a1.9 1.9 0 1 0 -3.8 0M1097.1 432.0a1.9 1.9 0 1 0 3.8 0a1.9 1.9 0 1 0 -3.8 0M1097.1 434.0a1.9 1.9 0 1 0 3.8 0a1.9 1.9 0 1 0 -3.8 0M1097.7 436.1a1.9 1.9 0 1 0 3.8 0a1.9 1.9 0 1 0 -3.8 0M1097.5 437.9a1.9 1.9 0 1 0 3.8 0a1.9 1.9 0 1 0 -3.8 0M1097.2 440.3a1.9 1.9 0 1 0 3.8 0a1.9 1.9 0 1 0 -3.8 0M1097.5 441.7a1.9 1.9 0 1 0 3.8 0a1.9 1.9 0 1 0 -3.8 0M1097.5 444.2a1.9 1.9 0 1 0 3.8 0a1.9 1.9 0 1 0 -3.8 0M1097.1 446.4a1.9 1.9 0 1 0 3.8 0a1.9 1.9 0 1 0 -3.8 0M1100.7 413.5a1.9 1.9 0 1 0 3.8 0a1.9 1.9 0 1 0 -3.8 0M1100.2 414.9a1.9 1.9 0 1 0 3.8 0a1.9 1.9 0 1 0 -3.8 0M1100.5 417.4a1.9 1.9 0 1 0 3.8 0a1.9 1.9 0 1 0 -3.8 0M1100.6 419.3a1.9 1.9 0 1 0 3.8 0a1.9 1.9 0 1 0 -3.8 0M1100.0 421.2a1.9 1.9 0 1 0 3.8 0a1.9 1.9 0 1 0 -3.8 0M1100.3 423.3a1.9 1.9 0 1 0 3.8 0a1.9 1.9 0 1 0 -3.8 0M1100.3 425.5a1.9 1.9 0 1 0 3.8 0a1.9 1.9 0 1 0 -3.8 0M1100.1 427.2a1.9 1.9 0 1 0 3.8 0a1.9 1.9 0 1 0 -3.8 0M1100.7 433.6a1.9 1.9 0 1 0 3.8 0a1.9 1.9 0 1 0 -3.8 0M1100.8 435.6a1.9 1.9 0 1 0 3.8 0a1.9 1.9 0 1 0 -3.8 0M1100.6 437.5a1.9 1.9 0 1 0 3.8 0a1.9 1.9 0 1 0 -3.8 0M1100.5 439.4a1.9 1.9 0 1 0 3.8 0a1.9 1.9 0 1 0 -3.8 0M1100.8 441.7a1.9 1.9 0 1 0 3.8 0a1.9 1.9 0 1 0 -3.8 0M1100.1 443.1a1.9 1.9 0 1 0 3.8 0a1.9 1.9 0 1 0 -3.8 0M1100.1 445.4a1.9 1.9 0 1 0 3.8 0a1.9 1.9 0 1 0 -3.8 0M1100.1 447.3a1.9 1.9 0 1 0 3.8 0a1.9 1.9 0 1 0 -3.8 0M1100.8 449.5a1.9 1.9 0 1 0 3.8 0a1.9 1.9 0 1 0 -3.8 0M1100.7 450.9a1.9 1.9 0 1 0 3.8 0a1.9 1.9 0 1 0 -3.8 0M1100.5 453.3a1.9 1.9 0 1 0 3.8 0a1.9 1.9 0 1 0 -3.8 0M1100.4 455.1a1.9 1.9 0 1 0 3.8 0a1.9 1.9 0 1 0 -3.8 0M1100.6 456.8a1.9 1.9 0 1 0 3.8 0a1.9 1.9 0 1 0 -3.8 0M1100.3 458.5a1.9 1.9 0 1 0 3.8 0a1.9 1.9 0 1 0 -3.8 0M1103.4 407.0a1.9 1.9 0 1 0 3.8 0a1.9 1.9 0 1 0 -3.8 0M1103.8 408.5a1.9 1.9 0 1 0 3.8 0a1.9 1.9 0 1 0 -3.8 0M1103.6 410.2a1.9 1.9 0 1 0 3.8 0a1.9 1.9 0 1 0 -3.8 0M1103.4 412.3a1.9 1.9 0 1 0 3.8 0a1.9 1.9 0 1 0 -3.8 0M1104.0 414.6a1.9 1.9 0 1 0 3.8 0a1.9 1.9 0 1 0 -3.8 0M1103.8 415.8a1.9 1.9 0 1 0 3.8 0a1.9 1.9 0 1 0 -3.8 0M1103.6 417.9a1.9 1.9 0 1 0 3.8 0a1.9 1.9 0 1 0 -3.8 0M1104.0 420.4a1.9 1.9 0 1 0 3.8 0a1.9 1.9 0 1 0 -3.8 0M1103.8 421.6a1.9 1.9 0 1 0 3.8 0a1.9 1.9 0 1 0 -3.8 0M1103.7 424.0a1.9 1.9 0 1 0 3.8 0a1.9 1.9 0 1 0 -3.8 0M1103.4 425.5a1.9 1.9 0 1 0 3.8 0a1.9 1.9 0 1 0 -3.8 0M1103.5 427.5a1.9 1.9 0 1 0 3.8 0a1.9 1.9 0 1 0 -3.8 0M1103.8 429.5a1.9 1.9 0 1 0 3.8 0a1.9 1.9 0 1 0 -3.8 0M1104.0 431.8a1.9 1.9 0 1 0 3.8 0a1.9 1.9 0 1 0 -3.8 0M1103.5 437.9a1.9 1.9 0 1 0 3.8 0a1.9 1.9 0 1 0 -3.8 0M1103.5 439.5a1.9 1.9 0 1 0 3.8 0a1.9 1.9 0 1 0 -3.8 0M1103.9 441.4a1.9 1.9 0 1 0 3.8 0a1.9 1.9 0 1 0 -3.8 0M1103.9 444.2a1.9 1.9 0 1 0 3.8 0a1.9 1.9 0 1 0 -3.8 0M1103.8 445.8a1.9 1.9 0 1 0 3.8 0a1.9 1.9 0 1 0 -3.8 0M1103.8 447.3a1.9 1.9 0 1 0 3.8 0a1.9 1.9 0 1 0 -3.8 0M1103.2 449.9a1.9 1.9 0 1 0 3.8 0a1.9 1.9 0 1 0 -3.8 0M1103.2 451.2a1.9 1.9 0 1 0 3.8 0a1.9 1.9 0 1 0 -3.8 0M1103.2 453.7a1.9 1.9 0 1 0 3.8 0a1.9 1.9 0 1 0 -3.8 0M1103.9 455.2a1.9 1.9 0 1 0 3.8 0a1.9 1.9 0 1 0 -3.8 0M1103.5 457.3a1.9 1.9 0 1 0 3.8 0a1.9 1.9 0 1 0 -3.8 0M1103.9 459.3a1.9 1.9 0 1 0 3.8 0a1.9 1.9 0 1 0 -3.8 0M1103.5 461.5a1.9 1.9 0 1 0 3.8 0a1.9 1.9 0 1 0 -3.8 0M1103.3 463.5a1.9 1.9 0 1 0 3.8 0a1.9 1.9 0 1 0 -3.8 0M1103.8 464.8a1.9 1.9 0 1 0 3.8 0a1.9 1.9 0 1 0 -3.8 0M1103.4 467.5a1.9 1.9 0 1 0 3.8 0a1.9 1.9 0 1 0 -3.8 0M1103.2 469.2a1.9 1.9 0 1 0 3.8 0a1.9 1.9 0 1 0 -3.8 0" fill="#0a0a0a"/>
<path d="M1094.1 381.3a1.8800000000000001 1.8800000000000001 0 1 0 3.7600000000000002 0a1.8800000000000001 1.8800000000000001 0 1 0 -3.7600000000000002 0" fill="#0a0a0a"/>
<path d="M883.1 57.6a2.08 2.08 0 1 0 4.16 0a2.08 2.08 0 1 0 -4.16 0M864.2 74.5a2.08 2.08 0 1 0 4.16 0a2.08 2.08 0 1 0 -4.16 0M889.4 90.7a2.08 2.08 0 1 0 4.16 0a2.08 2.08 0 1 0 -4.16 0M844.9 73.7a2.08 2.08 0 1 0 4.16 0a2.08 2.08 0 1 0 -4.16 0M846.5 76.2a2.08 2.08 0 1 0 4.16 0a2.08 2.08 0 1 0 -4.16 0M848.9 78.2a2.08 2.08 0 1 0 4.16 0a2.08 2.08 0 1 0 -4.16 0M851.9 79.2a2.08 2.08 0 1 0 4.16 0a2.08 2.08 0 1 0 -4.16 0M848.5 85.2a2.08 2.08 0 1 0 4.16 0a2.08 2.08 0 1 0 -4.16 0M855.0 85.7a2.08 2.08 0 1 0 4.16 0a2.08 2.08 0 1 0 -4.16 0M841.9 93.3a2.08 2.08 0 1 0 4.16 0a2.08 2.08 0 1 0 -4.16 0M846.9 91.3a2.08 2.08 0 1 0 4.16 0a2.08 2.08 0 1 0 -4.16 0M848.9 94.3a2.08 2.08 0 1 0 4.16 0a2.08 2.08 0 1 0 -4.16 0M851.9 96.3a2.08 2.08 0 1 0 4.16 0a2.08 2.08 0 1 0 -4.16 0M842.4 97.8a2.08 2.08 0 1 0 4.16 0a2.08 2.08 0 1 0 -4.16 0M861.0 94.8a2.08 2.08 0 1 0 4.16 0a2.08 2.08 0 1 0 -4.16 0M842.9 117.4a2.08 2.08 0 1 0 4.16 0a2.08 2.08 0 1 0 -4.16 0M846.4 117.0a2.08 2.08 0 1 0 4.16 0a2.08 2.08 0 1 0 -4.16 0M845.4 132.2a2.08 2.08 0 1 0 4.16 0a2.08 2.08 0 1 0 -4.16 0M842.4 149.5a2.08 2.08 0 1 0 4.16 0a2.08 2.08 0 1 0 -4.16 0M892.6 110.6a2.08 2.08 0 1 0 4.16 0a2.08 2.08 0 1 0 -4.16 0M886.1 122.4a2.08 2.08 0 1 0 4.16 0a2.08 2.08 0 1 0 -4.16 0M879.9 148.8a2.08 2.08 0 1 0 4.16 0a2.08 2.08 0 1 0 -4.16 0M899.0 103.0a2.08 2.08 0 1 0 4.16 0a2.08 2.08 0 1 0 -4.16 0M895.2 120.4a2.08 2.08 0 1 0 4.16 0a2.08 2.08 0 1 0 -4.16 0M902.2 120.4a2.08 2.08 0 1 0 4.16 0a2.08 2.08 0 1 0 -4.16 0M902.5 123.5a2.08 2.08 0 1 0 4.16 0a2.08 2.08 0 1 0 -4.16 0M843.4 154.5a2.08 2.08 0 1 0 4.16 0a2.08 2.08 0 1 0 -4.16 0M846.4 154.5a2.08 2.08 0 1 0 4.16 0a2.08 2.08 0 1 0 -4.16 0M841.9 164.0a2.08 2.08 0 1 0 4.16 0a2.08 2.08 0 1 0 -4.16 0M841.9 170.0a2.08 2.08 0 1 0 4.16 0a2.08 2.08 0 1 0 -4.16 0M864.0 166.0a2.08 2.08 0 1 0 4.16 0a2.08 2.08 0 1 0 -4.16 0M868.0 169.0a2.08 2.08 0 1 0 4.16 0a2.08 2.08 0 1 0 -4.16 0M871.1 170.0a2.08 2.08 0 1 0 4.16 0a2.08 2.08 0 1 0 -4.16 0M866.4 171.5a2.08 2.08 0 1 0 4.16 0a2.08 2.08 0 1 0 -4.16 0M845.4 177.6a2.08 2.08 0 1 0 4.16 0a2.08 2.08 0 1 0 -4.16 0M851.8 177.6a2.08 2.08 0 1 0 4.16 0a2.08 2.08 0 1 0 -4.16 0M864.0 180.1a2.08 2.08 0 1 0 4.16 0a2.08 2.08 0 1 0 -4.16 0M861.0 185.0a2.08 2.08 0 1 0 4.16 0a2.08 2.08 0 1 0 -4.16 0M845.4 186.2a2.08 2.08 0 1 0 4.16 0a2.08 2.08 0 1 0 -4.16 0M848.5 191.2a2.08 2.08 0 1 0 4.16 0a2.08 2.08 0 1 0 -4.16 0M848.0 198.2a2.08 2.08 0 1 0 4.16 0a2.08 2.08 0 1 0 -4.16 0M851.5 199.7a2.08 2.08 0 1 0 4.16 0a2.08 2.08 0 1 0 -4.16 0M861.0 197.2a2.08 2.08 0 1 0 4.16 0a2.08 2.08 0 1 0 -4.16 0M844.4 211.0a2.08 2.08 0 1 0 4.16 0a2.08 2.08 0 1 0 -4.16 0M848.4 210.5a2.08 2.08 0 1 0 4.16 0a2.08 2.08 0 1 0 -4.16 0M851.9 211.5a2.08 2.08 0 1 0 4.16 0a2.08 2.08 0 1 0 -4.16 0M845.4 214.0a2.08 2.08 0 1 0 4.16 0a2.08 2.08 0 1 0 -4.16 0M848.5 219.3a2.08 2.08 0 1 0 4.16 0a2.08 2.08 0 1 0 -4.16 0M851.9 216.3a2.08 2.08 0 1 0 4.16 0a2.08 2.08 0 1 0 -4.16 0M855.5 217.3a2.08 2.08 0 1 0 4.16 0a2.08 2.08 0 1 0 -4.16 0M858.5 217.8a2.08 2.08 0 1 0 4.16 0a2.08 2.08 0 1 0 -4.16 0M886.1 213.3a2.08 2.08 0 1 0 4.16 0a2.08 2.08 0 1 0 -4.16 0M889.6 215.3a2.08 2.08 0 1 0 4.16 0a2.08 2.08 0 1 0 -4.16 0M886.1 244.9a2.08 2.08 0 1 0 4.16 0a2.08 2.08 0 1 0 -4.16 0M889.6 251.4a2.08 2.08 0 1 0 4.16 0a2.08 2.08 0 1 0 -4.16 0M886.1 258.0a2.08 2.08 0 1 0 4.16 0a2.08 2.08 0 1 0 -4.16 0M873.9 257.7a2.08 2.08 0 1 0 4.16 0a2.08 2.08 0 1 0 -4.16 0M858.0 290.6a2.08 2.08 0 1 0 4.16 0a2.08 2.08 0 1 0 -4.16 0M873.6 286.6a2.08 2.08 0 1 0 4.16 0a2.08 2.08 0 1 0 -4.16 0M848.5 316.2a2.08 2.08 0 1 0 4.16 0a2.08 2.08 0 1 0 -4.16 0M845.9 321.2a2.08 2.08 0 1 0 4.16 0a2.08 2.08 0 1 0 -4.16 0M848.9 322.2a2.08 2.08 0 1 0 4.16 0a2.08 2.08 0 1 0 -4.16 0M851.9 324.2a2.08 2.08 0 1 0 4.16 0a2.08 2.08 0 1 0 -4.16 0M844.9 328.2a2.08 2.08 0 1 0 4.16 0a2.08 2.08 0 1 0 -4.16 0M848.9 329.2a2.08 2.08 0 1 0 4.16 0a2.08 2.08 0 1 0 -4.16 0M851.9 330.7a2.08 2.08 0 1 0 4.16 0a2.08 2.08 0 1 0 -4.16 0M844.9 334.2a2.08 2.08 0 1 0 4.16 0a2.08 2.08 0 1 0 -4.16 0M848.9 333.2a2.08 2.08 0 1 0 4.16 0a2.08 2.08 0 1 0 -4.16 0M852.4 333.8a2.08 2.08 0 1 0 4.16 0a2.08 2.08 0 1 0 -4.16 0M856.5 320.2a2.08 2.08 0 1 0 4.16 0a2.08 2.08 0 1 0 -4.16 0M858.5 320.7a2.08 2.08 0 1 0 4.16 0a2.08 2.08 0 1 0 -4.16 0M867.5 340.0a2.08 2.08 0 1 0 4.16 0a2.08 2.08 0 1 0 -4.16 0M851.5 344.3a2.08 2.08 0 1 0 4.16 0a2.08 2.08 0 1 0 -4.16 0M848.5 357.9a2.08 2.08 0 1 0 4.16 0a2.08 2.08 0 1 0 -4.16 0M851.8 366.4a2.08 2.08 0 1 0 4.16 0a2.08 2.08 0 1 0 -4.16 0M848.5 371.4a2.08 2.08 0 1 0 4.16 0a2.08 2.08 0 1 0 -4.16 0M861.0 348.3a2.08 2.08 0 1 0 4.16 0a2.08 2.08 0 1 0 -4.16 0M864.0 355.9a2.08 2.08 0 1 0 4.16 0a2.08 2.08 0 1 0 -4.16 0M861.5 358.9a2.08 2.08 0 1 0 4.16 0a2.08 2.08 0 1 0 -4.16 0M889.6 339.3a2.08 2.08 0 1 0 4.16 0a2.08 2.08 0 1 0 -4.16 0M893.1 345.3a2.08 2.08 0 1 0 4.16 0a2.08 2.08 0 1 0 -4.16 0M864.5 389.0a2.08 2.08 0 1 0 4.16 0a2.08 2.08 0 1 0 -4.16 0M876.6 387.0a2.08 2.08 0 1 0 4.16 0a2.08 2.08 0 1 0 -4.16 0M858.2 392.3a2.08 2.08 0 1 0 4.16 0a2.08 2.08 0 1 0 -4.16 0M867.4 410.3a2.08 2.08 0 1 0 4.16 0a2.08 2.08 0 1 0 -4.16 0M882.9 409.4a2.08 2.08 0 1 0 4.16 0a2.08 2.08 0 1 0 -4.16 0M892.4 418.5a2.08 2.08 0 1 0 4.16 0a2.08 2.08 0 1 0 -4.16 0M886.3 424.5a2.08 2.08 0 1 0 4.16 0a2.08 2.08 0 1 0 -4.16 0M898.2 426.0a2.08 2.08 0 1 0 4.16 0a2.08 2.08 0 1 0 -4.16 0M895.6 440.3a2.08 2.08 0 1 0 4.16 0a2.08 2.08 0 1 0 -4.16 0M851.6 448.5a2.08 2.08 0 1 0 4.16 0a2.08 2.08 0 1 0 -4.16 0M860.8 449.8a2.08 2.08 0 1 0 4.16 0a2.08 2.08 0 1 0 -4.16 0M858.2 452.4a2.08 2.08 0 1 0 4.16 0a2.08 2.08 0 1 0 -4.16 0M857.9 454.5a2.08 2.08 0 1 0 4.16 0a2.08 2.08 0 1 0 -4.16 0M851.3 464.6a2.08 2.08 0 1 0 4.16 0a2.08 2.08 0 1 0 -4.16 0M848.1 467.7a2.08 2.08 0 1 0 4.16 0a2.08 2.08 0 1 0 -4.16 0M849.7 466.0a2.08 2.08 0 1 0 4.16 0a2.08 2.08 0 1 0 -4.16 0M864.3 464.6a2.08 2.08 0 1 0 4.16 0a2.08 2.08 0 1 0 -4.16 0M879.8 473.3a2.08 2.08 0 1 0 4.16 0a2.08 2.08 0 1 0 -4.16 0" fill="#0a0a0a"/>
<path d="M933.4 36.8a1.98 1.98 0 1 0 3.96 0a1.98 1.98 0 1 0 -3.96 0M930.4 44.6a1.98 1.98 0 1 0 3.96 0a1.98 1.98 0 1 0 -3.96 0M927.4 52.6a1.98 1.98 0 1 0 3.96 0a1.98 1.98 0 1 0 -3.96 0M924.2 60.6a1.98 1.98 0 1 0 3.96 0a1.98 1.98 0 1 0 -3.96 0M921.0 69.0a1.98 1.98 0 1 0 3.96 0a1.98 1.98 0 1 0 -3.96 0M918.0 77.4a1.98 1.98 0 1 0 3.96 0a1.98 1.98 0 1 0 -3.96 0M914.8 86.0a1.98 1.98 0 1 0 3.96 0a1.98 1.98 0 1 0 -3.96 0M911.7 94.8a1.98 1.98 0 1 0 3.96 0a1.98 1.98 0 1 0 -3.96 0M908.5 103.5a1.98 1.98 0 1 0 3.96 0a1.98 1.98 0 1 0 -3.96 0M905.3 112.0a1.98 1.98 0 1 0 3.96 0a1.98 1.98 0 1 0 -3.96 0M905.5 432.4a1.98 1.98 0 1 0 3.96 0a1.98 1.98 0 1 0 -3.96 0M908.7 440.8a1.98 1.98 0 1 0 3.96 0a1.98 1.98 0 1 0 -3.96 0M911.7 449.8a1.98 1.98 0 1 0 3.96 0a1.98 1.98 0 1 0 -3.96 0M914.8 458.8a1.98 1.98 0 1 0 3.96 0a1.98 1.98 0 1 0 -3.96 0M917.9 467.4a1.98 1.98 0 1 0 3.96 0a1.98 1.98 0 1 0 -3.96 0M921.1 475.8a1.98 1.98 0 1 0 3.96 0a1.98 1.98 0 1 0 -3.96 0M924.3 484.1a1.98 1.98 0 1 0 3.96 0a1.98 1.98 0 1 0 -3.96 0M927.4 492.0a1.98 1.98 0 1 0 3.96 0a1.98 1.98 0 1 0 -3.96 0M930.6 499.9a1.98 1.98 0 1 0 3.96 0a1.98 1.98 0 1 0 -3.96 0M933.7 507.6a1.98 1.98 0 1 0 3.96 0a1.98 1.98 0 1 0 -3.96 0" fill="#0a0a0a"/>
<path d="M877.4 82.8a1.85 1.85 0 1 0 3.7 0a1.85 1.85 0 1 0 -3.7 0M876.9 84.9a1.85 1.85 0 1 0 3.7 0a1.85 1.85 0 1 0 -3.7 0M877.3 86.6a1.85 1.85 0 1 0 3.7 0a1.85 1.85 0 1 0 -3.7 0M877.5 88.9a1.85 1.85 0 1 0 3.7 0a1.85 1.85 0 1 0 -3.7 0M858.5 90.5a1.85 1.85 0 1 0 3.7 0a1.85 1.85 0 1 0 -3.7 0M858.2 92.5a1.85 1.85 0 1 0 3.7 0a1.85 1.85 0 1 0 -3.7 0M858.4 95.4a1.85 1.85 0 1 0 3.7 0a1.85 1.85 0 1 0 -3.7 0M858.1 97.5a1.85 1.85 0 1 0 3.7 0a1.85 1.85 0 1 0 -3.7 0M858.5 100.2a1.85 1.85 0 1 0 3.7 0a1.85 1.85 0 1 0 -3.7 0M858.0 101.6a1.85 1.85 0 1 0 3.7 0a1.85 1.85 0 1 0 -3.7 0M886.3 104.7a1.85 1.85 0 1 0 3.7 0a1.85 1.85 0 1 0 -3.7 0M886.6 107.1a1.85 1.85 0 1 0 3.7 0a1.85 1.85 0 1 0 -3.7 0M886.6 109.6a1.85 1.85 0 1 0 3.7 0a1.85 1.85 0 1 0 -3.7 0M888.9 112.6a1.85 1.85 0 1 0 3.7 0a1.85 1.85 0 1 0 -3.7 0M888.8 114.9a1.85 1.85 0 1 0 3.7 0a1.85 1.85 0 1 0 -3.7 0M888.9 117.4a1.85 1.85 0 1 0 3.7 0a1.85 1.85 0 1 0 -3.7 0M889.1 120.6a1.85 1.85 0 1 0 3.7 0a1.85 1.85 0 1 0 -3.7 0M888.9 125.0a1.85 1.85 0 1 0 3.7 0a1.85 1.85 0 1 0 -3.7 0M888.5 127.8a1.85 1.85 0 1 0 3.7 0a1.85 1.85 0 1 0 -3.7 0M888.6 130.5a1.85 1.85 0 1 0 3.7 0a1.85 1.85 0 1 0 -3.7 0M888.5 133.3a1.85 1.85 0 1 0 3.7 0a1.85 1.85 0 1 0 -3.7 0M888.4 136.2a1.85 1.85 0 1 0 3.7 0a1.85 1.85 0 1 0 -3.7 0M888.8 138.7a1.85 1.85 0 1 0 3.7 0a1.85 1.85 0 1 0 -3.7 0M888.4 141.0a1.85 1.85 0 1 0 3.7 0a1.85 1.85 0 1 0 -3.7 0M889.2 144.0a1.85 1.85 0 1 0 3.7 0a1.85 1.85 0 1 0 -3.7 0M888.5 146.5a1.85 1.85 0 1 0 3.7 0a1.85 1.85 0 1 0 -3.7 0M889.1 149.3a1.85 1.85 0 1 0 3.7 0a1.85 1.85 0 1 0 -3.7 0M888.6 151.1a1.85 1.85 0 1 0 3.7 0a1.85 1.85 0 1 0 -3.7 0M886.8 127.9a1.85 1.85 0 1 0 3.7 0a1.85 1.85 0 1 0 -3.7 0M886.6 130.2a1.85 1.85 0 1 0 3.7 0a1.85 1.85 0 1 0 -3.7 0M886.5 133.3a1.85 1.85 0 1 0 3.7 0a1.85 1.85 0 1 0 -3.7 0M887.1 135.6a1.85 1.85 0 1 0 3.7 0a1.85 1.85 0 1 0 -3.7 0M886.5 137.3a1.85 1.85 0 1 0 3.7 0a1.85 1.85 0 1 0 -3.7 0M887.0 140.2a1.85 1.85 0 1 0 3.7 0a1.85 1.85 0 1 0 -3.7 0M886.3 142.3a1.85 1.85 0 1 0 3.7 0a1.85 1.85 0 1 0 -3.7 0M886.7 145.1a1.85 1.85 0 1 0 3.7 0a1.85 1.85 0 1 0 -3.7 0M886.9 147.1a1.85 1.85 0 1 0 3.7 0a1.85 1.85 0 1 0 -3.7 0M886.2 149.6a1.85 1.85 0 1 0 3.7 0a1.85 1.85 0 1 0 -3.7 0M858.6 162.0a1.85 1.85 0 1 0 3.7 0a1.85 1.85 0 1 0 -3.7 0M857.9 164.4a1.85 1.85 0 1 0 3.7 0a1.85 1.85 0 1 0 -3.7 0M858.3 166.5a1.85 1.85 0 1 0 3.7 0a1.85 1.85 0 1 0 -3.7 0M858.4 168.6a1.85 1.85 0 1 0 3.7 0a1.85 1.85 0 1 0 -3.7 0M858.4 175.4a1.85 1.85 0 1 0 3.7 0a1.85 1.85 0 1 0 -3.7 0M858.1 177.7a1.85 1.85 0 1 0 3.7 0a1.85 1.85 0 1 0 -3.7 0M858.0 180.7a1.85 1.85 0 1 0 3.7 0a1.85 1.85 0 1 0 -3.7 0M858.0 182.5a1.85 1.85 0 1 0 3.7 0a1.85 1.85 0 1 0 -3.7 0M858.2 185.1a1.85 1.85 0 1 0 3.7 0a1.85 1.85 0 1 0 -3.7 0M858.1 187.3a1.85 1.85 0 1 0 3.7 0a1.85 1.85 0 1 0 -3.7 0M858.5 190.0a1.85 1.85 0 1 0 3.7 0a1.85 1.85 0 1 0 -3.7 0M857.9 195.6a1.85 1.85 0 1 0 3.7 0a1.85 1.85 0 1 0 -3.7 0M857.9 197.7a1.85 1.85 0 1 0 3.7 0a1.85 1.85 0 1 0 -3.7 0M858.3 200.4a1.85 1.85 0 1 0 3.7 0a1.85 1.85 0 1 0 -3.7 0M858.0 203.4a1.85 1.85 0 1 0 3.7 0a1.85 1.85 0 1 0 -3.7 0M857.9 205.4a1.85 1.85 0 1 0 3.7 0a1.85 1.85 0 1 0 -3.7 0M858.2 207.9a1.85 1.85 0 1 0 3.7 0a1.85 1.85 0 1 0 -3.7 0M846.8 226.8a1.85 1.85 0 1 0 3.7 0a1.85 1.85 0 1 0 -3.7 0M846.4 229.0a1.85 1.85 0 1 0 3.7 0a1.85 1.85 0 1 0 -3.7 0M846.5 231.3a1.85 1.85 0 1 0 3.7 0a1.85 1.85 0 1 0 -3.7 0M846.5 234.3a1.85 1.85 0 1 0 3.7 0a1.85 1.85 0 1 0 -3.7 0M847.0 236.9a1.85 1.85 0 1 0 3.7 0a1.85 1.85 0 1 0 -3.7 0M846.6 239.2a1.85 1.85 0 1 0 3.7 0a1.85 1.85 0 1 0 -3.7 0M846.8 241.5a1.85 1.85 0 1 0 3.7 0a1.85 1.85 0 1 0 -3.7 0M847.1 243.9a1.85 1.85 0 1 0 3.7 0a1.85 1.85 0 1 0 -3.7 0M846.4 245.9a1.85 1.85 0 1 0 3.7 0a1.85 1.85 0 1 0 -3.7 0M849.7 226.2a1.85 1.85 0 1 0 3.7 0a1.85 1.85 0 1 0 -3.7 0M849.5 228.5a1.85 1.85 0 1 0 3.7 0a1.85 1.85 0 1 0 -3.7 0M849.6 231.1a1.85 1.85 0 1 0 3.7 0a1.85 1.85 0 1 0 -3.7 0M849.2 233.1a1.85 1.85 0 1 0 3.7 0a1.85 1.85 0 1 0 -3.7 0M850.0 235.3a1.85 1.85 0 1 0 3.7 0a1.85 1.85 0 1 0 -3.7 0M849.4 238.7a1.85 1.85 0 1 0 3.7 0a1.85 1.85 0 1 0 -3.7 0M850.1 240.6a1.85 1.85 0 1 0 3.7 0a1.85 1.85 0 1 0 -3.7 0M849.3 242.9a1.85 1.85 0 1 0 3.7 0a1.85 1.85 0 1 0 -3.7 0M850.1 245.5a1.85 1.85 0 1 0 3.7 0a1.85 1.85 0 1 0 -3.7 0M850.1 248.0a1.85 1.85 0 1 0 3.7 0a1.85 1.85 0 1 0 -3.7 0M851.7 231.9a1.85 1.85 0 1 0 3.7 0a1.85 1.85 0 1 0 -3.7 0M851.8 234.2a1.85 1.85 0 1 0 3.7 0a1.85 1.85 0 1 0 -3.7 0M851.8 237.4a1.85 1.85 0 1 0 3.7 0a1.85 1.85 0 1 0 -3.7 0M852.2 239.1a1.85 1.85 0 1 0 3.7 0a1.85 1.85 0 1 0 -3.7 0M852.0 241.8a1.85 1.85 0 1 0 3.7 0a1.85 1.85 0 1 0 -3.7 0M851.9 244.6a1.85 1.85 0 1 0 3.7 0a1.85 1.85 0 1 0 -3.7 0M852.3 247.0a1.85 1.85 0 1 0 3.7 0a1.85 1.85 0 1 0 -3.7 0M844.0 236.4a1.85 1.85 0 1 0 3.7 0a1.85 1.85 0 1 0 -3.7 0M844.4 239.1a1.85 1.85 0 1 0 3.7 0a1.85 1.85 0 1 0 -3.7 0M844.1 241.6a1.85 1.85 0 1 0 3.7 0a1.85 1.85 0 1 0 -3.7 0M844.5 244.1a1.85 1.85 0 1 0 3.7 0a1.85 1.85 0 1 0 -3.7 0M843.7 245.9a1.85 1.85 0 1 0 3.7 0a1.85 1.85 0 1 0 -3.7 0M844.3 249.3a1.85 1.85 0 1 0 3.7 0a1.85 1.85 0 1 0 -3.7 0M843.9 251.6a1.85 1.85 0 1 0 3.7 0a1.85 1.85 0 1 0 -3.7 0M843.9 253.9a1.85 1.85 0 1 0 3.7 0a1.85 1.85 0 1 0 -3.7 0M844.5 257.2a1.85 1.85 0 1 0 3.7 0a1.85 1.85 0 1 0 -3.7 0M844.4 259.4a1.85 1.85 0 1 0 3.7 0a1.85 1.85 0 1 0 -3.7 0M844.5 262.1a1.85 1.85 0 1 0 3.7 0a1.85 1.85 0 1 0 -3.7 0M842.1 248.0a1.85 1.85 0 1 0 3.7 0a1.85 1.85 0 1 0 -3.7 0M842.0 250.1a1.85 1.85 0 1 0 3.7 0a1.85 1.85 0 1 0 -3.7 0M841.6 253.4a1.85 1.85 0 1 0 3.7 0a1.85 1.85 0 1 0 -3.7 0M841.9 255.2a1.85 1.85 0 1 0 3.7 0a1.85 1.85 0 1 0 -3.7 0M842.1 257.9a1.85 1.85 0 1 0 3.7 0a1.85 1.85 0 1 0 -3.7 0M841.5 260.3a1.85 1.85 0 1 0 3.7 0a1.85 1.85 0 1 0 -3.7 0M841.8 262.3a1.85 1.85 0 1 0 3.7 0a1.85 1.85 0 1 0 -3.7 0M842.0 265.1a1.85 1.85 0 1 0 3.7 0a1.85 1.85 0 1 0 -3.7 0M841.2 267.8a1.85 1.85 0 1 0 3.7 0a1.85 1.85 0 1 0 -3.7 0M841.6 269.9a1.85 1.85 0 1 0 3.7 0a1.85 1.85 0 1 0 -3.7 0M841.3 272.3a1.85 1.85 0 1 0 3.7 0a1.85 1.85 0 1 0 -3.7 0M841.7 274.5a1.85 1.85 0 1 0 3.7 0a1.85 1.85 0 1 0 -3.7 0M841.2 277.0a1.85 1.85 0 1 0 3.7 0a1.85 1.85 0 1 0 -3.7 0M841.9 279.6a1.85 1.85 0 1 0 3.7 0a1.85 1.85 0 1 0 -3.7 0M841.9 281.8a1.85 1.85 0 1 0 3.7 0a1.85 1.85 0 1 0 -3.7 0M841.7 284.5a1.85 1.85 0 1 0 3.7 0a1.85 1.85 0 1 0 -3.7 0M841.7 287.4a1.85 1.85 0 1 0 3.7 0a1.85 1.85 0 1 0 -3.7 0M841.9 290.0a1.85 1.85 0 1 0 3.7 0a1.85 1.85 0 1 0 -3.7 0M842.0 292.2a1.85 1.85 0 1 0 3.7 0a1.85 1.85 0 1 0 -3.7 0M845.1 249.8a1.85 1.85 0 1 0 3.7 0a1.85 1.85 0 1 0 -3.7 0M844.3 252.3a1.85 1.85 0 1 0 3.7 0a1.85 1.85 0 1 0 -3.7 0M844.4 254.8a1.85 1.85 0 1 0 3.7 0a1.85 1.85 0 1 0 -3.7 0M844.8 257.5a1.85 1.85 0 1 0 3.7 0a1.85 1.85 0 1 0 -3.7 0M844.5 259.5a1.85 1.85 0 1 0 3.7 0a1.85 1.85 0 1 0 -3.7 0M844.4 262.1a1.85 1.85 0 1 0 3.7 0a1.85 1.85 0 1 0 -3.7 0M844.6 265.3a1.85 1.85 0 1 0 3.7 0a1.85 1.85 0 1 0 -3.7 0M844.3 267.9a1.85 1.85 0 1 0 3.7 0a1.85 1.85 0 1 0 -3.7 0M844.9 270.3a1.85 1.85 0 1 0 3.7 0a1.85 1.85 0 1 0 -3.7 0M843.7 271.6a1.85 1.85 0 1 0 3.7 0a1.85 1.85 0 1 0 -3.7 0M843.6 274.6a1.85 1.85 0 1 0 3.7 0a1.85 1.85 0 1 0 -3.7 0M843.8 277.7a1.85 1.85 0 1 0 3.7 0a1.85 1.85 0 1 0 -3.7 0M843.8 280.0a1.85 1.85 0 1 0 3.7 0a1.85 1.85 0 1 0 -3.7 0M843.9 282.8a1.85 1.85 0 1 0 3.7 0a1.85 1.85 0 1 0 -3.7 0M843.3 285.6a1.85 1.85 0 1 0 3.7 0a1.85 1.85 0 1 0 -3.7 0M843.4 287.4a1.85 1.85 0 1 0 3.7 0a1.85 1.85 0 1 0 -3.7 0M843.6 290.2a1.85 1.85 0 1 0 3.7 0a1.85 1.85 0 1 0 -3.7 0M844.1 293.4a1.85 1.85 0 1 0 3.7 0a1.85 1.85 0 1 0 -3.7 0M846.0 291.8a1.85 1.85 0 1 0 3.7 0a1.85 1.85 0 1 0 -3.7 0M846.0 294.5a1.85 1.85 0 1 0 3.7 0a1.85 1.85 0 1 0 -3.7 0M846.0 297.0a1.85 1.85 0 1 0 3.7 0a1.85 1.85 0 1 0 -3.7 0M845.8 300.1a1.85 1.85 0 1 0 3.7 0a1.85 1.85 0 1 0 -3.7 0M845.9 302.2a1.85 1.85 0 1 0 3.7 0a1.85 1.85 0 1 0 -3.7 0M846.6 305.2a1.85 1.85 0 1 0 3.7 0a1.85 1.85 0 1 0 -3.7 0M846.5 307.9a1.85 1.85 0 1 0 3.7 0a1.85 1.85 0 1 0 -3.7 0M845.9 309.5a1.85 1.85 0 1 0 3.7 0a1.85 1.85 0 1 0 -3.7 0M848.7 293.1a1.85 1.85 0 1 0 3.7 0a1.85 1.85 0 1 0 -3.7 0M849.2 295.5a1.85 1.85 0 1 0 3.7 0a1.85 1.85 0 1 0 -3.7 0M849.5 297.5a1.85 1.85 0 1 0 3.7 0a1.85 1.85 0 1 0 -3.7 0M849.0 300.2a1.85 1.85 0 1 0 3.7 0a1.85 1.85 0 1 0 -3.7 0M848.8 302.4a1.85 1.85 0 1 0 3.7 0a1.85 1.85 0 1 0 -3.7 0M849.5 305.3a1.85 1.85 0 1 0 3.7 0a1.85 1.85 0 1 0 -3.7 0M849.5 307.2a1.85 1.85 0 1 0 3.7 0a1.85 1.85 0 1 0 -3.7 0M849.4 310.0a1.85 1.85 0 1 0 3.7 0a1.85 1.85 0 1 0 -3.7 0M848.9 311.8a1.85 1.85 0 1 0 3.7 0a1.85 1.85 0 1 0 -3.7 0M852.3 295.3a1.85 1.85 0 1 0 3.7 0a1.85 1.85 0 1 0 -3.7 0M852.1 297.8a1.85 1.85 0 1 0 3.7 0a1.85 1.85 0 1 0 -3.7 0M852.3 300.6a1.85 1.85 0 1 0 3.7 0a1.85 1.85 0 1 0 -3.7 0M852.4 302.3a1.85 1.85 0 1 0 3.7 0a1.85 1.85 0 1 0 -3.7 0M852.4 305.4a1.85 1.85 0 1 0 3.7 0a1.85 1.85 0 1 0 -3.7 0M851.8 308.2a1.85 1.85 0 1 0 3.7 0a1.85 1.85 0 1 0 -3.7 0M858.5 235.3a1.85 1.85 0 1 0 3.7 0a1.85 1.85 0 1 0 -3.7 0M858.2 238.2a1.85 1.85 0 1 0 3.7 0a1.85 1.85 0 1 0 -3.7 0M858.0 239.9a1.85 1.85 0 1 0 3.7 0a1.85 1.85 0 1 0 -3.7 0M858.7 248.6a1.85 1.85 0 1 0 3.7 0a1.85 1.85 0 1 0 -3.7 0M857.9 250.8a1.85 1.85 0 1 0 3.7 0a1.85 1.85 0 1 0 -3.7 0M857.9 252.8a1.85 1.85 0 1 0 3.7 0a1.85 1.85 0 1 0 -3.7 0M874.0 235.6a1.85 1.85 0 1 0 3.7 0a1.85 1.85 0 1 0 -3.7 0M873.7 237.5a1.85 1.85 0 1 0 3.7 0a1.85 1.85 0 1 0 -3.7 0M874.0 240.0a1.85 1.85 0 1 0 3.7 0a1.85 1.85 0 1 0 -3.7 0M886.9 152.9a1.85 1.85 0 1 0 3.7 0a1.85 1.85 0 1 0 -3.7 0M886.8 155.7a1.85 1.85 0 1 0 3.7 0a1.85 1.85 0 1 0 -3.7 0M886.8 158.4a1.85 1.85 0 1 0 3.7 0a1.85 1.85 0 1 0 -3.7 0M886.4 160.4a1.85 1.85 0 1 0 3.7 0a1.85 1.85 0 1 0 -3.7 0M886.6 163.4a1.85 1.85 0 1 0 3.7 0a1.85 1.85 0 1 0 -3.7 0M886.8 166.1a1.85 1.85 0 1 0 3.7 0a1.85 1.85 0 1 0 -3.7 0M886.3 168.2a1.85 1.85 0 1 0 3.7 0a1.85 1.85 0 1 0 -3.7 0M886.3 170.5a1.85 1.85 0 1 0 3.7 0a1.85 1.85 0 1 0 -3.7 0M886.5 172.9a1.85 1.85 0 1 0 3.7 0a1.85 1.85 0 1 0 -3.7 0M887.0 175.7a1.85 1.85 0 1 0 3.7 0a1.85 1.85 0 1 0 -3.7 0M886.6 178.8a1.85 1.85 0 1 0 3.7 0a1.85 1.85 0 1 0 -3.7 0M886.7 181.3a1.85 1.85 0 1 0 3.7 0a1.85 1.85 0 1 0 -3.7 0M890.1 154.0a1.85 1.85 0 1 0 3.7 0a1.85 1.85 0 1 0 -3.7 0M890.0 157.0a1.85 1.85 0 1 0 3.7 0a1.85 1.85 0 1 0 -3.7 0M890.0 159.4a1.85 1.85 0 1 0 3.7 0a1.85 1.85 0 1 0 -3.7 0M889.7 161.7a1.85 1.85 0 1 0 3.7 0a1.85 1.85 0 1 0 -3.7 0M890.4 164.6a1.85 1.85 0 1 0 3.7 0a1.85 1.85 0 1 0 -3.7 0M889.9 166.6a1.85 1.85 0 1 0 3.7 0a1.85 1.85 0 1 0 -3.7 0M889.6 169.2a1.85 1.85 0 1 0 3.7 0a1.85 1.85 0 1 0 -3.7 0M889.7 172.1a1.85 1.85 0 1 0 3.7 0a1.85 1.85 0 1 0 -3.7 0M889.5 174.9a1.85 1.85 0 1 0 3.7 0a1.85 1.85 0 1 0 -3.7 0M889.9 177.0a1.85 1.85 0 1 0 3.7 0a1.85 1.85 0 1 0 -3.7 0M890.4 179.9a1.85 1.85 0 1 0 3.7 0a1.85 1.85 0 1 0 -3.7 0M886.3 185.4a1.85 1.85 0 1 0 3.7 0a1.85 1.85 0 1 0 -3.7 0M886.2 188.1a1.85 1.85 0 1 0 3.7 0a1.85 1.85 0 1 0 -3.7 0M886.9 190.7a1.85 1.85 0 1 0 3.7 0a1.85 1.85 0 1 0 -3.7 0M886.6 193.6a1.85 1.85 0 1 0 3.7 0a1.85 1.85 0 1 0 -3.7 0M886.6 196.0a1.85 1.85 0 1 0 3.7 0a1.85 1.85 0 1 0 -3.7 0M886.8 199.2a1.85 1.85 0 1 0 3.7 0a1.85 1.85 0 1 0 -3.7 0M886.3 201.4a1.85 1.85 0 1 0 3.7 0a1.85 1.85 0 1 0 -3.7 0M886.8 204.4a1.85 1.85 0 1 0 3.7 0a1.85 1.85 0 1 0 -3.7 0M890.2 186.4a1.85 1.85 0 1 0 3.7 0a1.85 1.85 0 1 0 -3.7 0M890.0 188.2a1.85 1.85 0 1 0 3.7 0a1.85 1.85 0 1 0 -3.7 0M890.6 190.6a1.85 1.85 0 1 0 3.7 0a1.85 1.85 0 1 0 -3.7 0M890.1 192.9a1.85 1.85 0 1 0 3.7 0a1.85 1.85 0 1 0 -3.7 0M890.1 195.5a1.85 1.85 0 1 0 3.7 0a1.85 1.85 0 1 0 -3.7 0M889.9 197.8a1.85 1.85 0 1 0 3.7 0a1.85 1.85 0 1 0 -3.7 0M890.3 200.1a1.85 1.85 0 1 0 3.7 0a1.85 1.85 0 1 0 -3.7 0M890.2 202.8a1.85 1.85 0 1 0 3.7 0a1.85 1.85 0 1 0 -3.7 0M886.0 228.3a1.85 1.85 0 1 0 3.7 0a1.85 1.85 0 1 0 -3.7 0M886.7 231.1a1.85 1.85 0 1 0 3.7 0a1.85 1.85 0 1 0 -3.7 0M886.4 233.3a1.85 1.85 0 1 0 3.7 0a1.85 1.85 0 1 0 -3.7 0M886.6 235.7a1.85 1.85 0 1 0 3.7 0a1.85 1.85 0 1 0 -3.7 0M858.2 293.9a1.85 1.85 0 1 0 3.7 0a1.85 1.85 0 1 0 -3.7 0M858.2 296.8a1.85 1.85 0 1 0 3.7 0a1.85 1.85 0 1 0 -3.7 0M858.3 298.7a1.85 1.85 0 1 0 3.7 0a1.85 1.85 0 1 0 -3.7 0M857.9 300.7a1.85 1.85 0 1 0 3.7 0a1.85 1.85 0 1 0 -3.7 0M858.6 303.2a1.85 1.85 0 1 0 3.7 0a1.85 1.85 0 1 0 -3.7 0M858.4 305.9a1.85 1.85 0 1 0 3.7 0a1.85 1.85 0 1 0 -3.7 0M873.7 303.4a1.85 1.85 0 1 0 3.7 0a1.85 1.85 0 1 0 -3.7 0M873.8 306.3a1.85 1.85 0 1 0 3.7 0a1.85 1.85 0 1 0 -3.7 0M874.0 309.3a1.85 1.85 0 1 0 3.7 0a1.85 1.85 0 1 0 -3.7 0M889.2 286.9a1.85 1.85 0 1 0 3.7 0a1.85 1.85 0 1 0 -3.7 0M889.7 289.4a1.85 1.85 0 1 0 3.7 0a1.85 1.85 0 1 0 -3.7 0M889.8 291.2a1.85 1.85 0 1 0 3.7 0a1.85 1.85 0 1 0 -3.7 0M889.3 308.2a1.85 1.85 0 1 0 3.7 0a1.85 1.85 0 1 0 -3.7 0M889.8 311.7a1.85 1.85 0 1 0 3.7 0a1.85 1.85 0 1 0 -3.7 0M858.4 328.3a1.85 1.85 0 1 0 3.7 0a1.85 1.85 0 1 0 -3.7 0M858.3 331.1a1.85 1.85 0 1 0 3.7 0a1.85 1.85 0 1 0 -3.7 0M858.6 333.0a1.85 1.85 0 1 0 3.7 0a1.85 1.85 0 1 0 -3.7 0M858.5 335.7a1.85 1.85 0 1 0 3.7 0a1.85 1.85 0 1 0 -3.7 0M858.6 338.1a1.85 1.85 0 1 0 3.7 0a1.85 1.85 0 1 0 -3.7 0M858.0 341.1a1.85 1.85 0 1 0 3.7 0a1.85 1.85 0 1 0 -3.7 0M858.1 343.4a1.85 1.85 0 1 0 3.7 0a1.85 1.85 0 1 0 -3.7 0M858.6 345.7a1.85 1.85 0 1 0 3.7 0a1.85 1.85 0 1 0 -3.7 0M858.6 348.3a1.85 1.85 0 1 0 3.7 0a1.85 1.85 0 1 0 -3.7 0M858.6 351.2a1.85 1.85 0 1 0 3.7 0a1.85 1.85 0 1 0 -3.7 0M858.3 353.4a1.85 1.85 0 1 0 3.7 0a1.85 1.85 0 1 0 -3.7 0M858.5 356.3a1.85 1.85 0 1 0 3.7 0a1.85 1.85 0 1 0 -3.7 0M858.3 358.3a1.85 1.85 0 1 0 3.7 0a1.85 1.85 0 1 0 -3.7 0M858.3 360.9a1.85 1.85 0 1 0 3.7 0a1.85 1.85 0 1 0 -3.7 0M858.4 362.8a1.85 1.85 0 1 0 3.7 0a1.85 1.85 0 1 0 -3.7 0M858.5 365.8a1.85 1.85 0 1 0 3.7 0a1.85 1.85 0 1 0 -3.7 0M857.8 368.0a1.85 1.85 0 1 0 3.7 0a1.85 1.85 0 1 0 -3.7 0M886.5 318.0a1.85 1.85 0 1 0 3.7 0a1.85 1.85 0 1 0 -3.7 0M886.1 321.3a1.85 1.85 0 1 0 3.7 0a1.85 1.85 0 1 0 -3.7 0M886.0 323.6a1.85 1.85 0 1 0 3.7 0a1.85 1.85 0 1 0 -3.7 0M886.5 325.8a1.85 1.85 0 1 0 3.7 0a1.85 1.85 0 1 0 -3.7 0M885.9 328.3a1.85 1.85 0 1 0 3.7 0a1.85 1.85 0 1 0 -3.7 0M886.7 330.6a1.85 1.85 0 1 0 3.7 0a1.85 1.85 0 1 0 -3.7 0M886.6 333.0a1.85 1.85 0 1 0 3.7 0a1.85 1.85 0 1 0 -3.7 0M886.6 336.3a1.85 1.85 0 1 0 3.7 0a1.85 1.85 0 1 0 -3.7 0M886.6 342.5a1.85 1.85 0 1 0 3.7 0a1.85 1.85 0 1 0 -3.7 0M886.2 345.1a1.85 1.85 0 1 0 3.7 0a1.85 1.85 0 1 0 -3.7 0M886.6 347.0a1.85 1.85 0 1 0 3.7 0a1.85 1.85 0 1 0 -3.7 0M886.7 349.9a1.85 1.85 0 1 0 3.7 0a1.85 1.85 0 1 0 -3.7 0M887.0 352.1a1.85 1.85 0 1 0 3.7 0a1.85 1.85 0 1 0 -3.7 0M887.0 355.1a1.85 1.85 0 1 0 3.7 0a1.85 1.85 0 1 0 -3.7 0M886.8 357.9a1.85 1.85 0 1 0 3.7 0a1.85 1.85 0 1 0 -3.7 0M886.9 359.7a1.85 1.85 0 1 0 3.7 0a1.85 1.85 0 1 0 -3.7 0M886.6 362.9a1.85 1.85 0 1 0 3.7 0a1.85 1.85 0 1 0 -3.7 0M886.9 365.4a1.85 1.85 0 1 0 3.7 0a1.85 1.85 0 1 0 -3.7 0M886.2 367.4a1.85 1.85 0 1 0 3.7 0a1.85 1.85 0 1 0 -3.7 0M886.7 369.7a1.85 1.85 0 1 0 3.7 0a1.85 1.85 0 1 0 -3.7 0M886.8 372.2a1.85 1.85 0 1 0 3.7 0a1.85 1.85 0 1 0 -3.7 0M886.2 375.2a1.85 1.85 0 1 0 3.7 0a1.85 1.85 0 1 0 -3.7 0M886.4 378.0a1.85 1.85 0 1 0 3.7 0a1.85 1.85 0 1 0 -3.7 0M886.3 379.8a1.85 1.85 0 1 0 3.7 0a1.85 1.85 0 1 0 -3.7 0M886.8 382.5a1.85 1.85 0 1 0 3.7 0a1.85 1.85 0 1 0 -3.7 0M886.9 384.6a1.85 1.85 0 1 0 3.7 0a1.85 1.85 0 1 0 -3.7 0M886.8 388.0a1.85 1.85 0 1 0 3.7 0a1.85 1.85 0 1 0 -3.7 0M889.5 346.0a1.85 1.85 0 1 0 3.7 0a1.85 1.85 0 1 0 -3.7 0M890.3 348.1a1.85 1.85 0 1 0 3.7 0a1.85 1.85 0 1 0 -3.7 0M890.0 351.4a1.85 1.85 0 1 0 3.7 0a1.85 1.85 0 1 0 -3.7 0M889.5 353.5a1.85 1.85 0 1 0 3.7 0a1.85 1.85 0 1 0 -3.7 0M889.9 356.4a1.85 1.85 0 1 0 3.7 0a1.85 1.85 0 1 0 -3.7 0M889.9 358.4a1.85 1.85 0 1 0 3.7 0a1.85 1.85 0 1 0 -3.7 0M890.2 360.6a1.85 1.85 0 1 0 3.7 0a1.85 1.85 0 1 0 -3.7 0M890.2 363.4a1.85 1.85 0 1 0 3.7 0a1.85 1.85 0 1 0 -3.7 0M889.5 365.5a1.85 1.85 0 1 0 3.7 0a1.85 1.85 0 1 0 -3.7 0M890.0 368.2a1.85 1.85 0 1 0 3.7 0a1.85 1.85 0 1 0 -3.7 0M890.1 370.9a1.85 1.85 0 1 0 3.7 0a1.85 1.85 0 1 0 -3.7 0M890.2 373.2a1.85 1.85 0 1 0 3.7 0a1.85 1.85 0 1 0 -3.7 0M889.8 376.5a1.85 1.85 0 1 0 3.7 0a1.85 1.85 0 1 0 -3.7 0M889.9 378.3a1.85 1.85 0 1 0 3.7 0a1.85 1.85 0 1 0 -3.7 0M889.9 380.6a1.85 1.85 0 1 0 3.7 0a1.85 1.85 0 1 0 -3.7 0M889.9 383.3a1.85 1.85 0 1 0 3.7 0a1.85 1.85 0 1 0 -3.7 0M889.7 385.7a1.85 1.85 0 1 0 3.7 0a1.85 1.85 0 1 0 -3.7 0M857.9 374.4a1.85 1.85 0 1 0 3.7 0a1.85 1.85 0 1 0 -3.7 0M858.2 376.8a1.85 1.85 0 1 0 3.7 0a1.85 1.85 0 1 0 -3.7 0M858.6 380.2a1.85 1.85 0 1 0 3.7 0a1.85 1.85 0 1 0 -3.7 0M858.4 382.9a1.85 1.85 0 1 0 3.7 0a1.85 1.85 0 1 0 -3.7 0M858.6 385.4a1.85 1.85 0 1 0 3.7 0a1.85 1.85 0 1 0 -3.7 0M867.1 376.0a1.85 1.85 0 1 0 3.7 0a1.85 1.85 0 1 0 -3.7 0M867.5 378.5a1.85 1.85 0 1 0 3.7 0a1.85 1.85 0 1 0 -3.7 0M867.1 381.8a1.85 1.85 0 1 0 3.7 0a1.85 1.85 0 1 0 -3.7 0M867.2 384.2a1.85 1.85 0 1 0 3.7 0a1.85 1.85 0 1 0 -3.7 0M877.3 379.5a1.85 1.85 0 1 0 3.7 0a1.85 1.85 0 1 0 -3.7 0M876.9 382.2a1.85 1.85 0 1 0 3.7 0a1.85 1.85 0 1 0 -3.7 0M877.2 385.1a1.85 1.85 0 1 0 3.7 0a1.85 1.85 0 1 0 -3.7 0M877.2 386.9a1.85 1.85 0 1 0 3.7 0a1.85 1.85 0 1 0 -3.7 0M858.6 396.4a1.85 1.85 0 1 0 3.7 0a1.85 1.85 0 1 0 -3.7 0M858.4 399.8a1.85 1.85 0 1 0 3.7 0a1.85 1.85 0 1 0 -3.7 0M858.6 402.5a1.85 1.85 0 1 0 3.7 0a1.85 1.85 0 1 0 -3.7 0M858.5 405.1a1.85 1.85 0 1 0 3.7 0a1.85 1.85 0 1 0 -3.7 0M886.6 386.2a1.85 1.85 0 1 0 3.7 0a1.85 1.85 0 1 0 -3.7 0M886.9 389.0a1.85 1.85 0 1 0 3.7 0a1.85 1.85 0 1 0 -3.7 0M887.1 391.8a1.85 1.85 0 1 0 3.7 0a1.85 1.85 0 1 0 -3.7 0M886.5 395.0a1.85 1.85 0 1 0 3.7 0a1.85 1.85 0 1 0 -3.7 0M887.0 397.4a1.85 1.85 0 1 0 3.7 0a1.85 1.85 0 1 0 -3.7 0M886.8 399.2a1.85 1.85 0 1 0 3.7 0a1.85 1.85 0 1 0 -3.7 0M886.2 401.7a1.85 1.85 0 1 0 3.7 0a1.85 1.85 0 1 0 -3.7 0M886.7 404.6a1.85 1.85 0 1 0 3.7 0a1.85 1.85 0 1 0 -3.7 0M887.0 406.8a1.85 1.85 0 1 0 3.7 0a1.85 1.85 0 1 0 -3.7 0M886.7 409.9a1.85 1.85 0 1 0 3.7 0a1.85 1.85 0 1 0 -3.7 0M887.0 412.4a1.85 1.85 0 1 0 3.7 0a1.85 1.85 0 1 0 -3.7 0M886.5 414.1a1.85 1.85 0 1 0 3.7 0a1.85 1.85 0 1 0 -3.7 0M886.6 416.7a1.85 1.85 0 1 0 3.7 0a1.85 1.85 0 1 0 -3.7 0M890.1 394.2a1.85 1.85 0 1 0 3.7 0a1.85 1.85 0 1 0 -3.7 0M890.1 396.1a1.85 1.85 0 1 0 3.7 0a1.85 1.85 0 1 0 -3.7 0M889.9 399.6a1.85 1.85 0 1 0 3.7 0a1.85 1.85 0 1 0 -3.7 0M889.7 402.2a1.85 1.85 0 1 0 3.7 0a1.85 1.85 0 1 0 -3.7 0M890.2 404.1a1.85 1.85 0 1 0 3.7 0a1.85 1.85 0 1 0 -3.7 0M889.5 407.0a1.85 1.85 0 1 0 3.7 0a1.85 1.85 0 1 0 -3.7 0M889.8 410.1a1.85 1.85 0 1 0 3.7 0a1.85 1.85 0 1 0 -3.7 0M889.9 412.1a1.85 1.85 0 1 0 3.7 0a1.85 1.85 0 1 0 -3.7 0M889.5 414.5a1.85 1.85 0 1 0 3.7 0a1.85 1.85 0 1 0 -3.7 0M890.2 418.0a1.85 1.85 0 1 0 3.7 0a1.85 1.85 0 1 0 -3.7 0M888.5 398.0a1.85 1.85 0 1 0 3.7 0a1.85 1.85 0 1 0 -3.7 0M888.3 400.7a1.85 1.85 0 1 0 3.7 0a1.85 1.85 0 1 0 -3.7 0M888.4 403.3a1.85 1.85 0 1 0 3.7 0a1.85 1.85 0 1 0 -3.7 0M888.2 405.8a1.85 1.85 0 1 0 3.7 0a1.85 1.85 0 1 0 -3.7 0M888.4 408.7a1.85 1.85 0 1 0 3.7 0a1.85 1.85 0 1 0 -3.7 0M887.9 411.6a1.85 1.85 0 1 0 3.7 0a1.85 1.85 0 1 0 -3.7 0M888.3 414.1a1.85 1.85 0 1 0 3.7 0a1.85 1.85 0 1 0 -3.7 0M889.6 439.2a1.85 1.85 0 1 0 3.7 0a1.85 1.85 0 1 0 -3.7 0M889.7 442.3a1.85 1.85 0 1 0 3.7 0a1.85 1.85 0 1 0 -3.7 0M889.2 444.7a1.85 1.85 0 1 0 3.7 0a1.85 1.85 0 1 0 -3.7 0" fill="#0a0a0a"/>
<path d="M868.5 430.3H874.0M887.0 431.9H892.6" fill="none" stroke="#0a0a0a" stroke-width="3.6" stroke-linecap="round"/>
<path d="M902.4 421.5a1.3 1.3 0 1 0 2.6 0a1.3 1.3 0 1 0 -2.6 0M902.4 423.6a1.3 1.3 0 1 0 2.6 0a1.3 1.3 0 1 0 -2.6 0M902.1 425.1a1.3 1.3 0 1 0 2.6 0a1.3 1.3 0 1 0 -2.6 0" fill="#0a0a0a"/>
<line x1="900.10" y1="41.00" x2="903.80" y2="503.00" stroke="#ed3023" stroke-width="4.5" stroke-dasharray="12.05 4.2" stroke-dashoffset="5.2"/>
<line x1="939.20" y1="41.00" x2="943.00" y2="503.00" stroke="#ed3023" stroke-width="4.5" stroke-dasharray="12.05 4.2" stroke-dashoffset="5.2"/>
<line x1="1070.60" y1="39.30" x2="1070.60" y2="505.80" stroke="#ee3641" stroke-width="2.3" stroke-dasharray="13.7 7.87" stroke-dashoffset="0"/>
<line x1="1105.50" y1="39.30" x2="1105.50" y2="505.80" stroke="#ee3641" stroke-width="2.3" stroke-dasharray="13.7 7.87" stroke-dashoffset="0"/>
<line x1="1213.10" y1="39.30" x2="1213.10" y2="505.80" stroke="#ee3641" stroke-width="2.3" stroke-dasharray="13.7 7.87" stroke-dashoffset="0"/>
<line x1="1244.90" y1="39.30" x2="1244.90" y2="505.80" stroke="#ee3641" stroke-width="2.3" stroke-dasharray="13.7 7.87" stroke-dashoffset="0"/>
<line x1="1386.60" y1="39.00" x2="1386.60" y2="505.80" stroke="#ee3641" stroke-width="2.3" stroke-dasharray="13.7 7.87" stroke-dashoffset="0"/>
<path d="M859.10 44.30h12.20M859.10 65.30h12.20M865.20 44.30V65.30" fill="none" stroke="#ec1f28" stroke-width="3.0"/>
<path d="M906.30 130.20h23.60M906.30 149.80h23.60M912.01 130.20V149.80M924.19 130.20V149.80" fill="none" stroke="#ec1f28" stroke-width="3.0"/>
<path d="M1297.80 60.20h26.00M1297.80 81.40h26.00M1302.22 60.20V81.40M1310.80 60.20V81.40M1319.38 60.20V81.40" fill="none" stroke="#ec1f28" stroke-width="3.0"/>
<path d="M1074.50 52.90h6.75M1074.50 71.70h6.75" fill="none" stroke="#ec1f28" stroke-width="2.5"/>
<path d="M1077.88 52.90V71.70" fill="none" stroke="#ec1f28" stroke-width="2.9000000000000004"/>
<path d="M1083.00 52.30L1091.55 72.50" fill="none" stroke="#ec1f28" stroke-width="2.4000000000000004" stroke-linecap="butt"/>
<path d="M1099.50 52.30L1091.55 72.50" fill="none" stroke="#ec1f28" stroke-width="1.8000000000000003" stroke-linecap="butt"/>
<path d="M1218.80 54.70L1227.70 73.90" fill="none" stroke="#ec1f28" stroke-width="2.5"/>
<path d="M1236.60 54.70L1227.70 73.90" fill="none" stroke="#ec1f28" stroke-width="1.9"/>
<text x="1318.70" y="182.60" text-anchor="middle" font-family="Liberation Sans, sans-serif" font-size="21.6" fill="#1a1a1a" textLength="78.6" lengthAdjust="spacingAndGlyphs">64.5~86</text>
<text x="1167.30" y="233.30" text-anchor="middle" font-family="Liberation Sans, sans-serif" font-size="21.6" fill="#1a1a1a" textLength="77.2" lengthAdjust="spacingAndGlyphs">59.5~64</text>
<text x="1059.20" y="309.80" text-anchor="end" font-family="Liberation Sans, sans-serif" font-size="21.6" fill="#1a1a1a">37~42</text>
<line x1="1261.22" y1="191.60" x2="1371.58" y2="191.60" stroke="#444" stroke-width="1.3"/>
<path d="M1250.30 191.60L1268.50 184.60L1263.04 191.60L1268.50 198.60ZM1382.50 191.60L1364.30 184.60L1369.76 191.60L1364.30 198.60Z" fill="#111"/>
<line x1="1219.30" y1="226.60" x2="1239.80" y2="226.60" stroke="#111" stroke-width="1.7"/>
<path d="M1214.60 226.60L1224.00 222.60L1222.87 226.60L1224.00 230.60ZM1244.50 226.60L1235.10 222.60L1236.23 226.60L1235.10 230.60Z" fill="#111"/>
<line x1="1076.10" y1="301.80" x2="1100.10" y2="301.80" stroke="#111" stroke-width="1.7"/>
<path d="M1071.40 301.80L1080.80 297.80L1079.67 301.80L1080.80 305.80ZM1104.80 301.80L1095.40 297.80L1096.53 301.80L1095.40 305.80Z" fill="#111"/>
<line x1="1258.20" y1="353.30" x2="1232.33" y2="303.76" stroke="#4a7ebb" stroke-width="4.6"/>
<path d="M1224.00 287.80L1242.56 300.67L1223.95 310.39Z" fill="#4a7ebb"/>
<rect x="1259.20" y="353.30" width="97.80" height="103.80" fill="#fff" stroke="#1f4a82" stroke-width="3.4" stroke-linejoin="round"/>
<path d="M1262.8 405.8a1.48 1.48 0 1 0 2.96 0a1.48 1.48 0 1 0 -2.96 0M1270.3 400.6a1.48 1.48 0 1 0 2.96 0a1.48 1.48 0 1 0 -2.96 0M1270.3 411.0a1.48 1.48 0 1 0 2.96 0a1.48 1.48 0 1 0 -2.96 0M1277.8 398.3a1.48 1.48 0 1 0 2.96 0a1.48 1.48 0 1 0 -2.96 0M1277.8 413.3a1.48 1.48 0 1 0 2.96 0a1.48 1.48 0 1 0 -2.96 0M1277.8 395.8a1.48 1.48 0 1 0 2.96 0a1.48 1.48 0 1 0 -2.96 0M1277.8 415.8a1.48 1.48 0 1 0 2.96 0a1.48 1.48 0 1 0 -2.96 0M1285.3 396.3a1.48 1.48 0 1 0 2.96 0a1.48 1.48 0 1 0 -2.96 0M1285.3 415.3a1.48 1.48 0 1 0 2.96 0a1.48 1.48 0 1 0 -2.96 0M1285.3 393.3a1.48 1.48 0 1 0 2.96 0a1.48 1.48 0 1 0 -2.96 0M1285.3 418.3a1.48 1.48 0 1 0 2.96 0a1.48 1.48 0 1 0 -2.96 0M1292.8 395.3a1.48 1.48 0 1 0 2.96 0a1.48 1.48 0 1 0 -2.96 0M1292.8 416.3a1.48 1.48 0 1 0 2.96 0a1.48 1.48 0 1 0 -2.96 0M1292.8 391.2a1.48 1.48 0 1 0 2.96 0a1.48 1.48 0 1 0 -2.96 0M1292.8 420.4a1.48 1.48 0 1 0 2.96 0a1.48 1.48 0 1 0 -2.96 0M1300.3 393.8a1.48 1.48 0 1 0 2.96 0a1.48 1.48 0 1 0 -2.96 0M1300.3 417.8a1.48 1.48 0 1 0 2.96 0a1.48 1.48 0 1 0 -2.96 0M1300.3 389.5a1.48 1.48 0 1 0 2.96 0a1.48 1.48 0 1 0 -2.96 0M1300.3 422.1a1.48 1.48 0 1 0 2.96 0a1.48 1.48 0 1 0 -2.96 0M1307.8 392.4a1.48 1.48 0 1 0 2.96 0a1.48 1.48 0 1 0 -2.96 0M1307.8 419.2a1.48 1.48 0 1 0 2.96 0a1.48 1.48 0 1 0 -2.96 0M1307.8 388.0a1.48 1.48 0 1 0 2.96 0a1.48 1.48 0 1 0 -2.96 0M1307.8 423.6a1.48 1.48 0 1 0 2.96 0a1.48 1.48 0 1 0 -2.96 0M1315.3 391.1a1.48 1.48 0 1 0 2.96 0a1.48 1.48 0 1 0 -2.96 0M1315.3 420.5a1.48 1.48 0 1 0 2.96 0a1.48 1.48 0 1 0 -2.96 0M1315.3 386.9a1.48 1.48 0 1 0 2.96 0a1.48 1.48 0 1 0 -2.96 0M1315.3 424.7a1.48 1.48 0 1 0 2.96 0a1.48 1.48 0 1 0 -2.96 0M1322.8 389.8a1.48 1.48 0 1 0 2.96 0a1.48 1.48 0 1 0 -2.96 0M1322.8 421.8a1.48 1.48 0 1 0 2.96 0a1.48 1.48 0 1 0 -2.96 0M1322.8 385.5a1.48 1.48 0 1 0 2.96 0a1.48 1.48 0 1 0 -2.96 0M1322.8 426.1a1.48 1.48 0 1 0 2.96 0a1.48 1.48 0 1 0 -2.96 0M1330.3 388.6a1.48 1.48 0 1 0 2.96 0a1.48 1.48 0 1 0 -2.96 0M1330.3 423.0a1.48 1.48 0 1 0 2.96 0a1.48 1.48 0 1 0 -2.96 0M1330.3 384.3a1.48 1.48 0 1 0 2.96 0a1.48 1.48 0 1 0 -2.96 0M1330.3 427.3a1.48 1.48 0 1 0 2.96 0a1.48 1.48 0 1 0 -2.96 0M1337.8 387.8a1.48 1.48 0 1 0 2.96 0a1.48 1.48 0 1 0 -2.96 0M1337.8 423.8a1.48 1.48 0 1 0 2.96 0a1.48 1.48 0 1 0 -2.96 0M1337.8 383.4a1.48 1.48 0 1 0 2.96 0a1.48 1.48 0 1 0 -2.96 0M1337.8 428.2a1.48 1.48 0 1 0 2.96 0a1.48 1.48 0 1 0 -2.96 0M1345.3 382.2a1.48 1.48 0 1 0 2.96 0a1.48 1.48 0 1 0 -2.96 0M1345.3 429.4a1.48 1.48 0 1 0 2.96 0a1.48 1.48 0 1 0 -2.96 0M1352.8 381.4a1.48 1.48 0 1 0 2.96 0a1.48 1.48 0 1 0 -2.96 0M1352.8 430.2a1.48 1.48 0 1 0 2.96 0a1.48 1.48 0 1 0 -2.96 0" fill="#111"/>
<path d="M95.5 892.5H101.5M196.6 892.5H481M628.3 892.5H667.6" stroke="#0a0a0a" stroke-width="3.6" stroke-linecap="round" fill="none"/>
<polyline points="481.20 892.50 482.65 889.94 484.11 887.37 485.56 885.92 487.02 884.92 488.47 884.03 489.92 883.24 491.38 882.51 492.83 881.84 494.29 881.21 495.74 880.61 497.19 880.05 498.65 879.52 500.10 879.01 501.56 878.52 503.01 878.05 504.46 877.60 505.92 877.16 507.37 876.74 508.83 876.33 510.28 875.94 511.73 875.55 513.19 875.18 514.64 874.82 516.10 874.47 517.55 874.12 519.00 873.79 520.46 873.46 521.91 873.14 523.37 872.83 524.82 872.52 526.27 872.22 527.73 871.93 529.18 871.64 530.64 871.36 532.09 871.08 533.54 870.81 535.00 870.55 536.45 870.29 537.91 870.03 539.36 869.78 540.81 869.53 542.27 869.29 543.72 869.05 545.18 868.82 546.63 868.59 548.08 868.36 549.54 868.14 550.99 867.92 552.45 867.70 553.90 867.49 555.35 867.28 556.81 867.07 558.26 866.87 559.72 866.67 561.17 866.47 562.62 866.28 564.08 866.09 565.53 865.90 566.99 865.71 568.44 865.53 569.89 865.35 571.35 865.17 572.80 865.00 574.26 864.82 575.71 864.65 577.16 864.48 578.62 864.32 580.07 864.15 581.53 863.99 582.98 863.83 584.43 863.68 585.89 863.52 587.34 863.37 588.80 863.22 590.25 863.07 591.70 862.92 593.16 862.78 594.61 862.63 596.07 862.49 597.52 862.35 598.97 862.21 600.43 862.08 601.88 861.94 603.34 861.81 604.79 861.68 606.24 861.55 607.70 861.42 609.15 861.29 610.61 861.17 612.06 861.05 613.51 860.93 614.97 860.81 616.42 860.69 617.88 860.57 619.33 860.46 620.78 860.34 622.24 860.23 623.69 860.12 625.15 860.01 626.60 859.90" fill="none" stroke="#0a0a0a" stroke-width="3.7" stroke-linecap="round" stroke-linejoin="round"/>
<polyline points="481.20 892.50 482.65 895.09 484.11 897.69 485.56 899.16 487.02 900.18 488.47 901.07 489.92 901.88 491.38 902.61 492.83 903.29 494.29 903.93 495.74 904.53 497.19 905.10 498.65 905.64 500.10 906.16 501.56 906.65 503.01 907.13 504.46 907.58 505.92 908.03 507.37 908.45 508.83 908.87 510.28 909.27 511.73 909.65 513.19 910.03 514.64 910.40 516.10 910.76 517.55 911.10 519.00 911.44 520.46 911.78 521.91 912.10 523.37 912.42 524.82 912.73 526.27 913.03 527.73 913.33 529.18 913.62 530.64 913.90 532.09 914.18 533.54 914.45 535.00 914.72 536.45 914.99 537.91 915.25 539.36 915.50 540.81 915.75 542.27 916.00 543.72 916.24 545.18 916.47 546.63 916.71 548.08 916.94 549.54 917.16 550.99 917.38 552.45 917.60 553.90 917.82 555.35 918.03 556.81 918.24 558.26 918.44 559.72 918.65 561.17 918.85 562.62 919.04 564.08 919.24 565.53 919.43 566.99 919.61 568.44 919.80 569.89 919.98 571.35 920.16 572.80 920.34 574.26 920.52 575.71 920.69 577.16 920.86 578.62 921.03 580.07 921.19 581.53 921.36 582.98 921.52 584.43 921.68 585.89 921.83 587.34 921.99 588.80 922.14 590.25 922.29 591.70 922.44 593.16 922.59 594.61 922.73 596.07 922.88 597.52 923.02 598.97 923.16 600.43 923.30 601.88 923.43 603.34 923.57 604.79 923.70 606.24 923.83 607.70 923.96 609.15 924.09 610.61 924.21 612.06 924.34 613.51 924.46 614.97 924.58 616.42 924.70 617.88 924.82 619.33 924.94 620.78 925.05 622.24 925.17 623.69 925.28 625.15 925.39 626.60 925.50" fill="none" stroke="#0a0a0a" stroke-width="3.7" stroke-linecap="round" stroke-linejoin="round"/>
<path d="M120.3 696.4a2.08 2.08 0 1 0 4.16 0a2.08 2.08 0 1 0 -4.16 0M132.9 704.5a2.08 2.08 0 1 0 4.16 0a2.08 2.08 0 1 0 -4.16 0M117.2 711.5a2.08 2.08 0 1 0 4.16 0a2.08 2.08 0 1 0 -4.16 0M113.8 718.6a2.08 2.08 0 1 0 4.16 0a2.08 2.08 0 1 0 -4.16 0M104.5 719.3a2.08 2.08 0 1 0 4.16 0a2.08 2.08 0 1 0 -4.16 0M97.4 699.2a2.08 2.08 0 1 0 4.16 0a2.08 2.08 0 1 0 -4.16 0M100.9 699.2a2.08 2.08 0 1 0 4.16 0a2.08 2.08 0 1 0 -4.16 0M104.5 702.7a2.08 2.08 0 1 0 4.16 0a2.08 2.08 0 1 0 -4.16 0M107.5 706.2a2.08 2.08 0 1 0 4.16 0a2.08 2.08 0 1 0 -4.16 0M105.0 707.7a2.08 2.08 0 1 0 4.16 0a2.08 2.08 0 1 0 -4.16 0M108.0 710.3a2.08 2.08 0 1 0 4.16 0a2.08 2.08 0 1 0 -4.16 0M104.5 712.3a2.08 2.08 0 1 0 4.16 0a2.08 2.08 0 1 0 -4.16 0M97.9 720.0a2.08 2.08 0 1 0 4.16 0a2.08 2.08 0 1 0 -4.16 0M97.9 722.5a2.08 2.08 0 1 0 4.16 0a2.08 2.08 0 1 0 -4.16 0M142.6 723.0a2.08 2.08 0 1 0 4.16 0a2.08 2.08 0 1 0 -4.16 0M142.6 726.0a2.08 2.08 0 1 0 4.16 0a2.08 2.08 0 1 0 -4.16 0M139.1 730.3a2.08 2.08 0 1 0 4.16 0a2.08 2.08 0 1 0 -4.16 0M142.6 729.8a2.08 2.08 0 1 0 4.16 0a2.08 2.08 0 1 0 -4.16 0M139.1 737.0a2.08 2.08 0 1 0 4.16 0a2.08 2.08 0 1 0 -4.16 0M139.1 740.0a2.08 2.08 0 1 0 4.16 0a2.08 2.08 0 1 0 -4.16 0M139.9 746.2a2.08 2.08 0 1 0 4.16 0a2.08 2.08 0 1 0 -4.16 0M143.4 746.2a2.08 2.08 0 1 0 4.16 0a2.08 2.08 0 1 0 -4.16 0M97.9 753.4a2.08 2.08 0 1 0 4.16 0a2.08 2.08 0 1 0 -4.16 0M101.4 758.0a2.08 2.08 0 1 0 4.16 0a2.08 2.08 0 1 0 -4.16 0M97.9 761.0a2.08 2.08 0 1 0 4.16 0a2.08 2.08 0 1 0 -4.16 0M139.4 755.5a2.08 2.08 0 1 0 4.16 0a2.08 2.08 0 1 0 -4.16 0M142.4 758.5a2.08 2.08 0 1 0 4.16 0a2.08 2.08 0 1 0 -4.16 0M145.4 759.5a2.08 2.08 0 1 0 4.16 0a2.08 2.08 0 1 0 -4.16 0M142.4 761.5a2.08 2.08 0 1 0 4.16 0a2.08 2.08 0 1 0 -4.16 0M145.9 761.5a2.08 2.08 0 1 0 4.16 0a2.08 2.08 0 1 0 -4.16 0M139.1 764.5a2.08 2.08 0 1 0 4.16 0a2.08 2.08 0 1 0 -4.16 0M142.6 767.5a2.08 2.08 0 1 0 4.16 0a2.08 2.08 0 1 0 -4.16 0M136.1 768.5a2.08 2.08 0 1 0 4.16 0a2.08 2.08 0 1 0 -4.16 0M148.6 752.2a2.08 2.08 0 1 0 4.16 0a2.08 2.08 0 1 0 -4.16 0M155.2 746.4a2.08 2.08 0 1 0 4.16 0a2.08 2.08 0 1 0 -4.16 0M155.2 755.4a2.08 2.08 0 1 0 4.16 0a2.08 2.08 0 1 0 -4.16 0M97.9 777.0a2.08 2.08 0 1 0 4.16 0a2.08 2.08 0 1 0 -4.16 0M97.9 786.0a2.08 2.08 0 1 0 4.16 0a2.08 2.08 0 1 0 -4.16 0M100.9 793.1a2.08 2.08 0 1 0 4.16 0a2.08 2.08 0 1 0 -4.16 0M107.5 797.6a2.08 2.08 0 1 0 4.16 0a2.08 2.08 0 1 0 -4.16 0M113.8 791.3a2.08 2.08 0 1 0 4.16 0a2.08 2.08 0 1 0 -4.16 0M120.0 786.6a2.08 2.08 0 1 0 4.16 0a2.08 2.08 0 1 0 -4.16 0M123.5 789.6a2.08 2.08 0 1 0 4.16 0a2.08 2.08 0 1 0 -4.16 0M126.6 792.1a2.08 2.08 0 1 0 4.16 0a2.08 2.08 0 1 0 -4.16 0M120.3 800.3a2.08 2.08 0 1 0 4.16 0a2.08 2.08 0 1 0 -4.16 0M117.0 806.7a2.08 2.08 0 1 0 4.16 0a2.08 2.08 0 1 0 -4.16 0M113.5 809.2a2.08 2.08 0 1 0 4.16 0a2.08 2.08 0 1 0 -4.16 0M113.5 812.2a2.08 2.08 0 1 0 4.16 0a2.08 2.08 0 1 0 -4.16 0M104.5 808.7a2.08 2.08 0 1 0 4.16 0a2.08 2.08 0 1 0 -4.16 0M117.0 820.0a2.08 2.08 0 1 0 4.16 0a2.08 2.08 0 1 0 -4.16 0M107.5 820.7a2.08 2.08 0 1 0 4.16 0a2.08 2.08 0 1 0 -4.16 0M110.5 823.7a2.08 2.08 0 1 0 4.16 0a2.08 2.08 0 1 0 -4.16 0M104.5 824.2a2.08 2.08 0 1 0 4.16 0a2.08 2.08 0 1 0 -4.16 0M104.5 828.8a2.08 2.08 0 1 0 4.16 0a2.08 2.08 0 1 0 -4.16 0M107.5 834.1a2.08 2.08 0 1 0 4.16 0a2.08 2.08 0 1 0 -4.16 0M113.8 837.3a2.08 2.08 0 1 0 4.16 0a2.08 2.08 0 1 0 -4.16 0M110.8 846.8a2.08 2.08 0 1 0 4.16 0a2.08 2.08 0 1 0 -4.16 0M107.8 877.5a2.08 2.08 0 1 0 4.16 0a2.08 2.08 0 1 0 -4.16 0M142.6 783.0a2.08 2.08 0 1 0 4.16 0a2.08 2.08 0 1 0 -4.16 0M142.6 789.0a2.08 2.08 0 1 0 4.16 0a2.08 2.08 0 1 0 -4.16 0M139.1 795.1a2.08 2.08 0 1 0 4.16 0a2.08 2.08 0 1 0 -4.16 0M139.1 801.1a2.08 2.08 0 1 0 4.16 0a2.08 2.08 0 1 0 -4.16 0M145.6 803.6a2.08 2.08 0 1 0 4.16 0a2.08 2.08 0 1 0 -4.16 0M151.7 786.0a2.08 2.08 0 1 0 4.16 0a2.08 2.08 0 1 0 -4.16 0M151.7 789.6a2.08 2.08 0 1 0 4.16 0a2.08 2.08 0 1 0 -4.16 0M139.4 831.0a2.08 2.08 0 1 0 4.16 0a2.08 2.08 0 1 0 -4.16 0M142.4 833.5a2.08 2.08 0 1 0 4.16 0a2.08 2.08 0 1 0 -4.16 0M145.4 831.5a2.08 2.08 0 1 0 4.16 0a2.08 2.08 0 1 0 -4.16 0M146.9 836.5a2.08 2.08 0 1 0 4.16 0a2.08 2.08 0 1 0 -4.16 0M140.4 837.5a2.08 2.08 0 1 0 4.16 0a2.08 2.08 0 1 0 -4.16 0M143.9 838.0a2.08 2.08 0 1 0 4.16 0a2.08 2.08 0 1 0 -4.16 0M139.1 848.1a2.08 2.08 0 1 0 4.16 0a2.08 2.08 0 1 0 -4.16 0M139.1 853.9a2.08 2.08 0 1 0 4.16 0a2.08 2.08 0 1 0 -4.16 0M139.1 861.4a2.08 2.08 0 1 0 4.16 0a2.08 2.08 0 1 0 -4.16 0M129.9 855.9a2.08 2.08 0 1 0 4.16 0a2.08 2.08 0 1 0 -4.16 0M129.9 861.2a2.08 2.08 0 1 0 4.16 0a2.08 2.08 0 1 0 -4.16 0M139.1 875.7a2.08 2.08 0 1 0 4.16 0a2.08 2.08 0 1 0 -4.16 0M129.9 878.2a2.08 2.08 0 1 0 4.16 0a2.08 2.08 0 1 0 -4.16 0M101.9 862.0a2.08 2.08 0 1 0 4.16 0a2.08 2.08 0 1 0 -4.16 0M107.4 864.0a2.08 2.08 0 1 0 4.16 0a2.08 2.08 0 1 0 -4.16 0M101.4 868.0a2.08 2.08 0 1 0 4.16 0a2.08 2.08 0 1 0 -4.16 0M107.9 870.0a2.08 2.08 0 1 0 4.16 0a2.08 2.08 0 1 0 -4.16 0M101.9 873.0a2.08 2.08 0 1 0 4.16 0a2.08 2.08 0 1 0 -4.16 0M104.5 887.5a2.08 2.08 0 1 0 4.16 0a2.08 2.08 0 1 0 -4.16 0M104.5 893.5a2.08 2.08 0 1 0 4.16 0a2.08 2.08 0 1 0 -4.16 0M107.8 907.4a2.08 2.08 0 1 0 4.16 0a2.08 2.08 0 1 0 -4.16 0M105.0 913.1a2.08 2.08 0 1 0 4.16 0a2.08 2.08 0 1 0 -4.16 0M108.0 913.1a2.08 2.08 0 1 0 4.16 0a2.08 2.08 0 1 0 -4.16 0M105.0 917.1a2.08 2.08 0 1 0 4.16 0a2.08 2.08 0 1 0 -4.16 0M108.0 918.1a2.08 2.08 0 1 0 4.16 0a2.08 2.08 0 1 0 -4.16 0M100.9 920.1a2.08 2.08 0 1 0 4.16 0a2.08 2.08 0 1 0 -4.16 0M105.0 922.2a2.08 2.08 0 1 0 4.16 0a2.08 2.08 0 1 0 -4.16 0M105.0 926.2a2.08 2.08 0 1 0 4.16 0a2.08 2.08 0 1 0 -4.16 0M108.0 927.2a2.08 2.08 0 1 0 4.16 0a2.08 2.08 0 1 0 -4.16 0M104.5 929.2a2.08 2.08 0 1 0 4.16 0a2.08 2.08 0 1 0 -4.16 0M100.9 945.8a2.08 2.08 0 1 0 4.16 0a2.08 2.08 0 1 0 -4.16 0M111.0 945.2a2.08 2.08 0 1 0 4.16 0a2.08 2.08 0 1 0 -4.16 0M114.0 948.3a2.08 2.08 0 1 0 4.16 0a2.08 2.08 0 1 0 -4.16 0M107.8 951.3a2.08 2.08 0 1 0 4.16 0a2.08 2.08 0 1 0 -4.16 0M104.5 954.8a2.08 2.08 0 1 0 4.16 0a2.08 2.08 0 1 0 -4.16 0M107.8 963.5a2.08 2.08 0 1 0 4.16 0a2.08 2.08 0 1 0 -4.16 0M117.0 965.3a2.08 2.08 0 1 0 4.16 0a2.08 2.08 0 1 0 -4.16 0M104.5 971.2a2.08 2.08 0 1 0 4.16 0a2.08 2.08 0 1 0 -4.16 0M113.5 972.4a2.08 2.08 0 1 0 4.16 0a2.08 2.08 0 1 0 -4.16 0M114.0 975.4a2.08 2.08 0 1 0 4.16 0a2.08 2.08 0 1 0 -4.16 0M117.0 978.4a2.08 2.08 0 1 0 4.16 0a2.08 2.08 0 1 0 -4.16 0M123.5 980.4a2.08 2.08 0 1 0 4.16 0a2.08 2.08 0 1 0 -4.16 0M120.0 985.4a2.08 2.08 0 1 0 4.16 0a2.08 2.08 0 1 0 -4.16 0M104.5 981.9a2.08 2.08 0 1 0 4.16 0a2.08 2.08 0 1 0 -4.16 0M107.5 987.6a2.08 2.08 0 1 0 4.16 0a2.08 2.08 0 1 0 -4.16 0M113.8 994.0a2.08 2.08 0 1 0 4.16 0a2.08 2.08 0 1 0 -4.16 0M123.0 995.0a2.08 2.08 0 1 0 4.16 0a2.08 2.08 0 1 0 -4.16 0M120.0 998.0a2.08 2.08 0 1 0 4.16 0a2.08 2.08 0 1 0 -4.16 0M129.9 907.1a2.08 2.08 0 1 0 4.16 0a2.08 2.08 0 1 0 -4.16 0M129.9 924.2a2.08 2.08 0 1 0 4.16 0a2.08 2.08 0 1 0 -4.16 0M129.9 929.7a2.08 2.08 0 1 0 4.16 0a2.08 2.08 0 1 0 -4.16 0M142.1 899.1a2.08 2.08 0 1 0 4.16 0a2.08 2.08 0 1 0 -4.16 0M139.1 902.1a2.08 2.08 0 1 0 4.16 0a2.08 2.08 0 1 0 -4.16 0M142.6 905.6a2.08 2.08 0 1 0 4.16 0a2.08 2.08 0 1 0 -4.16 0M139.1 917.9a2.08 2.08 0 1 0 4.16 0a2.08 2.08 0 1 0 -4.16 0M139.1 935.2a2.08 2.08 0 1 0 4.16 0a2.08 2.08 0 1 0 -4.16 0M142.6 943.2a2.08 2.08 0 1 0 4.16 0a2.08 2.08 0 1 0 -4.16 0M142.6 948.8a2.08 2.08 0 1 0 4.16 0a2.08 2.08 0 1 0 -4.16 0M139.1 951.3a2.08 2.08 0 1 0 4.16 0a2.08 2.08 0 1 0 -4.16 0M139.1 957.8a2.08 2.08 0 1 0 4.16 0a2.08 2.08 0 1 0 -4.16 0M142.6 958.8a2.08 2.08 0 1 0 4.16 0a2.08 2.08 0 1 0 -4.16 0M142.6 969.5a2.08 2.08 0 1 0 4.16 0a2.08 2.08 0 1 0 -4.16 0M142.6 972.4a2.08 2.08 0 1 0 4.16 0a2.08 2.08 0 1 0 -4.16 0M139.1 982.4a2.08 2.08 0 1 0 4.16 0a2.08 2.08 0 1 0 -4.16 0M142.6 982.0a2.08 2.08 0 1 0 4.16 0a2.08 2.08 0 1 0 -4.16 0M142.6 984.4a2.08 2.08 0 1 0 4.16 0a2.08 2.08 0 1 0 -4.16 0M139.1 988.4a2.08 2.08 0 1 0 4.16 0a2.08 2.08 0 1 0 -4.16 0M142.6 988.4a2.08 2.08 0 1 0 4.16 0a2.08 2.08 0 1 0 -4.16 0M142.1 999.5a2.08 2.08 0 1 0 4.16 0a2.08 2.08 0 1 0 -4.16 0M139.1 1001.5a2.08 2.08 0 1 0 4.16 0a2.08 2.08 0 1 0 -4.16 0M133.1 1003.5a2.08 2.08 0 1 0 4.16 0a2.08 2.08 0 1 0 -4.16 0M132.9 1004.5a2.08 2.08 0 1 0 4.16 0a2.08 2.08 0 1 0 -4.16 0M139.4 1005.0a2.08 2.08 0 1 0 4.16 0a2.08 2.08 0 1 0 -4.16 0M141.0 1013.8a2.08 2.08 0 1 0 4.16 0a2.08 2.08 0 1 0 -4.16 0M142.7 1017.0a2.08 2.08 0 1 0 4.16 0a2.08 2.08 0 1 0 -4.16 0M139.4 1020.3a2.08 2.08 0 1 0 4.16 0a2.08 2.08 0 1 0 -4.16 0M142.7 1024.1a2.08 2.08 0 1 0 4.16 0a2.08 2.08 0 1 0 -4.16 0M142.7 1026.8a2.08 2.08 0 1 0 4.16 0a2.08 2.08 0 1 0 -4.16 0M138.9 1030.1a2.08 2.08 0 1 0 4.16 0a2.08 2.08 0 1 0 -4.16 0M155.2 1030.1a2.08 2.08 0 1 0 4.16 0a2.08 2.08 0 1 0 -4.16 0M155.2 1039.4a2.08 2.08 0 1 0 4.16 0a2.08 2.08 0 1 0 -4.16 0M139.4 1036.6a2.08 2.08 0 1 0 4.16 0a2.08 2.08 0 1 0 -4.16 0M139.4 1041.0a2.08 2.08 0 1 0 4.16 0a2.08 2.08 0 1 0 -4.16 0M138.9 1048.6a2.08 2.08 0 1 0 4.16 0a2.08 2.08 0 1 0 -4.16 0M142.7 1053.0a2.08 2.08 0 1 0 4.16 0a2.08 2.08 0 1 0 -4.16 0M148.6 1055.7a2.08 2.08 0 1 0 4.16 0a2.08 2.08 0 1 0 -4.16 0M142.3 1063.1a2.08 2.08 0 1 0 4.16 0a2.08 2.08 0 1 0 -4.16 0M104.6 1043.2a2.08 2.08 0 1 0 4.16 0a2.08 2.08 0 1 0 -4.16 0M123.3 1047.2a2.08 2.08 0 1 0 4.16 0a2.08 2.08 0 1 0 -4.16 0M126.7 1054.6a2.08 2.08 0 1 0 4.16 0a2.08 2.08 0 1 0 -4.16 0M113.8 1066.9a2.08 2.08 0 1 0 4.16 0a2.08 2.08 0 1 0 -4.16 0M117.3 1073.8a2.08 2.08 0 1 0 4.16 0a2.08 2.08 0 1 0 -4.16 0M104.6 1072.5a2.08 2.08 0 1 0 4.16 0a2.08 2.08 0 1 0 -4.16 0M107.9 1074.7a2.08 2.08 0 1 0 4.16 0a2.08 2.08 0 1 0 -4.16 0M104.6 1078.0a2.08 2.08 0 1 0 4.16 0a2.08 2.08 0 1 0 -4.16 0M107.3 1079.1a2.08 2.08 0 1 0 4.16 0a2.08 2.08 0 1 0 -4.16 0M111.1 1081.0a2.08 2.08 0 1 0 4.16 0a2.08 2.08 0 1 0 -4.16 0M104.6 1085.4a2.08 2.08 0 1 0 4.16 0a2.08 2.08 0 1 0 -4.16 0M120.4 1088.6a2.08 2.08 0 1 0 4.16 0a2.08 2.08 0 1 0 -4.16 0M136.1 1094.5a2.08 2.08 0 1 0 4.16 0a2.08 2.08 0 1 0 -4.16 0" fill="#0a0a0a"/>
<path d="M189.9 656.2a1.98 1.98 0 1 0 3.96 0a1.98 1.98 0 1 0 -3.96 0M186.7 664.1a1.98 1.98 0 1 0 3.96 0a1.98 1.98 0 1 0 -3.96 0M183.6 672.1a1.98 1.98 0 1 0 3.96 0a1.98 1.98 0 1 0 -3.96 0M180.4 680.1a1.98 1.98 0 1 0 3.96 0a1.98 1.98 0 1 0 -3.96 0M177.2 688.5a1.98 1.98 0 1 0 3.96 0a1.98 1.98 0 1 0 -3.96 0M174.1 696.7a1.98 1.98 0 1 0 3.96 0a1.98 1.98 0 1 0 -3.96 0M170.9 705.2a1.98 1.98 0 1 0 3.96 0a1.98 1.98 0 1 0 -3.96 0M167.8 713.8a1.98 1.98 0 1 0 3.96 0a1.98 1.98 0 1 0 -3.96 0M164.6 722.3a1.98 1.98 0 1 0 3.96 0a1.98 1.98 0 1 0 -3.96 0M161.5 730.3a1.98 1.98 0 1 0 3.96 0a1.98 1.98 0 1 0 -3.96 0M158.5 738.4a1.98 1.98 0 1 0 3.96 0a1.98 1.98 0 1 0 -3.96 0M158.3 1047.2a1.98 1.98 0 1 0 3.96 0a1.98 1.98 0 1 0 -3.96 0M161.5 1054.8a1.98 1.98 0 1 0 3.96 0a1.98 1.98 0 1 0 -3.96 0M164.6 1063.1a1.98 1.98 0 1 0 3.96 0a1.98 1.98 0 1 0 -3.96 0M167.7 1071.7a1.98 1.98 0 1 0 3.96 0a1.98 1.98 0 1 0 -3.96 0M170.8 1080.2a1.98 1.98 0 1 0 3.96 0a1.98 1.98 0 1 0 -3.96 0M174.0 1088.6a1.98 1.98 0 1 0 3.96 0a1.98 1.98 0 1 0 -3.96 0M177.3 1097.0a1.98 1.98 0 1 0 3.96 0a1.98 1.98 0 1 0 -3.96 0M180.5 1105.2a1.98 1.98 0 1 0 3.96 0a1.98 1.98 0 1 0 -3.96 0M183.6 1113.3a1.98 1.98 0 1 0 3.96 0a1.98 1.98 0 1 0 -3.96 0M186.8 1121.3a1.98 1.98 0 1 0 3.96 0a1.98 1.98 0 1 0 -3.96 0M190.1 1129.1a1.98 1.98 0 1 0 3.96 0a1.98 1.98 0 1 0 -3.96 0" fill="#0a0a0a"/>
<path d="M139.4 768.3a1.85 1.85 0 1 0 3.7 0a1.85 1.85 0 1 0 -3.7 0M139.4 770.2a1.85 1.85 0 1 0 3.7 0a1.85 1.85 0 1 0 -3.7 0M139.4 773.1a1.85 1.85 0 1 0 3.7 0a1.85 1.85 0 1 0 -3.7 0M139.3 776.0a1.85 1.85 0 1 0 3.7 0a1.85 1.85 0 1 0 -3.7 0M139.5 778.7a1.85 1.85 0 1 0 3.7 0a1.85 1.85 0 1 0 -3.7 0M139.4 781.1a1.85 1.85 0 1 0 3.7 0a1.85 1.85 0 1 0 -3.7 0M142.7 768.4a1.85 1.85 0 1 0 3.7 0a1.85 1.85 0 1 0 -3.7 0M142.8 770.1a1.85 1.85 0 1 0 3.7 0a1.85 1.85 0 1 0 -3.7 0M143.5 772.8a1.85 1.85 0 1 0 3.7 0a1.85 1.85 0 1 0 -3.7 0M143.2 775.7a1.85 1.85 0 1 0 3.7 0a1.85 1.85 0 1 0 -3.7 0M143.6 777.9a1.85 1.85 0 1 0 3.7 0a1.85 1.85 0 1 0 -3.7 0M143.4 780.3a1.85 1.85 0 1 0 3.7 0a1.85 1.85 0 1 0 -3.7 0M139.6 804.5a1.85 1.85 0 1 0 3.7 0a1.85 1.85 0 1 0 -3.7 0M139.3 807.0a1.85 1.85 0 1 0 3.7 0a1.85 1.85 0 1 0 -3.7 0M139.7 808.9a1.85 1.85 0 1 0 3.7 0a1.85 1.85 0 1 0 -3.7 0M139.4 811.2a1.85 1.85 0 1 0 3.7 0a1.85 1.85 0 1 0 -3.7 0M139.5 813.6a1.85 1.85 0 1 0 3.7 0a1.85 1.85 0 1 0 -3.7 0M139.7 816.6a1.85 1.85 0 1 0 3.7 0a1.85 1.85 0 1 0 -3.7 0M139.4 819.3a1.85 1.85 0 1 0 3.7 0a1.85 1.85 0 1 0 -3.7 0M139.9 822.0a1.85 1.85 0 1 0 3.7 0a1.85 1.85 0 1 0 -3.7 0M139.9 823.9a1.85 1.85 0 1 0 3.7 0a1.85 1.85 0 1 0 -3.7 0M142.7 803.6a1.85 1.85 0 1 0 3.7 0a1.85 1.85 0 1 0 -3.7 0M143.3 805.7a1.85 1.85 0 1 0 3.7 0a1.85 1.85 0 1 0 -3.7 0M143.3 808.7a1.85 1.85 0 1 0 3.7 0a1.85 1.85 0 1 0 -3.7 0M142.9 810.7a1.85 1.85 0 1 0 3.7 0a1.85 1.85 0 1 0 -3.7 0M142.7 813.3a1.85 1.85 0 1 0 3.7 0a1.85 1.85 0 1 0 -3.7 0M143.2 815.7a1.85 1.85 0 1 0 3.7 0a1.85 1.85 0 1 0 -3.7 0M142.6 817.7a1.85 1.85 0 1 0 3.7 0a1.85 1.85 0 1 0 -3.7 0M142.9 820.3a1.85 1.85 0 1 0 3.7 0a1.85 1.85 0 1 0 -3.7 0M143.0 823.4a1.85 1.85 0 1 0 3.7 0a1.85 1.85 0 1 0 -3.7 0M146.2 805.8a1.85 1.85 0 1 0 3.7 0a1.85 1.85 0 1 0 -3.7 0M146.0 809.0a1.85 1.85 0 1 0 3.7 0a1.85 1.85 0 1 0 -3.7 0M146.2 811.7a1.85 1.85 0 1 0 3.7 0a1.85 1.85 0 1 0 -3.7 0M146.8 813.5a1.85 1.85 0 1 0 3.7 0a1.85 1.85 0 1 0 -3.7 0M146.3 816.6a1.85 1.85 0 1 0 3.7 0a1.85 1.85 0 1 0 -3.7 0M146.6 819.7a1.85 1.85 0 1 0 3.7 0a1.85 1.85 0 1 0 -3.7 0M146.3 822.5a1.85 1.85 0 1 0 3.7 0a1.85 1.85 0 1 0 -3.7 0M149.6 807.5a1.85 1.85 0 1 0 3.7 0a1.85 1.85 0 1 0 -3.7 0M149.6 810.7a1.85 1.85 0 1 0 3.7 0a1.85 1.85 0 1 0 -3.7 0M149.3 813.0a1.85 1.85 0 1 0 3.7 0a1.85 1.85 0 1 0 -3.7 0M149.4 815.7a1.85 1.85 0 1 0 3.7 0a1.85 1.85 0 1 0 -3.7 0M104.6 837.0a1.85 1.85 0 1 0 3.7 0a1.85 1.85 0 1 0 -3.7 0M104.8 839.8a1.85 1.85 0 1 0 3.7 0a1.85 1.85 0 1 0 -3.7 0M105.1 842.2a1.85 1.85 0 1 0 3.7 0a1.85 1.85 0 1 0 -3.7 0M104.8 845.2a1.85 1.85 0 1 0 3.7 0a1.85 1.85 0 1 0 -3.7 0M104.9 847.2a1.85 1.85 0 1 0 3.7 0a1.85 1.85 0 1 0 -3.7 0M104.7 850.2a1.85 1.85 0 1 0 3.7 0a1.85 1.85 0 1 0 -3.7 0M104.8 852.5a1.85 1.85 0 1 0 3.7 0a1.85 1.85 0 1 0 -3.7 0M104.7 855.0a1.85 1.85 0 1 0 3.7 0a1.85 1.85 0 1 0 -3.7 0M104.4 856.9a1.85 1.85 0 1 0 3.7 0a1.85 1.85 0 1 0 -3.7 0M105.0 859.8a1.85 1.85 0 1 0 3.7 0a1.85 1.85 0 1 0 -3.7 0M104.8 862.2a1.85 1.85 0 1 0 3.7 0a1.85 1.85 0 1 0 -3.7 0M104.8 864.5a1.85 1.85 0 1 0 3.7 0a1.85 1.85 0 1 0 -3.7 0M105.1 867.0a1.85 1.85 0 1 0 3.7 0a1.85 1.85 0 1 0 -3.7 0M105.0 869.5a1.85 1.85 0 1 0 3.7 0a1.85 1.85 0 1 0 -3.7 0M104.6 872.1a1.85 1.85 0 1 0 3.7 0a1.85 1.85 0 1 0 -3.7 0M105.1 874.5a1.85 1.85 0 1 0 3.7 0a1.85 1.85 0 1 0 -3.7 0M102.1 871.5a1.85 1.85 0 1 0 3.7 0a1.85 1.85 0 1 0 -3.7 0M102.4 874.3a1.85 1.85 0 1 0 3.7 0a1.85 1.85 0 1 0 -3.7 0M102.5 876.3a1.85 1.85 0 1 0 3.7 0a1.85 1.85 0 1 0 -3.7 0M102.0 878.8a1.85 1.85 0 1 0 3.7 0a1.85 1.85 0 1 0 -3.7 0M102.7 881.1a1.85 1.85 0 1 0 3.7 0a1.85 1.85 0 1 0 -3.7 0M102.8 884.0a1.85 1.85 0 1 0 3.7 0a1.85 1.85 0 1 0 -3.7 0M101.9 885.8a1.85 1.85 0 1 0 3.7 0a1.85 1.85 0 1 0 -3.7 0M98.6 876.1a1.85 1.85 0 1 0 3.7 0a1.85 1.85 0 1 0 -3.7 0M98.5 878.5a1.85 1.85 0 1 0 3.7 0a1.85 1.85 0 1 0 -3.7 0M98.7 881.2a1.85 1.85 0 1 0 3.7 0a1.85 1.85 0 1 0 -3.7 0M98.9 883.8a1.85 1.85 0 1 0 3.7 0a1.85 1.85 0 1 0 -3.7 0M98.5 886.0a1.85 1.85 0 1 0 3.7 0a1.85 1.85 0 1 0 -3.7 0M98.6 888.8a1.85 1.85 0 1 0 3.7 0a1.85 1.85 0 1 0 -3.7 0M98.2 891.3a1.85 1.85 0 1 0 3.7 0a1.85 1.85 0 1 0 -3.7 0M98.4 893.9a1.85 1.85 0 1 0 3.7 0a1.85 1.85 0 1 0 -3.7 0M99.0 895.9a1.85 1.85 0 1 0 3.7 0a1.85 1.85 0 1 0 -3.7 0M98.3 898.3a1.85 1.85 0 1 0 3.7 0a1.85 1.85 0 1 0 -3.7 0M98.3 901.3a1.85 1.85 0 1 0 3.7 0a1.85 1.85 0 1 0 -3.7 0M98.5 903.4a1.85 1.85 0 1 0 3.7 0a1.85 1.85 0 1 0 -3.7 0M99.0 906.3a1.85 1.85 0 1 0 3.7 0a1.85 1.85 0 1 0 -3.7 0M98.9 909.0a1.85 1.85 0 1 0 3.7 0a1.85 1.85 0 1 0 -3.7 0M98.8 910.9a1.85 1.85 0 1 0 3.7 0a1.85 1.85 0 1 0 -3.7 0M101.6 880.3a1.85 1.85 0 1 0 3.7 0a1.85 1.85 0 1 0 -3.7 0M102.0 882.3a1.85 1.85 0 1 0 3.7 0a1.85 1.85 0 1 0 -3.7 0M101.5 885.4a1.85 1.85 0 1 0 3.7 0a1.85 1.85 0 1 0 -3.7 0M102.1 887.4a1.85 1.85 0 1 0 3.7 0a1.85 1.85 0 1 0 -3.7 0M101.3 889.7a1.85 1.85 0 1 0 3.7 0a1.85 1.85 0 1 0 -3.7 0M102.0 892.9a1.85 1.85 0 1 0 3.7 0a1.85 1.85 0 1 0 -3.7 0M101.9 895.0a1.85 1.85 0 1 0 3.7 0a1.85 1.85 0 1 0 -3.7 0M102.0 897.7a1.85 1.85 0 1 0 3.7 0a1.85 1.85 0 1 0 -3.7 0M101.7 900.5a1.85 1.85 0 1 0 3.7 0a1.85 1.85 0 1 0 -3.7 0M101.4 902.1a1.85 1.85 0 1 0 3.7 0a1.85 1.85 0 1 0 -3.7 0M101.4 905.5a1.85 1.85 0 1 0 3.7 0a1.85 1.85 0 1 0 -3.7 0M104.6 932.3a1.85 1.85 0 1 0 3.7 0a1.85 1.85 0 1 0 -3.7 0M105.2 935.2a1.85 1.85 0 1 0 3.7 0a1.85 1.85 0 1 0 -3.7 0M104.8 937.7a1.85 1.85 0 1 0 3.7 0a1.85 1.85 0 1 0 -3.7 0M104.4 939.4a1.85 1.85 0 1 0 3.7 0a1.85 1.85 0 1 0 -3.7 0M104.8 942.2a1.85 1.85 0 1 0 3.7 0a1.85 1.85 0 1 0 -3.7 0M139.3 966.5a1.85 1.85 0 1 0 3.7 0a1.85 1.85 0 1 0 -3.7 0M139.5 969.6a1.85 1.85 0 1 0 3.7 0a1.85 1.85 0 1 0 -3.7 0M139.6 972.0a1.85 1.85 0 1 0 3.7 0a1.85 1.85 0 1 0 -3.7 0M139.0 974.9a1.85 1.85 0 1 0 3.7 0a1.85 1.85 0 1 0 -3.7 0M143.5 1042.2a1.85 1.85 0 1 0 3.7 0a1.85 1.85 0 1 0 -3.7 0M143.2 1045.4a1.85 1.85 0 1 0 3.7 0a1.85 1.85 0 1 0 -3.7 0M144.1 1047.2a1.85 1.85 0 1 0 3.7 0a1.85 1.85 0 1 0 -3.7 0M146.8 1043.7a1.85 1.85 0 1 0 3.7 0a1.85 1.85 0 1 0 -3.7 0M146.2 1045.6a1.85 1.85 0 1 0 3.7 0a1.85 1.85 0 1 0 -3.7 0M146.6 1047.2a1.85 1.85 0 1 0 3.7 0a1.85 1.85 0 1 0 -3.7 0" fill="#0a0a0a"/>
<line x1="156.30" y1="663.60" x2="154.80" y2="1125.00" stroke="#ed3023" stroke-width="4.5" stroke-dasharray="7.7 8.52" stroke-dashoffset="0" stroke-linecap="round"/>
<line x1="195.40" y1="662.10" x2="194.20" y2="1123.30" stroke="#ed3023" stroke-width="4.5" stroke-dasharray="7.7 8.52" stroke-dashoffset="0" stroke-linecap="round"/>
<line x1="480.30" y1="658.40" x2="482.60" y2="1124.30" stroke="#ee3641" stroke-width="2.3" stroke-dasharray="13.7 7.87" stroke-dashoffset="0"/>
<line x1="626.20" y1="658.40" x2="628.80" y2="1124.30" stroke="#ee3641" stroke-width="2.3" stroke-dasharray="13.7 7.87" stroke-dashoffset="0"/>
<path d="M118.35 1098.80h13.90M118.35 1122.20h13.90M125.30 1098.80V1122.20" fill="none" stroke="#ec1f28" stroke-width="3.1"/>
<path d="M160.30 993.60h24.40M160.30 1015.20h24.40M166.20 993.60V1015.20M178.80 993.60V1015.20" fill="none" stroke="#ec1f28" stroke-width="3.1"/>
<path d="M537.95 1087.40h30.50M537.95 1112.20h30.50M543.13 1087.40V1112.20M553.20 1087.40V1112.20M563.27 1087.40V1112.20" fill="none" stroke="#ec1f28" stroke-width="3.0"/>
<text x="556.50" y="808.70" text-anchor="middle" font-family="Liberation Sans, sans-serif" font-size="21.6" fill="#1a1a1a" textLength="78.3" lengthAdjust="spacingAndGlyphs">61~83.5</text>
<line x1="496.52" y1="825.40" x2="611.78" y2="825.40" stroke="#6a6a6a" stroke-width="2.2"/>
<path d="M485.60 825.40L503.80 818.40L498.34 825.40L503.80 832.40ZM622.70 825.40L604.50 818.40L609.96 825.40L604.50 832.40Z" fill="#111"/>
<path d="M837 892.6H842.5M932 892.6H1243.3M1341.5 892.6H1409" stroke="#0a0a0a" stroke-width="3.6" stroke-linecap="round" fill="none"/>
<polyline points="1243.30 892.60 1244.26 891.14 1245.22 889.69 1246.18 888.23 1247.14 887.29 1248.11 886.66 1249.07 886.10 1250.03 885.59 1250.99 885.11 1251.95 884.66 1252.91 884.23 1253.87 883.83 1254.83 883.44 1255.79 883.08 1256.75 882.72 1257.71 882.38 1258.68 882.05 1259.64 881.74 1260.60 881.43 1261.56 881.13 1262.52 880.84 1263.48 880.56 1264.44 880.28 1265.40 880.01 1266.36 879.75 1267.33 879.49 1268.29 879.24 1269.25 878.99 1270.21 878.75 1271.17 878.52 1272.13 878.28 1273.09 878.06 1274.05 877.83 1275.01 877.61 1275.97 877.40 1276.93 877.18 1277.90 876.98 1278.86 876.77 1279.82 876.57 1280.78 876.37 1281.74 876.17 1282.70 875.98 1283.66 875.79 1284.62 875.60 1285.58 875.41 1286.55 875.23 1287.51 875.05 1288.47 874.87 1289.43 874.69 1290.39 874.52 1291.35 874.35 1292.31 874.18 1293.27 874.01 1294.23 873.84 1295.19 873.68 1296.15 873.52 1297.12 873.36 1298.08 873.20 1299.04 873.04 1300.00 872.89 1300.96 872.73 1301.92 872.58 1302.88 872.43 1303.84 872.28 1304.80 872.13 1305.77 871.99 1306.73 871.84 1307.69 871.70 1308.65 871.56 1309.61 871.41 1310.57 871.28 1311.53 871.14 1312.49 871.00 1313.45 870.87 1314.41 870.73 1315.38 870.60 1316.34 870.47 1317.30 870.33 1318.26 870.20 1319.22 870.08 1320.18 869.95 1321.14 869.82 1322.10 869.70 1323.06 869.57 1324.02 869.45 1324.99 869.33 1325.95 869.20 1326.91 869.08 1327.87 868.96 1328.83 868.85 1329.79 868.73 1330.75 868.61 1331.71 868.50 1332.67 868.38 1333.63 868.27 1334.60 868.15 1335.56 868.04 1336.52 867.93 1337.48 867.82 1338.44 867.71 1339.40 867.60" fill="none" stroke="#0a0a0a" stroke-width="3.8" stroke-linecap="round" stroke-linejoin="round"/>
<polyline points="1243.30 892.60 1244.26 894.06 1245.22 895.51 1246.18 896.97 1247.14 897.91 1248.11 898.54 1249.07 899.10 1250.03 899.61 1250.99 900.09 1251.95 900.54 1252.91 900.97 1253.87 901.37 1254.83 901.76 1255.79 902.12 1256.75 902.48 1257.71 902.82 1258.68 903.15 1259.64 903.46 1260.60 903.77 1261.56 904.07 1262.52 904.36 1263.48 904.64 1264.44 904.92 1265.40 905.19 1266.36 905.45 1267.33 905.71 1268.29 905.96 1269.25 906.21 1270.21 906.45 1271.17 906.68 1272.13 906.92 1273.09 907.14 1274.05 907.37 1275.01 907.59 1275.97 907.80 1276.93 908.02 1277.90 908.22 1278.86 908.43 1279.82 908.63 1280.78 908.83 1281.74 909.03 1282.70 909.22 1283.66 909.41 1284.62 909.60 1285.58 909.79 1286.55 909.97 1287.51 910.15 1288.47 910.33 1289.43 910.51 1290.39 910.68 1291.35 910.85 1292.31 911.02 1293.27 911.19 1294.23 911.36 1295.19 911.52 1296.15 911.68 1297.12 911.84 1298.08 912.00 1299.04 912.16 1300.00 912.31 1300.96 912.47 1301.92 912.62 1302.88 912.77 1303.84 912.92 1304.80 913.07 1305.77 913.21 1306.73 913.36 1307.69 913.50 1308.65 913.64 1309.61 913.79 1310.57 913.92 1311.53 914.06 1312.49 914.20 1313.45 914.33 1314.41 914.47 1315.38 914.60 1316.34 914.73 1317.30 914.87 1318.26 915.00 1319.22 915.12 1320.18 915.25 1321.14 915.38 1322.10 915.50 1323.06 915.63 1324.02 915.75 1324.99 915.87 1325.95 916.00 1326.91 916.12 1327.87 916.24 1328.83 916.35 1329.79 916.47 1330.75 916.59 1331.71 916.70 1332.67 916.82 1333.63 916.93 1334.60 917.05 1335.56 917.16 1336.52 917.27 1337.48 917.38 1338.44 917.49 1339.40 917.60" fill="none" stroke="#0a0a0a" stroke-width="3.8" stroke-linecap="round" stroke-linejoin="round"/>
<path d="M1242.1 888.7a1.5 1.5 0 1 0 3.0 0a1.5 1.5 0 1 0 -3.0 0M1241.9 891.8a1.5 1.5 0 1 0 3.0 0a1.5 1.5 0 1 0 -3.0 0M1242.2 894.0a1.5 1.5 0 1 0 3.0 0a1.5 1.5 0 1 0 -3.0 0M1241.9 896.6a1.5 1.5 0 1 0 3.0 0a1.5 1.5 0 1 0 -3.0 0M1339.8 890.6a1.5 1.5 0 1 0 3.0 0a1.5 1.5 0 1 0 -3.0 0M1339.7 892.9a1.5 1.5 0 1 0 3.0 0a1.5 1.5 0 1 0 -3.0 0M1339.4 895.1a1.5 1.5 0 1 0 3.0 0a1.5 1.5 0 1 0 -3.0 0" fill="#0a0a0a"/>
<path d="M839.4 699.2a2.08 2.08 0 1 0 4.16 0a2.08 2.08 0 1 0 -4.16 0M839.4 703.2a2.08 2.08 0 1 0 4.16 0a2.08 2.08 0 1 0 -4.16 0M842.4 701.7a2.08 2.08 0 1 0 4.16 0a2.08 2.08 0 1 0 -4.16 0M849.0 701.9a2.08 2.08 0 1 0 4.16 0a2.08 2.08 0 1 0 -4.16 0M862.0 700.9a2.08 2.08 0 1 0 4.16 0a2.08 2.08 0 1 0 -4.16 0M846.0 706.7a2.08 2.08 0 1 0 4.16 0a2.08 2.08 0 1 0 -4.16 0M846.0 711.3a2.08 2.08 0 1 0 4.16 0a2.08 2.08 0 1 0 -4.16 0M858.5 710.3a2.08 2.08 0 1 0 4.16 0a2.08 2.08 0 1 0 -4.16 0M855.2 715.8a2.08 2.08 0 1 0 4.16 0a2.08 2.08 0 1 0 -4.16 0M839.7 724.8a2.08 2.08 0 1 0 4.16 0a2.08 2.08 0 1 0 -4.16 0M839.7 731.3a2.08 2.08 0 1 0 4.16 0a2.08 2.08 0 1 0 -4.16 0M839.7 759.0a2.08 2.08 0 1 0 4.16 0a2.08 2.08 0 1 0 -4.16 0M842.9 763.0a2.08 2.08 0 1 0 4.16 0a2.08 2.08 0 1 0 -4.16 0M883.6 744.2a2.08 2.08 0 1 0 4.16 0a2.08 2.08 0 1 0 -4.16 0M880.6 745.9a2.08 2.08 0 1 0 4.16 0a2.08 2.08 0 1 0 -4.16 0M877.3 749.9a2.08 2.08 0 1 0 4.16 0a2.08 2.08 0 1 0 -4.16 0M883.6 754.4a2.08 2.08 0 1 0 4.16 0a2.08 2.08 0 1 0 -4.16 0M877.3 757.0a2.08 2.08 0 1 0 4.16 0a2.08 2.08 0 1 0 -4.16 0M880.6 762.0a2.08 2.08 0 1 0 4.16 0a2.08 2.08 0 1 0 -4.16 0M884.1 764.5a2.08 2.08 0 1 0 4.16 0a2.08 2.08 0 1 0 -4.16 0M887.1 764.5a2.08 2.08 0 1 0 4.16 0a2.08 2.08 0 1 0 -4.16 0M877.6 768.0a2.08 2.08 0 1 0 4.16 0a2.08 2.08 0 1 0 -4.16 0M884.1 768.0a2.08 2.08 0 1 0 4.16 0a2.08 2.08 0 1 0 -4.16 0M893.4 751.4a2.08 2.08 0 1 0 4.16 0a2.08 2.08 0 1 0 -4.16 0M896.7 757.0a2.08 2.08 0 1 0 4.16 0a2.08 2.08 0 1 0 -4.16 0M890.1 761.0a2.08 2.08 0 1 0 4.16 0a2.08 2.08 0 1 0 -4.16 0M893.4 768.0a2.08 2.08 0 1 0 4.16 0a2.08 2.08 0 1 0 -4.16 0M893.4 769.0a2.08 2.08 0 1 0 4.16 0a2.08 2.08 0 1 0 -4.16 0M890.1 791.6a2.08 2.08 0 1 0 4.16 0a2.08 2.08 0 1 0 -4.16 0M890.1 803.1a2.08 2.08 0 1 0 4.16 0a2.08 2.08 0 1 0 -4.16 0M887.1 824.7a2.08 2.08 0 1 0 4.16 0a2.08 2.08 0 1 0 -4.16 0M839.9 773.0a2.08 2.08 0 1 0 4.16 0a2.08 2.08 0 1 0 -4.16 0M839.9 778.0a2.08 2.08 0 1 0 4.16 0a2.08 2.08 0 1 0 -4.16 0M839.9 786.0a2.08 2.08 0 1 0 4.16 0a2.08 2.08 0 1 0 -4.16 0M842.9 788.6a2.08 2.08 0 1 0 4.16 0a2.08 2.08 0 1 0 -4.16 0M839.9 794.6a2.08 2.08 0 1 0 4.16 0a2.08 2.08 0 1 0 -4.16 0M861.5 786.3a2.08 2.08 0 1 0 4.16 0a2.08 2.08 0 1 0 -4.16 0M865.0 794.1a2.08 2.08 0 1 0 4.16 0a2.08 2.08 0 1 0 -4.16 0M868.6 794.6a2.08 2.08 0 1 0 4.16 0a2.08 2.08 0 1 0 -4.16 0M855.2 800.0a2.08 2.08 0 1 0 4.16 0a2.08 2.08 0 1 0 -4.16 0M861.5 802.4a2.08 2.08 0 1 0 4.16 0a2.08 2.08 0 1 0 -4.16 0M849.0 806.7a2.08 2.08 0 1 0 4.16 0a2.08 2.08 0 1 0 -4.16 0M858.5 808.2a2.08 2.08 0 1 0 4.16 0a2.08 2.08 0 1 0 -4.16 0M846.0 818.2a2.08 2.08 0 1 0 4.16 0a2.08 2.08 0 1 0 -4.16 0M855.2 819.2a2.08 2.08 0 1 0 4.16 0a2.08 2.08 0 1 0 -4.16 0M852.0 823.0a2.08 2.08 0 1 0 4.16 0a2.08 2.08 0 1 0 -4.16 0M855.2 823.7a2.08 2.08 0 1 0 4.16 0a2.08 2.08 0 1 0 -4.16 0M858.8 823.2a2.08 2.08 0 1 0 4.16 0a2.08 2.08 0 1 0 -4.16 0M855.2 833.8a2.08 2.08 0 1 0 4.16 0a2.08 2.08 0 1 0 -4.16 0M846.0 842.8a2.08 2.08 0 1 0 4.16 0a2.08 2.08 0 1 0 -4.16 0M849.0 843.3a2.08 2.08 0 1 0 4.16 0a2.08 2.08 0 1 0 -4.16 0M852.5 850.1a2.08 2.08 0 1 0 4.16 0a2.08 2.08 0 1 0 -4.16 0M846.0 854.9a2.08 2.08 0 1 0 4.16 0a2.08 2.08 0 1 0 -4.16 0M849.5 855.2a2.08 2.08 0 1 0 4.16 0a2.08 2.08 0 1 0 -4.16 0M846.0 885.0a2.08 2.08 0 1 0 4.16 0a2.08 2.08 0 1 0 -4.16 0M871.1 855.2a2.08 2.08 0 1 0 4.16 0a2.08 2.08 0 1 0 -4.16 0M871.1 861.9a2.08 2.08 0 1 0 4.16 0a2.08 2.08 0 1 0 -4.16 0M871.1 878.2a2.08 2.08 0 1 0 4.16 0a2.08 2.08 0 1 0 -4.16 0M877.6 865.9a2.08 2.08 0 1 0 4.16 0a2.08 2.08 0 1 0 -4.16 0M880.9 868.9a2.08 2.08 0 1 0 4.16 0a2.08 2.08 0 1 0 -4.16 0M884.1 851.9a2.08 2.08 0 1 0 4.16 0a2.08 2.08 0 1 0 -4.16 0M842.9 864.0a2.08 2.08 0 1 0 4.16 0a2.08 2.08 0 1 0 -4.16 0M849.4 866.0a2.08 2.08 0 1 0 4.16 0a2.08 2.08 0 1 0 -4.16 0M843.4 870.0a2.08 2.08 0 1 0 4.16 0a2.08 2.08 0 1 0 -4.16 0M849.9 873.0a2.08 2.08 0 1 0 4.16 0a2.08 2.08 0 1 0 -4.16 0M843.9 877.0a2.08 2.08 0 1 0 4.16 0a2.08 2.08 0 1 0 -4.16 0M846.0 886.5a2.08 2.08 0 1 0 4.16 0a2.08 2.08 0 1 0 -4.16 0M846.0 899.1a2.08 2.08 0 1 0 4.16 0a2.08 2.08 0 1 0 -4.16 0M842.9 904.1a2.08 2.08 0 1 0 4.16 0a2.08 2.08 0 1 0 -4.16 0M846.5 907.6a2.08 2.08 0 1 0 4.16 0a2.08 2.08 0 1 0 -4.16 0M842.9 912.1a2.08 2.08 0 1 0 4.16 0a2.08 2.08 0 1 0 -4.16 0M846.5 915.1a2.08 2.08 0 1 0 4.16 0a2.08 2.08 0 1 0 -4.16 0M839.9 918.6a2.08 2.08 0 1 0 4.16 0a2.08 2.08 0 1 0 -4.16 0M846.5 919.1a2.08 2.08 0 1 0 4.16 0a2.08 2.08 0 1 0 -4.16 0M849.5 922.2a2.08 2.08 0 1 0 4.16 0a2.08 2.08 0 1 0 -4.16 0M846.0 929.7a2.08 2.08 0 1 0 4.16 0a2.08 2.08 0 1 0 -4.16 0M849.2 933.2a2.08 2.08 0 1 0 4.16 0a2.08 2.08 0 1 0 -4.16 0M842.7 938.0a2.08 2.08 0 1 0 4.16 0a2.08 2.08 0 1 0 -4.16 0M846.0 941.7a2.08 2.08 0 1 0 4.16 0a2.08 2.08 0 1 0 -4.16 0M849.0 945.2a2.08 2.08 0 1 0 4.16 0a2.08 2.08 0 1 0 -4.16 0M852.5 943.7a2.08 2.08 0 1 0 4.16 0a2.08 2.08 0 1 0 -4.16 0M855.2 951.8a2.08 2.08 0 1 0 4.16 0a2.08 2.08 0 1 0 -4.16 0M849.0 954.3a2.08 2.08 0 1 0 4.16 0a2.08 2.08 0 1 0 -4.16 0M855.2 961.3a2.08 2.08 0 1 0 4.16 0a2.08 2.08 0 1 0 -4.16 0M858.5 961.8a2.08 2.08 0 1 0 4.16 0a2.08 2.08 0 1 0 -4.16 0M855.2 965.8a2.08 2.08 0 1 0 4.16 0a2.08 2.08 0 1 0 -4.16 0M846.0 966.5a2.08 2.08 0 1 0 4.16 0a2.08 2.08 0 1 0 -4.16 0M858.5 977.4a2.08 2.08 0 1 0 4.16 0a2.08 2.08 0 1 0 -4.16 0M865.0 979.9a2.08 2.08 0 1 0 4.16 0a2.08 2.08 0 1 0 -4.16 0M861.5 982.9a2.08 2.08 0 1 0 4.16 0a2.08 2.08 0 1 0 -4.16 0M855.2 985.4a2.08 2.08 0 1 0 4.16 0a2.08 2.08 0 1 0 -4.16 0M864.8 988.4a2.08 2.08 0 1 0 4.16 0a2.08 2.08 0 1 0 -4.16 0M861.5 998.7a2.08 2.08 0 1 0 4.16 0a2.08 2.08 0 1 0 -4.16 0M880.9 900.0a2.08 2.08 0 1 0 4.16 0a2.08 2.08 0 1 0 -4.16 0M880.9 902.2a2.08 2.08 0 1 0 4.16 0a2.08 2.08 0 1 0 -4.16 0M871.1 907.1a2.08 2.08 0 1 0 4.16 0a2.08 2.08 0 1 0 -4.16 0M871.1 923.7a2.08 2.08 0 1 0 4.16 0a2.08 2.08 0 1 0 -4.16 0M871.1 929.9a2.08 2.08 0 1 0 4.16 0a2.08 2.08 0 1 0 -4.16 0M877.6 932.7a2.08 2.08 0 1 0 4.16 0a2.08 2.08 0 1 0 -4.16 0M877.6 937.7a2.08 2.08 0 1 0 4.16 0a2.08 2.08 0 1 0 -4.16 0M884.1 951.3a2.08 2.08 0 1 0 4.16 0a2.08 2.08 0 1 0 -4.16 0M881.1 952.3a2.08 2.08 0 1 0 4.16 0a2.08 2.08 0 1 0 -4.16 0M892.3 1018.1a2.08 2.08 0 1 0 4.16 0a2.08 2.08 0 1 0 -4.16 0M877.6 1033.4a2.08 2.08 0 1 0 4.16 0a2.08 2.08 0 1 0 -4.16 0M880.9 1030.1a2.08 2.08 0 1 0 4.16 0a2.08 2.08 0 1 0 -4.16 0M884.1 1029.6a2.08 2.08 0 1 0 4.16 0a2.08 2.08 0 1 0 -4.16 0M879.8 1025.8a2.08 2.08 0 1 0 4.16 0a2.08 2.08 0 1 0 -4.16 0M896.6 1028.5a2.08 2.08 0 1 0 4.16 0a2.08 2.08 0 1 0 -4.16 0M892.3 1034.5a2.08 2.08 0 1 0 4.16 0a2.08 2.08 0 1 0 -4.16 0M897.2 1041.5a2.08 2.08 0 1 0 4.16 0a2.08 2.08 0 1 0 -4.16 0M883.9 1041.3a2.08 2.08 0 1 0 4.16 0a2.08 2.08 0 1 0 -4.16 0M880.5 1047.8a2.08 2.08 0 1 0 4.16 0a2.08 2.08 0 1 0 -4.16 0M887.1 1047.8a2.08 2.08 0 1 0 4.16 0a2.08 2.08 0 1 0 -4.16 0M890.1 1051.3a2.08 2.08 0 1 0 4.16 0a2.08 2.08 0 1 0 -4.16 0M864.9 1049.7a2.08 2.08 0 1 0 4.16 0a2.08 2.08 0 1 0 -4.16 0M868.0 1057.1a2.08 2.08 0 1 0 4.16 0a2.08 2.08 0 1 0 -4.16 0M855.6 1069.6a2.08 2.08 0 1 0 4.16 0a2.08 2.08 0 1 0 -4.16 0M858.6 1075.3a2.08 2.08 0 1 0 4.16 0a2.08 2.08 0 1 0 -4.16 0M846.0 1073.1a2.08 2.08 0 1 0 4.16 0a2.08 2.08 0 1 0 -4.16 0M849.3 1072.5a2.08 2.08 0 1 0 4.16 0a2.08 2.08 0 1 0 -4.16 0M846.0 1079.1a2.08 2.08 0 1 0 4.16 0a2.08 2.08 0 1 0 -4.16 0M852.4 1080.5a2.08 2.08 0 1 0 4.16 0a2.08 2.08 0 1 0 -4.16 0M861.8 1084.5a2.08 2.08 0 1 0 4.16 0a2.08 2.08 0 1 0 -4.16 0M874.5 1081.2a2.08 2.08 0 1 0 4.16 0a2.08 2.08 0 1 0 -4.16 0" fill="#0a0a0a"/>
<path d="M928.2 664.9a1.98 1.98 0 1 0 3.96 0a1.98 1.98 0 1 0 -3.96 0M925.1 672.6a1.98 1.98 0 1 0 3.96 0a1.98 1.98 0 1 0 -3.96 0M921.9 680.4a1.98 1.98 0 1 0 3.96 0a1.98 1.98 0 1 0 -3.96 0M918.8 688.7a1.98 1.98 0 1 0 3.96 0a1.98 1.98 0 1 0 -3.96 0M915.8 696.9a1.98 1.98 0 1 0 3.96 0a1.98 1.98 0 1 0 -3.96 0M912.5 705.0a1.98 1.98 0 1 0 3.96 0a1.98 1.98 0 1 0 -3.96 0M909.3 713.3a1.98 1.98 0 1 0 3.96 0a1.98 1.98 0 1 0 -3.96 0M906.1 721.5a1.98 1.98 0 1 0 3.96 0a1.98 1.98 0 1 0 -3.96 0M903.0 729.3a1.98 1.98 0 1 0 3.96 0a1.98 1.98 0 1 0 -3.96 0M900.0 736.9a1.98 1.98 0 1 0 3.96 0a1.98 1.98 0 1 0 -3.96 0M897.0 743.9a1.98 1.98 0 1 0 3.96 0a1.98 1.98 0 1 0 -3.96 0M900.0 1048.6a1.98 1.98 0 1 0 3.96 0a1.98 1.98 0 1 0 -3.96 0M902.9 1056.2a1.98 1.98 0 1 0 3.96 0a1.98 1.98 0 1 0 -3.96 0M906.2 1064.1a1.98 1.98 0 1 0 3.96 0a1.98 1.98 0 1 0 -3.96 0M909.2 1072.3a1.98 1.98 0 1 0 3.96 0a1.98 1.98 0 1 0 -3.96 0M912.5 1080.5a1.98 1.98 0 1 0 3.96 0a1.98 1.98 0 1 0 -3.96 0M915.6 1088.6a1.98 1.98 0 1 0 3.96 0a1.98 1.98 0 1 0 -3.96 0M918.6 1096.8a1.98 1.98 0 1 0 3.96 0a1.98 1.98 0 1 0 -3.96 0M921.9 1105.0a1.98 1.98 0 1 0 3.96 0a1.98 1.98 0 1 0 -3.96 0M925.0 1112.8a1.98 1.98 0 1 0 3.96 0a1.98 1.98 0 1 0 -3.96 0M928.2 1120.7a1.98 1.98 0 1 0 3.96 0a1.98 1.98 0 1 0 -3.96 0" fill="#0a0a0a"/>
<path d="M878.2 767.7a1.9 1.9 0 1 0 3.8 0a1.9 1.9 0 1 0 -3.8 0M877.0 770.3a1.9 1.9 0 1 0 3.8 0a1.9 1.9 0 1 0 -3.8 0M876.6 771.3a1.9 1.9 0 1 0 3.8 0a1.9 1.9 0 1 0 -3.8 0M877.8 773.4a1.9 1.9 0 1 0 3.8 0a1.9 1.9 0 1 0 -3.8 0M877.2 775.4a1.9 1.9 0 1 0 3.8 0a1.9 1.9 0 1 0 -3.8 0M877.9 777.1a1.9 1.9 0 1 0 3.8 0a1.9 1.9 0 1 0 -3.8 0M878.0 779.5a1.9 1.9 0 1 0 3.8 0a1.9 1.9 0 1 0 -3.8 0M876.6 781.2a1.9 1.9 0 1 0 3.8 0a1.9 1.9 0 1 0 -3.8 0M876.7 783.1a1.9 1.9 0 1 0 3.8 0a1.9 1.9 0 1 0 -3.8 0M877.3 784.5a1.9 1.9 0 1 0 3.8 0a1.9 1.9 0 1 0 -3.8 0M877.2 787.3a1.9 1.9 0 1 0 3.8 0a1.9 1.9 0 1 0 -3.8 0M877.1 788.5a1.9 1.9 0 1 0 3.8 0a1.9 1.9 0 1 0 -3.8 0M878.0 790.6a1.9 1.9 0 1 0 3.8 0a1.9 1.9 0 1 0 -3.8 0M877.3 792.3a1.9 1.9 0 1 0 3.8 0a1.9 1.9 0 1 0 -3.8 0M876.5 794.8a1.9 1.9 0 1 0 3.8 0a1.9 1.9 0 1 0 -3.8 0M877.0 796.4a1.9 1.9 0 1 0 3.8 0a1.9 1.9 0 1 0 -3.8 0M877.5 798.3a1.9 1.9 0 1 0 3.8 0a1.9 1.9 0 1 0 -3.8 0M877.2 800.1a1.9 1.9 0 1 0 3.8 0a1.9 1.9 0 1 0 -3.8 0M876.6 802.0a1.9 1.9 0 1 0 3.8 0a1.9 1.9 0 1 0 -3.8 0M876.6 803.9a1.9 1.9 0 1 0 3.8 0a1.9 1.9 0 1 0 -3.8 0M877.1 805.7a1.9 1.9 0 1 0 3.8 0a1.9 1.9 0 1 0 -3.8 0M878.2 807.3a1.9 1.9 0 1 0 3.8 0a1.9 1.9 0 1 0 -3.8 0M877.0 809.7a1.9 1.9 0 1 0 3.8 0a1.9 1.9 0 1 0 -3.8 0M876.8 811.1a1.9 1.9 0 1 0 3.8 0a1.9 1.9 0 1 0 -3.8 0M877.3 813.3a1.9 1.9 0 1 0 3.8 0a1.9 1.9 0 1 0 -3.8 0M877.6 814.8a1.9 1.9 0 1 0 3.8 0a1.9 1.9 0 1 0 -3.8 0M876.8 816.8a1.9 1.9 0 1 0 3.8 0a1.9 1.9 0 1 0 -3.8 0M876.8 819.3a1.9 1.9 0 1 0 3.8 0a1.9 1.9 0 1 0 -3.8 0M877.5 821.1a1.9 1.9 0 1 0 3.8 0a1.9 1.9 0 1 0 -3.8 0M876.9 822.4a1.9 1.9 0 1 0 3.8 0a1.9 1.9 0 1 0 -3.8 0M878.0 824.0a1.9 1.9 0 1 0 3.8 0a1.9 1.9 0 1 0 -3.8 0M877.0 826.6a1.9 1.9 0 1 0 3.8 0a1.9 1.9 0 1 0 -3.8 0M877.1 828.6a1.9 1.9 0 1 0 3.8 0a1.9 1.9 0 1 0 -3.8 0M877.5 830.4a1.9 1.9 0 1 0 3.8 0a1.9 1.9 0 1 0 -3.8 0M876.8 832.4a1.9 1.9 0 1 0 3.8 0a1.9 1.9 0 1 0 -3.8 0M880.6 767.5a1.9 1.9 0 1 0 3.8 0a1.9 1.9 0 1 0 -3.8 0M880.3 770.0a1.9 1.9 0 1 0 3.8 0a1.9 1.9 0 1 0 -3.8 0M880.7 771.5a1.9 1.9 0 1 0 3.8 0a1.9 1.9 0 1 0 -3.8 0M880.2 773.4a1.9 1.9 0 1 0 3.8 0a1.9 1.9 0 1 0 -3.8 0M880.8 775.3a1.9 1.9 0 1 0 3.8 0a1.9 1.9 0 1 0 -3.8 0M881.6 777.1a1.9 1.9 0 1 0 3.8 0a1.9 1.9 0 1 0 -3.8 0M880.1 779.1a1.9 1.9 0 1 0 3.8 0a1.9 1.9 0 1 0 -3.8 0M881.0 781.3a1.9 1.9 0 1 0 3.8 0a1.9 1.9 0 1 0 -3.8 0M881.0 782.7a1.9 1.9 0 1 0 3.8 0a1.9 1.9 0 1 0 -3.8 0M880.0 785.1a1.9 1.9 0 1 0 3.8 0a1.9 1.9 0 1 0 -3.8 0M881.1 786.5a1.9 1.9 0 1 0 3.8 0a1.9 1.9 0 1 0 -3.8 0M881.3 788.9a1.9 1.9 0 1 0 3.8 0a1.9 1.9 0 1 0 -3.8 0M880.9 791.1a1.9 1.9 0 1 0 3.8 0a1.9 1.9 0 1 0 -3.8 0M880.8 792.4a1.9 1.9 0 1 0 3.8 0a1.9 1.9 0 1 0 -3.8 0M880.8 794.8a1.9 1.9 0 1 0 3.8 0a1.9 1.9 0 1 0 -3.8 0M881.0 796.1a1.9 1.9 0 1 0 3.8 0a1.9 1.9 0 1 0 -3.8 0M880.9 798.3a1.9 1.9 0 1 0 3.8 0a1.9 1.9 0 1 0 -3.8 0M880.0 800.3a1.9 1.9 0 1 0 3.8 0a1.9 1.9 0 1 0 -3.8 0M880.6 801.6a1.9 1.9 0 1 0 3.8 0a1.9 1.9 0 1 0 -3.8 0M880.9 803.5a1.9 1.9 0 1 0 3.8 0a1.9 1.9 0 1 0 -3.8 0M880.3 805.9a1.9 1.9 0 1 0 3.8 0a1.9 1.9 0 1 0 -3.8 0M881.0 807.5a1.9 1.9 0 1 0 3.8 0a1.9 1.9 0 1 0 -3.8 0M880.6 809.6a1.9 1.9 0 1 0 3.8 0a1.9 1.9 0 1 0 -3.8 0M880.3 811.3a1.9 1.9 0 1 0 3.8 0a1.9 1.9 0 1 0 -3.8 0M881.0 813.6a1.9 1.9 0 1 0 3.8 0a1.9 1.9 0 1 0 -3.8 0M881.5 815.1a1.9 1.9 0 1 0 3.8 0a1.9 1.9 0 1 0 -3.8 0M880.6 816.8a1.9 1.9 0 1 0 3.8 0a1.9 1.9 0 1 0 -3.8 0M881.4 819.0a1.9 1.9 0 1 0 3.8 0a1.9 1.9 0 1 0 -3.8 0M880.7 820.9a1.9 1.9 0 1 0 3.8 0a1.9 1.9 0 1 0 -3.8 0M881.1 823.0a1.9 1.9 0 1 0 3.8 0a1.9 1.9 0 1 0 -3.8 0M880.4 824.5a1.9 1.9 0 1 0 3.8 0a1.9 1.9 0 1 0 -3.8 0M880.0 826.3a1.9 1.9 0 1 0 3.8 0a1.9 1.9 0 1 0 -3.8 0M880.6 828.6a1.9 1.9 0 1 0 3.8 0a1.9 1.9 0 1 0 -3.8 0M880.4 829.9a1.9 1.9 0 1 0 3.8 0a1.9 1.9 0 1 0 -3.8 0M881.4 832.2a1.9 1.9 0 1 0 3.8 0a1.9 1.9 0 1 0 -3.8 0M885.0 768.9a1.9 1.9 0 1 0 3.8 0a1.9 1.9 0 1 0 -3.8 0M883.6 771.0a1.9 1.9 0 1 0 3.8 0a1.9 1.9 0 1 0 -3.8 0M883.3 772.3a1.9 1.9 0 1 0 3.8 0a1.9 1.9 0 1 0 -3.8 0M884.2 774.4a1.9 1.9 0 1 0 3.8 0a1.9 1.9 0 1 0 -3.8 0M883.8 776.7a1.9 1.9 0 1 0 3.8 0a1.9 1.9 0 1 0 -3.8 0M884.9 779.0a1.9 1.9 0 1 0 3.8 0a1.9 1.9 0 1 0 -3.8 0M884.6 780.6a1.9 1.9 0 1 0 3.8 0a1.9 1.9 0 1 0 -3.8 0M883.9 782.8a1.9 1.9 0 1 0 3.8 0a1.9 1.9 0 1 0 -3.8 0M883.4 783.9a1.9 1.9 0 1 0 3.8 0a1.9 1.9 0 1 0 -3.8 0M883.5 786.5a1.9 1.9 0 1 0 3.8 0a1.9 1.9 0 1 0 -3.8 0M884.9 787.7a1.9 1.9 0 1 0 3.8 0a1.9 1.9 0 1 0 -3.8 0M883.5 790.1a1.9 1.9 0 1 0 3.8 0a1.9 1.9 0 1 0 -3.8 0M885.0 792.0a1.9 1.9 0 1 0 3.8 0a1.9 1.9 0 1 0 -3.8 0M885.0 793.8a1.9 1.9 0 1 0 3.8 0a1.9 1.9 0 1 0 -3.8 0M884.1 796.1a1.9 1.9 0 1 0 3.8 0a1.9 1.9 0 1 0 -3.8 0M883.7 797.3a1.9 1.9 0 1 0 3.8 0a1.9 1.9 0 1 0 -3.8 0M884.6 799.8a1.9 1.9 0 1 0 3.8 0a1.9 1.9 0 1 0 -3.8 0M885.0 801.7a1.9 1.9 0 1 0 3.8 0a1.9 1.9 0 1 0 -3.8 0M884.0 803.7a1.9 1.9 0 1 0 3.8 0a1.9 1.9 0 1 0 -3.8 0M884.5 805.5a1.9 1.9 0 1 0 3.8 0a1.9 1.9 0 1 0 -3.8 0M884.1 807.1a1.9 1.9 0 1 0 3.8 0a1.9 1.9 0 1 0 -3.8 0M884.8 809.3a1.9 1.9 0 1 0 3.8 0a1.9 1.9 0 1 0 -3.8 0M883.9 811.0a1.9 1.9 0 1 0 3.8 0a1.9 1.9 0 1 0 -3.8 0M884.5 813.1a1.9 1.9 0 1 0 3.8 0a1.9 1.9 0 1 0 -3.8 0M883.9 814.9a1.9 1.9 0 1 0 3.8 0a1.9 1.9 0 1 0 -3.8 0M884.5 816.8a1.9 1.9 0 1 0 3.8 0a1.9 1.9 0 1 0 -3.8 0M884.0 819.0a1.9 1.9 0 1 0 3.8 0a1.9 1.9 0 1 0 -3.8 0M884.8 820.2a1.9 1.9 0 1 0 3.8 0a1.9 1.9 0 1 0 -3.8 0M884.5 822.3a1.9 1.9 0 1 0 3.8 0a1.9 1.9 0 1 0 -3.8 0M884.4 824.5a1.9 1.9 0 1 0 3.8 0a1.9 1.9 0 1 0 -3.8 0M883.3 825.8a1.9 1.9 0 1 0 3.8 0a1.9 1.9 0 1 0 -3.8 0M884.6 827.9a1.9 1.9 0 1 0 3.8 0a1.9 1.9 0 1 0 -3.8 0M884.8 830.0a1.9 1.9 0 1 0 3.8 0a1.9 1.9 0 1 0 -3.8 0M883.0 775.6a1.9 1.9 0 1 0 3.8 0a1.9 1.9 0 1 0 -3.8 0M883.3 778.2a1.9 1.9 0 1 0 3.8 0a1.9 1.9 0 1 0 -3.8 0M882.9 779.7a1.9 1.9 0 1 0 3.8 0a1.9 1.9 0 1 0 -3.8 0M882.8 781.4a1.9 1.9 0 1 0 3.8 0a1.9 1.9 0 1 0 -3.8 0M883.2 784.1a1.9 1.9 0 1 0 3.8 0a1.9 1.9 0 1 0 -3.8 0M882.3 785.3a1.9 1.9 0 1 0 3.8 0a1.9 1.9 0 1 0 -3.8 0M883.2 787.7a1.9 1.9 0 1 0 3.8 0a1.9 1.9 0 1 0 -3.8 0M883.1 789.2a1.9 1.9 0 1 0 3.8 0a1.9 1.9 0 1 0 -3.8 0M883.4 791.5a1.9 1.9 0 1 0 3.8 0a1.9 1.9 0 1 0 -3.8 0M882.2 793.3a1.9 1.9 0 1 0 3.8 0a1.9 1.9 0 1 0 -3.8 0M882.3 795.2a1.9 1.9 0 1 0 3.8 0a1.9 1.9 0 1 0 -3.8 0M883.3 797.5a1.9 1.9 0 1 0 3.8 0a1.9 1.9 0 1 0 -3.8 0M882.1 798.7a1.9 1.9 0 1 0 3.8 0a1.9 1.9 0 1 0 -3.8 0M882.7 801.3a1.9 1.9 0 1 0 3.8 0a1.9 1.9 0 1 0 -3.8 0M881.9 802.5a1.9 1.9 0 1 0 3.8 0a1.9 1.9 0 1 0 -3.8 0M881.8 804.8a1.9 1.9 0 1 0 3.8 0a1.9 1.9 0 1 0 -3.8 0M883.2 806.5a1.9 1.9 0 1 0 3.8 0a1.9 1.9 0 1 0 -3.8 0M882.7 808.8a1.9 1.9 0 1 0 3.8 0a1.9 1.9 0 1 0 -3.8 0M882.2 810.9a1.9 1.9 0 1 0 3.8 0a1.9 1.9 0 1 0 -3.8 0M882.6 812.9a1.9 1.9 0 1 0 3.8 0a1.9 1.9 0 1 0 -3.8 0M883.3 814.9a1.9 1.9 0 1 0 3.8 0a1.9 1.9 0 1 0 -3.8 0M882.2 816.9a1.9 1.9 0 1 0 3.8 0a1.9 1.9 0 1 0 -3.8 0M882.3 818.0a1.9 1.9 0 1 0 3.8 0a1.9 1.9 0 1 0 -3.8 0M882.5 820.4a1.9 1.9 0 1 0 3.8 0a1.9 1.9 0 1 0 -3.8 0M881.7 822.4a1.9 1.9 0 1 0 3.8 0a1.9 1.9 0 1 0 -3.8 0M881.7 823.9a1.9 1.9 0 1 0 3.8 0a1.9 1.9 0 1 0 -3.8 0M883.1 826.4a1.9 1.9 0 1 0 3.8 0a1.9 1.9 0 1 0 -3.8 0M878.7 772.5a1.9 1.9 0 1 0 3.8 0a1.9 1.9 0 1 0 -3.8 0M879.6 773.6a1.9 1.9 0 1 0 3.8 0a1.9 1.9 0 1 0 -3.8 0M879.1 775.4a1.9 1.9 0 1 0 3.8 0a1.9 1.9 0 1 0 -3.8 0M878.9 778.0a1.9 1.9 0 1 0 3.8 0a1.9 1.9 0 1 0 -3.8 0M879.2 779.9a1.9 1.9 0 1 0 3.8 0a1.9 1.9 0 1 0 -3.8 0M879.6 781.5a1.9 1.9 0 1 0 3.8 0a1.9 1.9 0 1 0 -3.8 0M879.4 784.1a1.9 1.9 0 1 0 3.8 0a1.9 1.9 0 1 0 -3.8 0M878.9 785.0a1.9 1.9 0 1 0 3.8 0a1.9 1.9 0 1 0 -3.8 0M878.9 787.0a1.9 1.9 0 1 0 3.8 0a1.9 1.9 0 1 0 -3.8 0M878.8 789.0a1.9 1.9 0 1 0 3.8 0a1.9 1.9 0 1 0 -3.8 0M879.4 791.0a1.9 1.9 0 1 0 3.8 0a1.9 1.9 0 1 0 -3.8 0M879.0 793.7a1.9 1.9 0 1 0 3.8 0a1.9 1.9 0 1 0 -3.8 0M878.5 795.2a1.9 1.9 0 1 0 3.8 0a1.9 1.9 0 1 0 -3.8 0M878.5 797.3a1.9 1.9 0 1 0 3.8 0a1.9 1.9 0 1 0 -3.8 0M879.3 799.5a1.9 1.9 0 1 0 3.8 0a1.9 1.9 0 1 0 -3.8 0M879.1 800.6a1.9 1.9 0 1 0 3.8 0a1.9 1.9 0 1 0 -3.8 0M879.7 802.6a1.9 1.9 0 1 0 3.8 0a1.9 1.9 0 1 0 -3.8 0M879.5 804.8a1.9 1.9 0 1 0 3.8 0a1.9 1.9 0 1 0 -3.8 0M878.4 806.9a1.9 1.9 0 1 0 3.8 0a1.9 1.9 0 1 0 -3.8 0M879.9 808.4a1.9 1.9 0 1 0 3.8 0a1.9 1.9 0 1 0 -3.8 0M879.5 810.8a1.9 1.9 0 1 0 3.8 0a1.9 1.9 0 1 0 -3.8 0M879.2 812.6a1.9 1.9 0 1 0 3.8 0a1.9 1.9 0 1 0 -3.8 0M878.8 814.1a1.9 1.9 0 1 0 3.8 0a1.9 1.9 0 1 0 -3.8 0M879.9 816.2a1.9 1.9 0 1 0 3.8 0a1.9 1.9 0 1 0 -3.8 0M878.6 818.2a1.9 1.9 0 1 0 3.8 0a1.9 1.9 0 1 0 -3.8 0M879.1 819.9a1.9 1.9 0 1 0 3.8 0a1.9 1.9 0 1 0 -3.8 0M879.2 821.7a1.9 1.9 0 1 0 3.8 0a1.9 1.9 0 1 0 -3.8 0M878.2 823.7a1.9 1.9 0 1 0 3.8 0a1.9 1.9 0 1 0 -3.8 0M878.7 825.9a1.9 1.9 0 1 0 3.8 0a1.9 1.9 0 1 0 -3.8 0M879.6 828.2a1.9 1.9 0 1 0 3.8 0a1.9 1.9 0 1 0 -3.8 0M878.1 833.6a1.9 1.9 0 1 0 3.8 0a1.9 1.9 0 1 0 -3.8 0M877.5 836.4a1.9 1.9 0 1 0 3.8 0a1.9 1.9 0 1 0 -3.8 0M877.6 837.6a1.9 1.9 0 1 0 3.8 0a1.9 1.9 0 1 0 -3.8 0M878.0 839.7a1.9 1.9 0 1 0 3.8 0a1.9 1.9 0 1 0 -3.8 0M877.2 841.8a1.9 1.9 0 1 0 3.8 0a1.9 1.9 0 1 0 -3.8 0M877.6 843.9a1.9 1.9 0 1 0 3.8 0a1.9 1.9 0 1 0 -3.8 0M878.4 846.1a1.9 1.9 0 1 0 3.8 0a1.9 1.9 0 1 0 -3.8 0M877.0 847.8a1.9 1.9 0 1 0 3.8 0a1.9 1.9 0 1 0 -3.8 0M876.7 850.2a1.9 1.9 0 1 0 3.8 0a1.9 1.9 0 1 0 -3.8 0M881.2 835.9a1.9 1.9 0 1 0 3.8 0a1.9 1.9 0 1 0 -3.8 0M880.5 838.1a1.9 1.9 0 1 0 3.8 0a1.9 1.9 0 1 0 -3.8 0M881.3 840.2a1.9 1.9 0 1 0 3.8 0a1.9 1.9 0 1 0 -3.8 0M880.8 841.3a1.9 1.9 0 1 0 3.8 0a1.9 1.9 0 1 0 -3.8 0M880.6 843.5a1.9 1.9 0 1 0 3.8 0a1.9 1.9 0 1 0 -3.8 0M880.9 845.0a1.9 1.9 0 1 0 3.8 0a1.9 1.9 0 1 0 -3.8 0M881.2 847.0a1.9 1.9 0 1 0 3.8 0a1.9 1.9 0 1 0 -3.8 0M881.1 848.8a1.9 1.9 0 1 0 3.8 0a1.9 1.9 0 1 0 -3.8 0M881.6 850.7a1.9 1.9 0 1 0 3.8 0a1.9 1.9 0 1 0 -3.8 0M881.8 852.8a1.9 1.9 0 1 0 3.8 0a1.9 1.9 0 1 0 -3.8 0M878.1 853.4a1.9 1.9 0 1 0 3.8 0a1.9 1.9 0 1 0 -3.8 0M878.0 855.6a1.9 1.9 0 1 0 3.8 0a1.9 1.9 0 1 0 -3.8 0M878.6 857.5a1.9 1.9 0 1 0 3.8 0a1.9 1.9 0 1 0 -3.8 0M877.6 873.7a1.9 1.9 0 1 0 3.8 0a1.9 1.9 0 1 0 -3.8 0M878.6 875.0a1.9 1.9 0 1 0 3.8 0a1.9 1.9 0 1 0 -3.8 0M877.0 877.2a1.9 1.9 0 1 0 3.8 0a1.9 1.9 0 1 0 -3.8 0M846.7 861.9a1.9 1.9 0 1 0 3.8 0a1.9 1.9 0 1 0 -3.8 0M847.0 863.2a1.9 1.9 0 1 0 3.8 0a1.9 1.9 0 1 0 -3.8 0M846.6 865.6a1.9 1.9 0 1 0 3.8 0a1.9 1.9 0 1 0 -3.8 0M846.9 867.0a1.9 1.9 0 1 0 3.8 0a1.9 1.9 0 1 0 -3.8 0M846.7 869.1a1.9 1.9 0 1 0 3.8 0a1.9 1.9 0 1 0 -3.8 0M845.7 870.8a1.9 1.9 0 1 0 3.8 0a1.9 1.9 0 1 0 -3.8 0M846.6 872.5a1.9 1.9 0 1 0 3.8 0a1.9 1.9 0 1 0 -3.8 0M847.0 874.5a1.9 1.9 0 1 0 3.8 0a1.9 1.9 0 1 0 -3.8 0M845.9 876.8a1.9 1.9 0 1 0 3.8 0a1.9 1.9 0 1 0 -3.8 0M846.3 878.4a1.9 1.9 0 1 0 3.8 0a1.9 1.9 0 1 0 -3.8 0M842.6 876.5a1.9 1.9 0 1 0 3.8 0a1.9 1.9 0 1 0 -3.8 0M842.2 878.4a1.9 1.9 0 1 0 3.8 0a1.9 1.9 0 1 0 -3.8 0M841.8 880.4a1.9 1.9 0 1 0 3.8 0a1.9 1.9 0 1 0 -3.8 0M841.8 881.6a1.9 1.9 0 1 0 3.8 0a1.9 1.9 0 1 0 -3.8 0M841.4 883.7a1.9 1.9 0 1 0 3.8 0a1.9 1.9 0 1 0 -3.8 0M842.3 886.1a1.9 1.9 0 1 0 3.8 0a1.9 1.9 0 1 0 -3.8 0M842.5 888.1a1.9 1.9 0 1 0 3.8 0a1.9 1.9 0 1 0 -3.8 0M838.9 886.2a1.9 1.9 0 1 0 3.8 0a1.9 1.9 0 1 0 -3.8 0M838.8 888.3a1.9 1.9 0 1 0 3.8 0a1.9 1.9 0 1 0 -3.8 0M839.7 889.7a1.9 1.9 0 1 0 3.8 0a1.9 1.9 0 1 0 -3.8 0M838.5 892.1a1.9 1.9 0 1 0 3.8 0a1.9 1.9 0 1 0 -3.8 0M838.8 893.8a1.9 1.9 0 1 0 3.8 0a1.9 1.9 0 1 0 -3.8 0M839.6 895.8a1.9 1.9 0 1 0 3.8 0a1.9 1.9 0 1 0 -3.8 0M839.0 898.1a1.9 1.9 0 1 0 3.8 0a1.9 1.9 0 1 0 -3.8 0M838.3 899.3a1.9 1.9 0 1 0 3.8 0a1.9 1.9 0 1 0 -3.8 0M838.2 901.9a1.9 1.9 0 1 0 3.8 0a1.9 1.9 0 1 0 -3.8 0M838.3 903.4a1.9 1.9 0 1 0 3.8 0a1.9 1.9 0 1 0 -3.8 0M839.6 905.2a1.9 1.9 0 1 0 3.8 0a1.9 1.9 0 1 0 -3.8 0M839.5 907.6a1.9 1.9 0 1 0 3.8 0a1.9 1.9 0 1 0 -3.8 0M839.3 909.7a1.9 1.9 0 1 0 3.8 0a1.9 1.9 0 1 0 -3.8 0M839.0 911.2a1.9 1.9 0 1 0 3.8 0a1.9 1.9 0 1 0 -3.8 0M838.5 913.1a1.9 1.9 0 1 0 3.8 0a1.9 1.9 0 1 0 -3.8 0M838.2 915.2a1.9 1.9 0 1 0 3.8 0a1.9 1.9 0 1 0 -3.8 0M838.6 916.7a1.9 1.9 0 1 0 3.8 0a1.9 1.9 0 1 0 -3.8 0M838.8 918.9a1.9 1.9 0 1 0 3.8 0a1.9 1.9 0 1 0 -3.8 0M842.4 887.9a1.9 1.9 0 1 0 3.8 0a1.9 1.9 0 1 0 -3.8 0M841.2 890.1a1.9 1.9 0 1 0 3.8 0a1.9 1.9 0 1 0 -3.8 0M842.6 891.3a1.9 1.9 0 1 0 3.8 0a1.9 1.9 0 1 0 -3.8 0M841.1 893.9a1.9 1.9 0 1 0 3.8 0a1.9 1.9 0 1 0 -3.8 0M842.3 894.9a1.9 1.9 0 1 0 3.8 0a1.9 1.9 0 1 0 -3.8 0M841.6 897.4a1.9 1.9 0 1 0 3.8 0a1.9 1.9 0 1 0 -3.8 0M842.5 898.8a1.9 1.9 0 1 0 3.8 0a1.9 1.9 0 1 0 -3.8 0M842.5 900.5a1.9 1.9 0 1 0 3.8 0a1.9 1.9 0 1 0 -3.8 0M842.5 902.3a1.9 1.9 0 1 0 3.8 0a1.9 1.9 0 1 0 -3.8 0M841.9 904.9a1.9 1.9 0 1 0 3.8 0a1.9 1.9 0 1 0 -3.8 0M842.3 906.6a1.9 1.9 0 1 0 3.8 0a1.9 1.9 0 1 0 -3.8 0M841.0 908.2a1.9 1.9 0 1 0 3.8 0a1.9 1.9 0 1 0 -3.8 0M841.1 909.8a1.9 1.9 0 1 0 3.8 0a1.9 1.9 0 1 0 -3.8 0M842.0 911.6a1.9 1.9 0 1 0 3.8 0a1.9 1.9 0 1 0 -3.8 0M878.7 910.7a1.9 1.9 0 1 0 3.8 0a1.9 1.9 0 1 0 -3.8 0M877.9 912.4a1.9 1.9 0 1 0 3.8 0a1.9 1.9 0 1 0 -3.8 0M877.8 914.4a1.9 1.9 0 1 0 3.8 0a1.9 1.9 0 1 0 -3.8 0M877.3 915.8a1.9 1.9 0 1 0 3.8 0a1.9 1.9 0 1 0 -3.8 0M878.7 917.1a1.9 1.9 0 1 0 3.8 0a1.9 1.9 0 1 0 -3.8 0M878.2 919.4a1.9 1.9 0 1 0 3.8 0a1.9 1.9 0 1 0 -3.8 0M878.1 921.4a1.9 1.9 0 1 0 3.8 0a1.9 1.9 0 1 0 -3.8 0M877.4 923.2a1.9 1.9 0 1 0 3.8 0a1.9 1.9 0 1 0 -3.8 0M878.4 924.7a1.9 1.9 0 1 0 3.8 0a1.9 1.9 0 1 0 -3.8 0M878.0 926.5a1.9 1.9 0 1 0 3.8 0a1.9 1.9 0 1 0 -3.8 0M880.7 910.7a1.9 1.9 0 1 0 3.8 0a1.9 1.9 0 1 0 -3.8 0M880.4 912.7a1.9 1.9 0 1 0 3.8 0a1.9 1.9 0 1 0 -3.8 0M880.5 914.9a1.9 1.9 0 1 0 3.8 0a1.9 1.9 0 1 0 -3.8 0M881.2 917.1a1.9 1.9 0 1 0 3.8 0a1.9 1.9 0 1 0 -3.8 0M880.6 918.8a1.9 1.9 0 1 0 3.8 0a1.9 1.9 0 1 0 -3.8 0M880.7 921.1a1.9 1.9 0 1 0 3.8 0a1.9 1.9 0 1 0 -3.8 0M880.6 923.0a1.9 1.9 0 1 0 3.8 0a1.9 1.9 0 1 0 -3.8 0M881.5 924.9a1.9 1.9 0 1 0 3.8 0a1.9 1.9 0 1 0 -3.8 0M884.5 932.7a1.9 1.9 0 1 0 3.8 0a1.9 1.9 0 1 0 -3.8 0M883.7 934.6a1.9 1.9 0 1 0 3.8 0a1.9 1.9 0 1 0 -3.8 0M884.1 936.0a1.9 1.9 0 1 0 3.8 0a1.9 1.9 0 1 0 -3.8 0M877.7 944.6a1.9 1.9 0 1 0 3.8 0a1.9 1.9 0 1 0 -3.8 0M878.0 946.5a1.9 1.9 0 1 0 3.8 0a1.9 1.9 0 1 0 -3.8 0M877.5 947.9a1.9 1.9 0 1 0 3.8 0a1.9 1.9 0 1 0 -3.8 0M877.3 949.9a1.9 1.9 0 1 0 3.8 0a1.9 1.9 0 1 0 -3.8 0M878.1 952.3a1.9 1.9 0 1 0 3.8 0a1.9 1.9 0 1 0 -3.8 0M877.4 954.6a1.9 1.9 0 1 0 3.8 0a1.9 1.9 0 1 0 -3.8 0M878.2 959.6a1.9 1.9 0 1 0 3.8 0a1.9 1.9 0 1 0 -3.8 0M876.8 961.5a1.9 1.9 0 1 0 3.8 0a1.9 1.9 0 1 0 -3.8 0M878.6 964.1a1.9 1.9 0 1 0 3.8 0a1.9 1.9 0 1 0 -3.8 0M877.6 965.8a1.9 1.9 0 1 0 3.8 0a1.9 1.9 0 1 0 -3.8 0M878.0 967.8a1.9 1.9 0 1 0 3.8 0a1.9 1.9 0 1 0 -3.8 0M877.7 969.8a1.9 1.9 0 1 0 3.8 0a1.9 1.9 0 1 0 -3.8 0M878.2 971.2a1.9 1.9 0 1 0 3.8 0a1.9 1.9 0 1 0 -3.8 0M877.7 973.7a1.9 1.9 0 1 0 3.8 0a1.9 1.9 0 1 0 -3.8 0M877.9 975.7a1.9 1.9 0 1 0 3.8 0a1.9 1.9 0 1 0 -3.8 0M878.2 977.1a1.9 1.9 0 1 0 3.8 0a1.9 1.9 0 1 0 -3.8 0M877.8 978.8a1.9 1.9 0 1 0 3.8 0a1.9 1.9 0 1 0 -3.8 0M877.4 981.2a1.9 1.9 0 1 0 3.8 0a1.9 1.9 0 1 0 -3.8 0M878.0 982.6a1.9 1.9 0 1 0 3.8 0a1.9 1.9 0 1 0 -3.8 0M877.3 984.4a1.9 1.9 0 1 0 3.8 0a1.9 1.9 0 1 0 -3.8 0M878.0 986.7a1.9 1.9 0 1 0 3.8 0a1.9 1.9 0 1 0 -3.8 0M877.9 988.2a1.9 1.9 0 1 0 3.8 0a1.9 1.9 0 1 0 -3.8 0M877.1 990.8a1.9 1.9 0 1 0 3.8 0a1.9 1.9 0 1 0 -3.8 0M878.4 992.5a1.9 1.9 0 1 0 3.8 0a1.9 1.9 0 1 0 -3.8 0M878.0 993.8a1.9 1.9 0 1 0 3.8 0a1.9 1.9 0 1 0 -3.8 0M878.2 996.5a1.9 1.9 0 1 0 3.8 0a1.9 1.9 0 1 0 -3.8 0M877.8 997.7a1.9 1.9 0 1 0 3.8 0a1.9 1.9 0 1 0 -3.8 0M877.2 1000.4a1.9 1.9 0 1 0 3.8 0a1.9 1.9 0 1 0 -3.8 0M878.4 1001.5a1.9 1.9 0 1 0 3.8 0a1.9 1.9 0 1 0 -3.8 0M877.2 1003.4a1.9 1.9 0 1 0 3.8 0a1.9 1.9 0 1 0 -3.8 0M878.1 1005.5a1.9 1.9 0 1 0 3.8 0a1.9 1.9 0 1 0 -3.8 0M878.0 1007.4a1.9 1.9 0 1 0 3.8 0a1.9 1.9 0 1 0 -3.8 0M876.8 1009.7a1.9 1.9 0 1 0 3.8 0a1.9 1.9 0 1 0 -3.8 0M877.7 1011.5a1.9 1.9 0 1 0 3.8 0a1.9 1.9 0 1 0 -3.8 0M878.5 1013.7a1.9 1.9 0 1 0 3.8 0a1.9 1.9 0 1 0 -3.8 0M878.0 1015.7a1.9 1.9 0 1 0 3.8 0a1.9 1.9 0 1 0 -3.8 0M878.6 1017.1a1.9 1.9 0 1 0 3.8 0a1.9 1.9 0 1 0 -3.8 0M878.1 1019.5a1.9 1.9 0 1 0 3.8 0a1.9 1.9 0 1 0 -3.8 0M878.1 1021.5a1.9 1.9 0 1 0 3.8 0a1.9 1.9 0 1 0 -3.8 0M881.0 959.9a1.9 1.9 0 1 0 3.8 0a1.9 1.9 0 1 0 -3.8 0M880.2 961.1a1.9 1.9 0 1 0 3.8 0a1.9 1.9 0 1 0 -3.8 0M881.6 963.5a1.9 1.9 0 1 0 3.8 0a1.9 1.9 0 1 0 -3.8 0M880.9 965.4a1.9 1.9 0 1 0 3.8 0a1.9 1.9 0 1 0 -3.8 0M880.8 967.4a1.9 1.9 0 1 0 3.8 0a1.9 1.9 0 1 0 -3.8 0M880.6 969.1a1.9 1.9 0 1 0 3.8 0a1.9 1.9 0 1 0 -3.8 0M881.1 970.4a1.9 1.9 0 1 0 3.8 0a1.9 1.9 0 1 0 -3.8 0M881.4 973.0a1.9 1.9 0 1 0 3.8 0a1.9 1.9 0 1 0 -3.8 0M881.0 974.5a1.9 1.9 0 1 0 3.8 0a1.9 1.9 0 1 0 -3.8 0M880.7 976.7a1.9 1.9 0 1 0 3.8 0a1.9 1.9 0 1 0 -3.8 0M881.1 978.5a1.9 1.9 0 1 0 3.8 0a1.9 1.9 0 1 0 -3.8 0M880.8 980.1a1.9 1.9 0 1 0 3.8 0a1.9 1.9 0 1 0 -3.8 0M881.7 982.2a1.9 1.9 0 1 0 3.8 0a1.9 1.9 0 1 0 -3.8 0M881.9 984.2a1.9 1.9 0 1 0 3.8 0a1.9 1.9 0 1 0 -3.8 0M880.2 986.2a1.9 1.9 0 1 0 3.8 0a1.9 1.9 0 1 0 -3.8 0M881.6 988.3a1.9 1.9 0 1 0 3.8 0a1.9 1.9 0 1 0 -3.8 0M880.4 990.1a1.9 1.9 0 1 0 3.8 0a1.9 1.9 0 1 0 -3.8 0M881.6 992.1a1.9 1.9 0 1 0 3.8 0a1.9 1.9 0 1 0 -3.8 0M881.6 993.7a1.9 1.9 0 1 0 3.8 0a1.9 1.9 0 1 0 -3.8 0M881.7 995.9a1.9 1.9 0 1 0 3.8 0a1.9 1.9 0 1 0 -3.8 0M881.1 997.5a1.9 1.9 0 1 0 3.8 0a1.9 1.9 0 1 0 -3.8 0M881.1 999.7a1.9 1.9 0 1 0 3.8 0a1.9 1.9 0 1 0 -3.8 0M880.3 1001.0a1.9 1.9 0 1 0 3.8 0a1.9 1.9 0 1 0 -3.8 0M881.7 1002.8a1.9 1.9 0 1 0 3.8 0a1.9 1.9 0 1 0 -3.8 0M880.4 1004.7a1.9 1.9 0 1 0 3.8 0a1.9 1.9 0 1 0 -3.8 0M880.5 1007.2a1.9 1.9 0 1 0 3.8 0a1.9 1.9 0 1 0 -3.8 0M881.0 1008.7a1.9 1.9 0 1 0 3.8 0a1.9 1.9 0 1 0 -3.8 0M881.7 1010.6a1.9 1.9 0 1 0 3.8 0a1.9 1.9 0 1 0 -3.8 0M880.6 1012.3a1.9 1.9 0 1 0 3.8 0a1.9 1.9 0 1 0 -3.8 0M880.8 1014.2a1.9 1.9 0 1 0 3.8 0a1.9 1.9 0 1 0 -3.8 0M880.6 1016.1a1.9 1.9 0 1 0 3.8 0a1.9 1.9 0 1 0 -3.8 0M880.8 1018.6a1.9 1.9 0 1 0 3.8 0a1.9 1.9 0 1 0 -3.8 0M881.9 1020.0a1.9 1.9 0 1 0 3.8 0a1.9 1.9 0 1 0 -3.8 0M881.1 1021.6a1.9 1.9 0 1 0 3.8 0a1.9 1.9 0 1 0 -3.8 0M883.7 961.9a1.9 1.9 0 1 0 3.8 0a1.9 1.9 0 1 0 -3.8 0M883.7 964.3a1.9 1.9 0 1 0 3.8 0a1.9 1.9 0 1 0 -3.8 0M884.1 965.9a1.9 1.9 0 1 0 3.8 0a1.9 1.9 0 1 0 -3.8 0M884.7 968.3a1.9 1.9 0 1 0 3.8 0a1.9 1.9 0 1 0 -3.8 0M885.3 969.3a1.9 1.9 0 1 0 3.8 0a1.9 1.9 0 1 0 -3.8 0M885.0 971.6a1.9 1.9 0 1 0 3.8 0a1.9 1.9 0 1 0 -3.8 0M884.2 973.9a1.9 1.9 0 1 0 3.8 0a1.9 1.9 0 1 0 -3.8 0M884.8 976.0a1.9 1.9 0 1 0 3.8 0a1.9 1.9 0 1 0 -3.8 0M884.8 977.2a1.9 1.9 0 1 0 3.8 0a1.9 1.9 0 1 0 -3.8 0M885.1 979.4a1.9 1.9 0 1 0 3.8 0a1.9 1.9 0 1 0 -3.8 0M883.7 980.9a1.9 1.9 0 1 0 3.8 0a1.9 1.9 0 1 0 -3.8 0M884.0 983.6a1.9 1.9 0 1 0 3.8 0a1.9 1.9 0 1 0 -3.8 0M884.0 985.0a1.9 1.9 0 1 0 3.8 0a1.9 1.9 0 1 0 -3.8 0M884.1 987.5a1.9 1.9 0 1 0 3.8 0a1.9 1.9 0 1 0 -3.8 0M883.9 989.1a1.9 1.9 0 1 0 3.8 0a1.9 1.9 0 1 0 -3.8 0M884.5 990.9a1.9 1.9 0 1 0 3.8 0a1.9 1.9 0 1 0 -3.8 0M884.1 993.4a1.9 1.9 0 1 0 3.8 0a1.9 1.9 0 1 0 -3.8 0M885.0 995.1a1.9 1.9 0 1 0 3.8 0a1.9 1.9 0 1 0 -3.8 0M885.3 996.3a1.9 1.9 0 1 0 3.8 0a1.9 1.9 0 1 0 -3.8 0M883.7 998.8a1.9 1.9 0 1 0 3.8 0a1.9 1.9 0 1 0 -3.8 0M884.9 1000.5a1.9 1.9 0 1 0 3.8 0a1.9 1.9 0 1 0 -3.8 0M883.7 1002.3a1.9 1.9 0 1 0 3.8 0a1.9 1.9 0 1 0 -3.8 0M884.1 1004.3a1.9 1.9 0 1 0 3.8 0a1.9 1.9 0 1 0 -3.8 0M884.6 1006.3a1.9 1.9 0 1 0 3.8 0a1.9 1.9 0 1 0 -3.8 0M885.1 1008.7a1.9 1.9 0 1 0 3.8 0a1.9 1.9 0 1 0 -3.8 0M883.9 1010.7a1.9 1.9 0 1 0 3.8 0a1.9 1.9 0 1 0 -3.8 0M885.1 1011.9a1.9 1.9 0 1 0 3.8 0a1.9 1.9 0 1 0 -3.8 0M884.9 1013.7a1.9 1.9 0 1 0 3.8 0a1.9 1.9 0 1 0 -3.8 0M884.6 1015.7a1.9 1.9 0 1 0 3.8 0a1.9 1.9 0 1 0 -3.8 0M883.9 1017.5a1.9 1.9 0 1 0 3.8 0a1.9 1.9 0 1 0 -3.8 0M879.3 965.1a1.9 1.9 0 1 0 3.8 0a1.9 1.9 0 1 0 -3.8 0M880.2 967.3a1.9 1.9 0 1 0 3.8 0a1.9 1.9 0 1 0 -3.8 0M879.6 969.0a1.9 1.9 0 1 0 3.8 0a1.9 1.9 0 1 0 -3.8 0M880.3 970.9a1.9 1.9 0 1 0 3.8 0a1.9 1.9 0 1 0 -3.8 0M878.7 972.3a1.9 1.9 0 1 0 3.8 0a1.9 1.9 0 1 0 -3.8 0M879.5 974.4a1.9 1.9 0 1 0 3.8 0a1.9 1.9 0 1 0 -3.8 0M879.6 976.3a1.9 1.9 0 1 0 3.8 0a1.9 1.9 0 1 0 -3.8 0M879.5 978.6a1.9 1.9 0 1 0 3.8 0a1.9 1.9 0 1 0 -3.8 0M878.8 980.8a1.9 1.9 0 1 0 3.8 0a1.9 1.9 0 1 0 -3.8 0M879.9 982.1a1.9 1.9 0 1 0 3.8 0a1.9 1.9 0 1 0 -3.8 0M879.0 984.5a1.9 1.9 0 1 0 3.8 0a1.9 1.9 0 1 0 -3.8 0M880.2 985.8a1.9 1.9 0 1 0 3.8 0a1.9 1.9 0 1 0 -3.8 0M879.2 988.1a1.9 1.9 0 1 0 3.8 0a1.9 1.9 0 1 0 -3.8 0M879.1 989.8a1.9 1.9 0 1 0 3.8 0a1.9 1.9 0 1 0 -3.8 0M880.0 991.9a1.9 1.9 0 1 0 3.8 0a1.9 1.9 0 1 0 -3.8 0M879.8 993.6a1.9 1.9 0 1 0 3.8 0a1.9 1.9 0 1 0 -3.8 0M879.5 996.2a1.9 1.9 0 1 0 3.8 0a1.9 1.9 0 1 0 -3.8 0M879.6 997.2a1.9 1.9 0 1 0 3.8 0a1.9 1.9 0 1 0 -3.8 0M879.3 999.6a1.9 1.9 0 1 0 3.8 0a1.9 1.9 0 1 0 -3.8 0M878.9 1001.2a1.9 1.9 0 1 0 3.8 0a1.9 1.9 0 1 0 -3.8 0M879.7 1003.4a1.9 1.9 0 1 0 3.8 0a1.9 1.9 0 1 0 -3.8 0M878.7 1005.6a1.9 1.9 0 1 0 3.8 0a1.9 1.9 0 1 0 -3.8 0M879.9 1006.8a1.9 1.9 0 1 0 3.8 0a1.9 1.9 0 1 0 -3.8 0M880.2 1009.2a1.9 1.9 0 1 0 3.8 0a1.9 1.9 0 1 0 -3.8 0M879.3 1010.7a1.9 1.9 0 1 0 3.8 0a1.9 1.9 0 1 0 -3.8 0M880.3 1013.0a1.9 1.9 0 1 0 3.8 0a1.9 1.9 0 1 0 -3.8 0M880.0 1015.2a1.9 1.9 0 1 0 3.8 0a1.9 1.9 0 1 0 -3.8 0M883.1 966.2a1.9 1.9 0 1 0 3.8 0a1.9 1.9 0 1 0 -3.8 0M883.2 967.6a1.9 1.9 0 1 0 3.8 0a1.9 1.9 0 1 0 -3.8 0M882.1 970.1a1.9 1.9 0 1 0 3.8 0a1.9 1.9 0 1 0 -3.8 0M882.3 972.0a1.9 1.9 0 1 0 3.8 0a1.9 1.9 0 1 0 -3.8 0M883.2 974.1a1.9 1.9 0 1 0 3.8 0a1.9 1.9 0 1 0 -3.8 0M883.2 975.7a1.9 1.9 0 1 0 3.8 0a1.9 1.9 0 1 0 -3.8 0M883.5 977.9a1.9 1.9 0 1 0 3.8 0a1.9 1.9 0 1 0 -3.8 0M883.8 979.4a1.9 1.9 0 1 0 3.8 0a1.9 1.9 0 1 0 -3.8 0M882.3 981.8a1.9 1.9 0 1 0 3.8 0a1.9 1.9 0 1 0 -3.8 0M882.6 983.5a1.9 1.9 0 1 0 3.8 0a1.9 1.9 0 1 0 -3.8 0M882.8 984.7a1.9 1.9 0 1 0 3.8 0a1.9 1.9 0 1 0 -3.8 0M883.8 987.0a1.9 1.9 0 1 0 3.8 0a1.9 1.9 0 1 0 -3.8 0M883.7 989.3a1.9 1.9 0 1 0 3.8 0a1.9 1.9 0 1 0 -3.8 0M883.8 991.3a1.9 1.9 0 1 0 3.8 0a1.9 1.9 0 1 0 -3.8 0M882.6 992.7a1.9 1.9 0 1 0 3.8 0a1.9 1.9 0 1 0 -3.8 0M883.3 995.2a1.9 1.9 0 1 0 3.8 0a1.9 1.9 0 1 0 -3.8 0M883.3 996.9a1.9 1.9 0 1 0 3.8 0a1.9 1.9 0 1 0 -3.8 0M882.6 998.5a1.9 1.9 0 1 0 3.8 0a1.9 1.9 0 1 0 -3.8 0M883.2 1000.8a1.9 1.9 0 1 0 3.8 0a1.9 1.9 0 1 0 -3.8 0M883.7 1002.0a1.9 1.9 0 1 0 3.8 0a1.9 1.9 0 1 0 -3.8 0M883.6 1004.0a1.9 1.9 0 1 0 3.8 0a1.9 1.9 0 1 0 -3.8 0M883.6 1005.9a1.9 1.9 0 1 0 3.8 0a1.9 1.9 0 1 0 -3.8 0M882.1 1007.8a1.9 1.9 0 1 0 3.8 0a1.9 1.9 0 1 0 -3.8 0M882.2 1010.1a1.9 1.9 0 1 0 3.8 0a1.9 1.9 0 1 0 -3.8 0M883.5 1012.3a1.9 1.9 0 1 0 3.8 0a1.9 1.9 0 1 0 -3.8 0M883.7 1013.8a1.9 1.9 0 1 0 3.8 0a1.9 1.9 0 1 0 -3.8 0" fill="#0a0a0a"/>
<line x1="897.30" y1="666.10" x2="896.20" y2="1120.60" stroke="#ed3023" stroke-width="4.5" stroke-dasharray="7.7 8.52" stroke-dashoffset="7.0" stroke-linecap="round"/>
<line x1="936.90" y1="662.60" x2="935.00" y2="1119.00" stroke="#ed3023" stroke-width="4.5" stroke-dasharray="7.64 8.52" stroke-dashoffset="3.4" stroke-linecap="round"/>
<line x1="1242.30" y1="660.50" x2="1242.30" y2="1125.90" stroke="#ee3641" stroke-width="2.3" stroke-dasharray="13.7 7.87" stroke-dashoffset="0"/>
<line x1="1341.30" y1="661.50" x2="1340.70" y2="1127.60" stroke="#ee3641" stroke-width="2.3" stroke-dasharray="13.7 7.87" stroke-dashoffset="0"/>
<path d="M858.45 1092.00h14.10M858.45 1115.60h14.10M865.50 1092.00V1115.60" fill="none" stroke="#ec1f28" stroke-width="3.1"/>
<path d="M903.10 994.60h24.40M903.10 1016.60h24.40M909.00 994.60V1016.60M921.60 994.60V1016.60" fill="none" stroke="#ec1f28" stroke-width="3.1"/>
<path d="M1276.45 1076.70h30.90M1276.45 1101.50h30.90M1281.70 1076.70V1101.50M1291.90 1076.70V1101.50M1302.10 1076.70V1101.50" fill="none" stroke="#ec1f28" stroke-width="3.0"/>
<text x="1289.90" y="835.60" text-anchor="middle" font-family="Liberation Sans, sans-serif" font-size="21.6" fill="#1a1a1a" textLength="60.8" lengthAdjust="spacingAndGlyphs">64~79</text>
<line x1="1253.42" y1="851.30" x2="1328.68" y2="851.30" stroke="#6a6a6a" stroke-width="2.0"/>
<path d="M1242.50 851.30L1260.70 844.30L1255.24 851.30L1260.70 858.30ZM1339.60 851.30L1321.40 844.30L1326.86 851.30L1321.40 858.30Z" fill="#111"/>
<rect x="100.60" y="37.00" width="565.50" height="470.40" fill="none" stroke="#262626" stroke-width="1.5"/>
<path d="M162.95 507.40v-5.7M162.95 37.00v5.7M225.90 507.40v-5.7M225.90 37.00v5.7M288.85 507.40v-5.7M288.85 37.00v5.7M351.80 507.40v-5.7M351.80 37.00v5.7M414.75 507.40v-5.7M414.75 37.00v5.7M477.70 507.40v-5.7M477.70 37.00v5.7M540.65 507.40v-5.7M540.65 37.00v5.7M603.60 507.40v-5.7M603.60 37.00v5.7M100.60 449.61h5.7M666.10 449.61h-5.7M100.60 390.54h5.7M666.10 390.54h-5.7M100.60 331.47h5.7M666.10 331.47h-5.7M100.60 272.40h5.7M666.10 272.40h-5.7M100.60 213.33h5.7M666.10 213.33h-5.7M100.60 154.26h5.7M666.10 154.26h-5.7M100.60 95.19h5.7M666.10 95.19h-5.7" stroke="#262626" stroke-width="1.5" fill="none"/>
<g font-family="Liberation Sans, sans-serif" font-size="18" fill="#262626">
<text x="99.10" y="533.70" text-anchor="middle">0</text>
<text x="162.17" y="533.70" text-anchor="middle">10</text>
<text x="225.24" y="533.70" text-anchor="middle">20</text>
<text x="288.31" y="533.70" text-anchor="middle">30</text>
<text x="351.38" y="533.70" text-anchor="middle">40</text>
<text x="414.45" y="533.70" text-anchor="middle">50</text>
<text x="477.52" y="533.70" text-anchor="middle">60</text>
<text x="540.59" y="533.70" text-anchor="middle">70</text>
<text x="603.66" y="533.70" text-anchor="middle">80</text>
<text x="666.73" y="533.70" text-anchor="middle">90</text>
<text x="91.60" y="516.68" text-anchor="end">-0.02</text>
<text x="91.60" y="457.61" text-anchor="end">-0.015</text>
<text x="91.60" y="398.54" text-anchor="end">-0.01</text>
<text x="91.60" y="339.47" text-anchor="end">-0.005</text>
<text x="91.60" y="280.40" text-anchor="end">0</text>
<text x="91.60" y="221.33" text-anchor="end">0.005</text>
<text x="91.60" y="162.26" text-anchor="end">0.01</text>
<text x="91.60" y="103.19" text-anchor="end">0.015</text>
<text x="91.60" y="44.12" text-anchor="end">0.02</text>
</g>
<text x="383.10" y="568.70" text-anchor="middle" font-family="Liberation Sans, sans-serif" font-weight="bold" font-size="28" fill="#262626" textLength="276.2" lengthAdjust="spacingAndGlyphs">Pulsating frequency</text>
<text transform="translate(29.50 273.70) rotate(-90)" text-anchor="middle" font-family="Liberation Sans, sans-serif" font-weight="bold" font-size="28" fill="#262626" textLength="329.5" lengthAdjust="spacingAndGlyphs">Displacement amplitude</text>
<rect x="842.00" y="37.00" width="565.40" height="470.30" fill="none" stroke="#262626" stroke-width="1.5"/>
<path d="M904.40 507.30v-5.7M904.40 37.00v5.7M967.35 507.30v-5.7M967.35 37.00v5.7M1030.30 507.30v-5.7M1030.30 37.00v5.7M1093.25 507.30v-5.7M1093.25 37.00v5.7M1156.20 507.30v-5.7M1156.20 37.00v5.7M1219.15 507.30v-5.7M1219.15 37.00v5.7M1282.10 507.30v-5.7M1282.10 37.00v5.7M1345.05 507.30v-5.7M1345.05 37.00v5.7M842.00 449.61h5.7M1407.40 449.61h-5.7M842.00 390.54h5.7M1407.40 390.54h-5.7M842.00 331.47h5.7M1407.40 331.47h-5.7M842.00 272.40h5.7M1407.40 272.40h-5.7M842.00 213.33h5.7M1407.40 213.33h-5.7M842.00 154.26h5.7M1407.40 154.26h-5.7M842.00 95.19h5.7M1407.40 95.19h-5.7" stroke="#262626" stroke-width="1.5" fill="none"/>
<g font-family="Liberation Sans, sans-serif" font-size="18" fill="#262626">
<text x="840.55" y="533.60" text-anchor="middle">0</text>
<text x="903.62" y="533.60" text-anchor="middle">10</text>
<text x="966.69" y="533.60" text-anchor="middle">20</text>
<text x="1029.76" y="533.60" text-anchor="middle">30</text>
<text x="1092.83" y="533.60" text-anchor="middle">40</text>
<text x="1155.90" y="533.60" text-anchor="middle">50</text>
<text x="1218.97" y="533.60" text-anchor="middle">60</text>
<text x="1282.04" y="533.60" text-anchor="middle">70</text>
<text x="1345.11" y="533.60" text-anchor="middle">80</text>
<text x="1408.18" y="533.60" text-anchor="middle">90</text>
<text x="833.00" y="516.68" text-anchor="end">-0.02</text>
<text x="833.00" y="457.61" text-anchor="end">-0.015</text>
<text x="833.00" y="398.54" text-anchor="end">-0.01</text>
<text x="833.00" y="339.47" text-anchor="end">-0.005</text>
<text x="833.00" y="280.40" text-anchor="end">0</text>
<text x="833.00" y="221.33" text-anchor="end">0.005</text>
<text x="833.00" y="162.26" text-anchor="end">0.01</text>
<text x="833.00" y="103.19" text-anchor="end">0.015</text>
<text x="833.00" y="44.12" text-anchor="end">0.02</text>
</g>
<text x="1124.50" y="568.80" text-anchor="middle" font-family="Liberation Sans, sans-serif" font-weight="bold" font-size="28" fill="#262626" textLength="276.2" lengthAdjust="spacingAndGlyphs">Pulsating frequency</text>
<text transform="translate(771.00 273.65) rotate(-90)" text-anchor="middle" font-family="Liberation Sans, sans-serif" font-weight="bold" font-size="28" fill="#262626" textLength="329.5" lengthAdjust="spacingAndGlyphs">Displacement amplitude</text>
<rect x="97.90" y="655.80" width="568.10" height="473.40" fill="none" stroke="#262626" stroke-width="1.5"/>
<path d="M159.63 1129.20v-5.7M159.63 655.80v5.7M223.06 1129.20v-5.7M223.06 655.80v5.7M286.49 1129.20v-5.7M286.49 655.80v5.7M349.92 1129.20v-5.7M349.92 655.80v5.7M413.35 1129.20v-5.7M413.35 655.80v5.7M476.78 1129.20v-5.7M476.78 655.80v5.7M540.21 1129.20v-5.7M540.21 655.80v5.7M603.64 1129.20v-5.7M603.64 655.80v5.7M97.90 1071.40h5.7M666.00 1071.40h-5.7M97.90 1012.05h5.7M666.00 1012.05h-5.7M97.90 952.70h5.7M666.00 952.70h-5.7M97.90 893.35h5.7M666.00 893.35h-5.7M97.90 834.00h5.7M666.00 834.00h-5.7M97.90 774.65h5.7M666.00 774.65h-5.7M97.90 715.30h5.7M666.00 715.30h-5.7" stroke="#262626" stroke-width="1.5" fill="none"/>
<g font-family="Liberation Sans, sans-serif" font-size="18" fill="#262626">
<text x="96.40" y="1155.50" text-anchor="middle">0</text>
<text x="159.78" y="1155.50" text-anchor="middle">10</text>
<text x="223.16" y="1155.50" text-anchor="middle">20</text>
<text x="286.54" y="1155.50" text-anchor="middle">30</text>
<text x="349.92" y="1155.50" text-anchor="middle">40</text>
<text x="413.30" y="1155.50" text-anchor="middle">50</text>
<text x="476.68" y="1155.50" text-anchor="middle">60</text>
<text x="540.06" y="1155.50" text-anchor="middle">70</text>
<text x="603.44" y="1155.50" text-anchor="middle">80</text>
<text x="666.82" y="1155.50" text-anchor="middle">90</text>
<text x="88.90" y="1138.55" text-anchor="end">-0.02</text>
<text x="88.90" y="1079.15" text-anchor="end">-0.015</text>
<text x="88.90" y="1019.75" text-anchor="end">-0.01</text>
<text x="88.90" y="960.35" text-anchor="end">-0.005</text>
<text x="88.90" y="900.95" text-anchor="end">0</text>
<text x="88.90" y="841.55" text-anchor="end">0.005</text>
<text x="88.90" y="782.15" text-anchor="end">0.01</text>
<text x="88.90" y="722.75" text-anchor="end">0.015</text>
<text x="88.90" y="663.35" text-anchor="end">0.02</text>
</g>
<text x="381.30" y="1188.10" text-anchor="middle" font-family="Liberation Serif, serif" font-weight="bold" font-size="28.4" fill="#262626" textLength="244.0" lengthAdjust="spacing">Pulsating frequency</text>
<text transform="translate(27.00 892.00) rotate(-90)" text-anchor="middle" font-family="Liberation Serif, serif" font-weight="bold" font-size="28.4" fill="#262626" textLength="300" lengthAdjust="spacing">Displacement amplitude</text>
<rect x="839.20" y="655.80" width="568.20" height="473.50" fill="none" stroke="#262626" stroke-width="1.5"/>
<path d="M901.58 1129.30v-5.7M901.58 655.80v5.7M964.96 1129.30v-5.7M964.96 655.80v5.7M1028.34 1129.30v-5.7M1028.34 655.80v5.7M1091.72 1129.30v-5.7M1091.72 655.80v5.7M1155.10 1129.30v-5.7M1155.10 655.80v5.7M1218.48 1129.30v-5.7M1218.48 655.80v5.7M1281.86 1129.30v-5.7M1281.86 655.80v5.7M1345.24 1129.30v-5.7M1345.24 655.80v5.7M839.20 1071.40h5.7M1407.40 1071.40h-5.7M839.20 1012.05h5.7M1407.40 1012.05h-5.7M839.20 952.70h5.7M1407.40 952.70h-5.7M839.20 893.35h5.7M1407.40 893.35h-5.7M839.20 834.00h5.7M1407.40 834.00h-5.7M839.20 774.65h5.7M1407.40 774.65h-5.7M839.20 715.30h5.7M1407.40 715.30h-5.7" stroke="#262626" stroke-width="1.5" fill="none"/>
<g font-family="Liberation Sans, sans-serif" font-size="18" fill="#262626">
<text x="838.20" y="1155.60" text-anchor="middle">0</text>
<text x="901.58" y="1155.60" text-anchor="middle">10</text>
<text x="964.96" y="1155.60" text-anchor="middle">20</text>
<text x="1028.34" y="1155.60" text-anchor="middle">30</text>
<text x="1091.72" y="1155.60" text-anchor="middle">40</text>
<text x="1155.10" y="1155.60" text-anchor="middle">50</text>
<text x="1218.48" y="1155.60" text-anchor="middle">60</text>
<text x="1281.86" y="1155.60" text-anchor="middle">70</text>
<text x="1345.24" y="1155.60" text-anchor="middle">80</text>
<text x="1408.62" y="1155.60" text-anchor="middle">90</text>
<text x="830.20" y="1138.55" text-anchor="end">-0.02</text>
<text x="830.20" y="1079.15" text-anchor="end">-0.015</text>
<text x="830.20" y="1019.75" text-anchor="end">-0.01</text>
<text x="830.20" y="960.35" text-anchor="end">-0.005</text>
<text x="830.20" y="900.95" text-anchor="end">0</text>
<text x="830.20" y="841.55" text-anchor="end">0.005</text>
<text x="830.20" y="782.15" text-anchor="end">0.01</text>
<text x="830.20" y="722.75" text-anchor="end">0.015</text>
<text x="830.20" y="663.35" text-anchor="end">0.02</text>
</g>
<text x="1123.10" y="1188.10" text-anchor="middle" font-family="Liberation Serif, serif" font-weight="bold" font-size="28.4" fill="#262626" textLength="244.0" lengthAdjust="spacing">Pulsating frequency</text>
<text transform="translate(768.20 892.05) rotate(-90)" text-anchor="middle" font-family="Liberation Serif, serif" font-weight="bold" font-size="28.4" fill="#262626" textLength="300" lengthAdjust="spacing">Displacement amplitude</text>
</svg></body></html>
